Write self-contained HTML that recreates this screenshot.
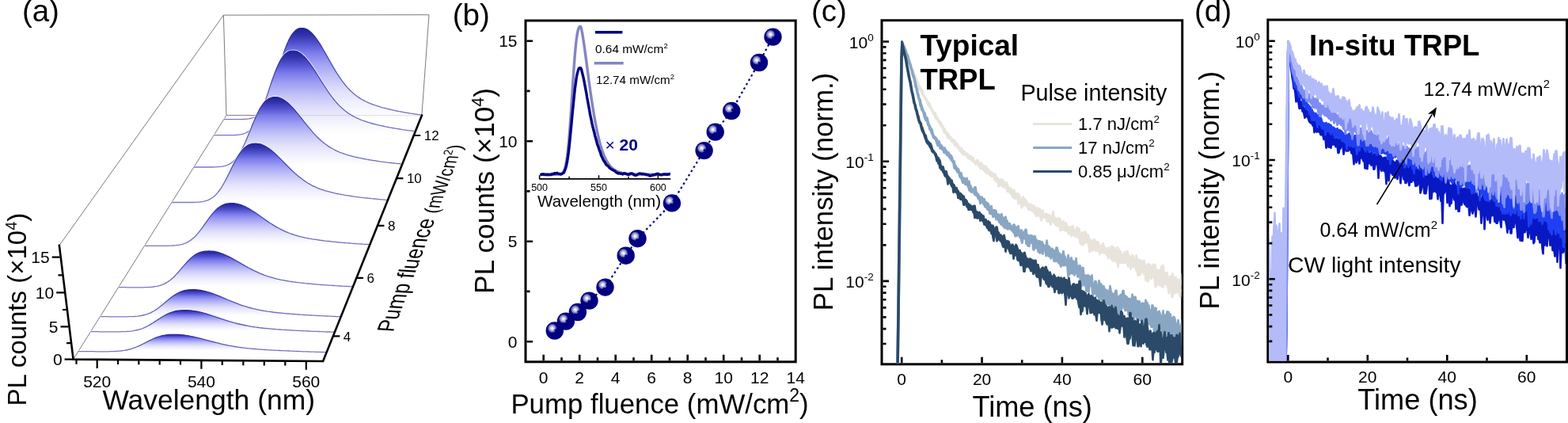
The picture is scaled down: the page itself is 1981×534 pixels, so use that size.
<!DOCTYPE html>
<html><head><meta charset="utf-8"><title>Figure</title><style>html,body{margin:0;padding:0;background:#fff;}svg{display:block;}</style></head><body>
<svg width="1981" height="534" viewBox="0 0 1981 534" font-family="'Liberation Sans', Arial, Helvetica, sans-serif"><rect width="1981" height="534" fill="#fff"/><defs>
<radialGradient id="hl" cx="0.5" cy="0.5" r="0.5"><stop offset="0" stop-color="#ffffff"/><stop offset="0.18" stop-color="#f0f0f8"/><stop offset="0.42" stop-color="#bcbcde"/><stop offset="0.72" stop-color="#7a7abe"/><stop offset="1" stop-color="#000080"/></radialGradient>
<clipPath id="cc"><rect x="1115.5" y="27" width="377" height="431.5"/></clipPath>
<clipPath id="cd"><rect x="1603.3" y="26.5" width="374.5" height="429"/></clipPath>
</defs>
<polyline points="74.9,309.9 282.4,19.1 542,18.7 532.9,145.8" stroke="#7a7a7a" stroke-width="1" fill="none"/>
<polyline points="92.6,453.6 286,145.5 532.9,145.8" stroke="#7a7a7a" stroke-width="1" fill="none"/>
<polyline points="282.4,19.1 286,145.5" stroke="#7a7a7a" stroke-width="1" fill="none"/>
<linearGradient id="g8" gradientUnits="userSpaceOnUse" x1="0" y1="34.6" x2="0" y2="148.8"><stop offset="0" stop-color="#1e1e96"/><stop offset="0.08" stop-color="#3030a8"/><stop offset="0.18" stop-color="#5454d2"/><stop offset="0.28" stop-color="#7c7cec"/><stop offset="0.4" stop-color="#a0a0f4"/><stop offset="0.55" stop-color="#c4c4f8"/><stop offset="0.7" stop-color="#e0e0fb"/><stop offset="0.85" stop-color="#f2f2fd"/><stop offset="1" stop-color="#ffffff"/></linearGradient>
<linearGradient id="lg8" gradientUnits="userSpaceOnUse" x1="0" y1="34.6" x2="0" y2="150.8"><stop offset="0" stop-color="#22229a"/><stop offset="0.4" stop-color="#4c4cb4"/><stop offset="1" stop-color="#7878c4"/></linearGradient>
<polyline points="282.8,150.7 284.6,150.7 286.3,150.7 288.1,150.7 289.9,150.7 291.7,150.7 293.4,150.7 295.2,150.7 297,150.7 298.8,150.7 300.5,150.7 302.3,150.7 304.1,150.6 305.9,150.6 307.6,150.5 309.4,150.4 311.2,150.3 313,150.1 314.7,149.9 316.5,149.5 318.3,149.1 320.1,148.5 321.8,147.8 323.6,146.9 325.4,145.7 327.1,144.3 328.9,142.6 330.7,140.5 332.4,138.1 334.2,135.2 335.9,132 337.7,128.4 339.5,124.3 341.2,119.9 343,115 344.8,109.8 346.6,104.4 348.4,98.7 350.2,92.9 352,86.9 353.8,81 355.6,75.3 357.5,69.6 359.3,64.3 361.2,59.3 363,54.8 364.9,50.6 366.7,47 368.6,43.9 370.5,41.4 372.4,39.4 374.2,37.8 376.1,36.7 378,36 379.8,35.7 381.7,35.6 383.6,35.7 385.4,36.1 387.3,36.8 389.1,37.8 391,39.2 392.8,40.7 394.7,42.6 396.5,44.6 398.3,46.9 400.1,49.4 402,52 403.8,54.8 405.6,57.7 407.4,60.7 409.1,63.8 410.9,66.9 412.7,70.1 414.5,73.2 416.2,76.4 418,79.5 419.8,82.6 421.5,85.6 423.3,88.6 425,91.4 426.8,94.2 428.5,96.9 430.3,99.4 432,101.9 433.8,104.2 435.5,106.5 437.3,108.6 439,110.6 440.8,112.5 442.5,114.3 444.3,116 446.1,117.5 447.8,119 449.6,120.4 451.3,121.7 453.1,122.9 454.9,124.1 456.6,125.2 458.4,126.2 460.2,127.1 461.9,128 463.7,128.9 465.5,129.6 467.2,130.4 469,131.1 470.8,131.8 472.5,132.4 474.3,133 476.1,133.6 477.9,134.2 479.6,134.7 481.4,135.3 483.2,135.8 485,136.2 486.7,136.7 488.5,137.2 490.3,137.6 492.1,138 493.9,138.4 495.6,138.8 497.4,139.2 499.2,139.6 501,140 502.7,140.3 504.5,140.7 506.3,141 508.1,141.3 509.9,141.7 511.6,142 513.4,142.3 515.2,142.6 517,142.9 518.8,143.2 520.5,143.4 522.3,143.7 524.1,144 525.9,144.2 527.7,144.5 529.4,144.7 531.2,144.9" fill="none" stroke="#ffffff" stroke-width="2.8"/>
<polygon points="282.8,150.7 284.6,150.7 286.3,150.7 288.1,150.7 289.9,150.7 291.7,150.7 293.4,150.7 295.2,150.7 297,150.7 298.8,150.7 300.5,150.7 302.3,150.7 304.1,150.6 305.9,150.6 307.6,150.5 309.4,150.4 311.2,150.3 313,150.1 314.7,149.9 316.5,149.5 318.3,149.1 320.1,148.5 321.8,147.8 323.6,146.9 325.4,145.7 327.1,144.3 328.9,142.6 330.7,140.5 332.4,138.1 334.2,135.2 335.9,132 337.7,128.4 339.5,124.3 341.2,119.9 343,115 344.8,109.8 346.6,104.4 348.4,98.7 350.2,92.9 352,86.9 353.8,81 355.6,75.3 357.5,69.6 359.3,64.3 361.2,59.3 363,54.8 364.9,50.6 366.7,47 368.6,43.9 370.5,41.4 372.4,39.4 374.2,37.8 376.1,36.7 378,36 379.8,35.7 381.7,35.6 383.6,35.7 385.4,36.1 387.3,36.8 389.1,37.8 391,39.2 392.8,40.7 394.7,42.6 396.5,44.6 398.3,46.9 400.1,49.4 402,52 403.8,54.8 405.6,57.7 407.4,60.7 409.1,63.8 410.9,66.9 412.7,70.1 414.5,73.2 416.2,76.4 418,79.5 419.8,82.6 421.5,85.6 423.3,88.6 425,91.4 426.8,94.2 428.5,96.9 430.3,99.4 432,101.9 433.8,104.2 435.5,106.5 437.3,108.6 439,110.6 440.8,112.5 442.5,114.3 444.3,116 446.1,117.5 447.8,119 449.6,120.4 451.3,121.7 453.1,122.9 454.9,124.1 456.6,125.2 458.4,126.2 460.2,127.1 461.9,128 463.7,128.9 465.5,129.6 467.2,130.4 469,131.1 470.8,131.8 472.5,132.4 474.3,133 476.1,133.6 477.9,134.2 479.6,134.7 481.4,135.3 483.2,135.8 485,136.2 486.7,136.7 488.5,137.2 490.3,137.6 492.1,138 493.9,138.4 495.6,138.8 497.4,139.2 499.2,139.6 501,140 502.7,140.3 504.5,140.7 506.3,141 508.1,141.3 509.9,141.7 511.6,142 513.4,142.3 515.2,142.6 517,142.9 518.8,143.2 520.5,143.4 522.3,143.7 524.1,144 525.9,144.2 527.7,144.5 529.4,144.7 531.2,144.9 530.8,151 529,151 527.2,151 525.4,151 523.6,151 521.8,151 520,150.9 518.2,150.9 516.5,150.9 514.7,150.9 512.9,150.9 511.1,150.9 509.3,150.9 507.5,150.9 505.7,150.9 503.9,150.9 502.1,150.9 500.3,150.9 498.5,150.9 496.7,150.9 495,150.9 493.2,150.9 491.4,150.9 489.6,150.9 487.8,150.9 486,150.9 484.2,150.9 482.4,150.9 480.6,150.9 478.8,150.9 477.1,150.9 475.3,150.9 473.5,150.9 471.7,150.9 469.9,150.9 468.1,150.9 466.3,150.9 464.5,150.9 462.7,150.9 461,150.9 459.2,150.9 457.4,150.9 455.6,150.9 453.8,150.9 452,150.9 450.2,150.9 448.4,150.9 446.7,150.9 444.9,150.9 443.1,150.9 441.3,150.9 439.5,150.9 437.7,150.9 435.9,150.9 434.1,150.9 432.4,150.9 430.6,150.9 428.8,150.9 427,150.8 425.2,150.8 423.4,150.8 421.6,150.8 419.9,150.8 418.1,150.8 416.3,150.8 414.5,150.8 412.7,150.8 410.9,150.8 409.1,150.8 407.4,150.8 405.6,150.8 403.8,150.8 402,150.8 400.2,150.8 398.4,150.8 396.7,150.8 394.9,150.8 393.1,150.8 391.3,150.8 389.5,150.8 387.7,150.8 386,150.8 384.2,150.8 382.4,150.8 380.6,150.8 378.8,150.8 377,150.8 375.3,150.8 373.5,150.8 371.7,150.8 369.9,150.8 368.1,150.8 366.4,150.8 364.6,150.8 362.8,150.8 361,150.8 359.2,150.8 357.5,150.8 355.7,150.8 353.9,150.8 352.1,150.8 350.3,150.8 348.6,150.8 346.8,150.8 345,150.8 343.2,150.8 341.4,150.8 339.7,150.8 337.9,150.8 336.1,150.7 334.3,150.7 332.5,150.7 330.8,150.7 329,150.7 327.2,150.7 325.4,150.7 323.6,150.7 321.9,150.7 320.1,150.7 318.3,150.7 316.5,150.7 314.8,150.7 313,150.7 311.2,150.7 309.4,150.7 307.7,150.7 305.9,150.7 304.1,150.7 302.3,150.7 300.5,150.7 298.8,150.7 297,150.7 295.2,150.7 293.4,150.7 291.7,150.7 289.9,150.7 288.1,150.7 286.3,150.7 284.6,150.7 282.8,150.7" fill="url(#g8)"/>
<polyline points="282.8,150.7 284.6,150.7 286.3,150.7 288.1,150.7 289.9,150.7 291.7,150.7 293.4,150.7 295.2,150.7 297,150.7 298.8,150.7 300.5,150.7 302.3,150.7 304.1,150.6 305.9,150.6 307.6,150.5 309.4,150.4 311.2,150.3 313,150.1 314.7,149.9 316.5,149.5 318.3,149.1 320.1,148.5 321.8,147.8 323.6,146.9 325.4,145.7 327.1,144.3 328.9,142.6 330.7,140.5 332.4,138.1 334.2,135.2 335.9,132 337.7,128.4 339.5,124.3 341.2,119.9 343,115 344.8,109.8 346.6,104.4 348.4,98.7 350.2,92.9 352,86.9 353.8,81 355.6,75.3 357.5,69.6 359.3,64.3 361.2,59.3 363,54.8 364.9,50.6 366.7,47 368.6,43.9 370.5,41.4 372.4,39.4 374.2,37.8 376.1,36.7 378,36 379.8,35.7 381.7,35.6 383.6,35.7 385.4,36.1 387.3,36.8 389.1,37.8 391,39.2 392.8,40.7 394.7,42.6 396.5,44.6 398.3,46.9 400.1,49.4 402,52 403.8,54.8 405.6,57.7 407.4,60.7 409.1,63.8 410.9,66.9 412.7,70.1 414.5,73.2 416.2,76.4 418,79.5 419.8,82.6 421.5,85.6 423.3,88.6 425,91.4 426.8,94.2 428.5,96.9 430.3,99.4 432,101.9 433.8,104.2 435.5,106.5 437.3,108.6 439,110.6 440.8,112.5 442.5,114.3 444.3,116 446.1,117.5 447.8,119 449.6,120.4 451.3,121.7 453.1,122.9 454.9,124.1 456.6,125.2 458.4,126.2 460.2,127.1 461.9,128 463.7,128.9 465.5,129.6 467.2,130.4 469,131.1 470.8,131.8 472.5,132.4 474.3,133 476.1,133.6 477.9,134.2 479.6,134.7 481.4,135.3 483.2,135.8 485,136.2 486.7,136.7 488.5,137.2 490.3,137.6 492.1,138 493.9,138.4 495.6,138.8 497.4,139.2 499.2,139.6 501,140 502.7,140.3 504.5,140.7 506.3,141 508.1,141.3 509.9,141.7 511.6,142 513.4,142.3 515.2,142.6 517,142.9 518.8,143.2 520.5,143.4 522.3,143.7 524.1,144 525.9,144.2 527.7,144.5 529.4,144.7 531.2,144.9" fill="none" stroke="url(#lg8)" stroke-width="1.3"/>
<linearGradient id="g7" gradientUnits="userSpaceOnUse" x1="0" y1="63.1" x2="0" y2="168.9"><stop offset="0" stop-color="#1e1e96"/><stop offset="0.08" stop-color="#3030a8"/><stop offset="0.18" stop-color="#5454d2"/><stop offset="0.28" stop-color="#7c7cec"/><stop offset="0.4" stop-color="#a0a0f4"/><stop offset="0.55" stop-color="#c4c4f8"/><stop offset="0.7" stop-color="#e0e0fb"/><stop offset="0.85" stop-color="#f2f2fd"/><stop offset="1" stop-color="#ffffff"/></linearGradient>
<linearGradient id="lg7" gradientUnits="userSpaceOnUse" x1="0" y1="63.1" x2="0" y2="170.9"><stop offset="0" stop-color="#22229a"/><stop offset="0.4" stop-color="#4c4cb4"/><stop offset="1" stop-color="#7878c4"/></linearGradient>
<polyline points="270.2,170.7 272,170.7 273.8,170.7 275.6,170.7 277.4,170.7 279.3,170.7 281.1,170.7 282.9,170.7 284.7,170.7 286.5,170.7 288.3,170.7 290.1,170.7 291.9,170.7 293.7,170.6 295.5,170.6 297.3,170.5 299.1,170.4 300.9,170.2 302.7,170 304.6,169.7 306.4,169.3 308.2,168.7 310,168 311.7,167.2 313.5,166.1 315.3,164.8 317.1,163.2 318.9,161.3 320.7,159 322.5,156.4 324.3,153.4 326,150 327.8,146.3 329.6,142.1 331.4,137.6 333.2,132.8 335,127.8 336.8,122.5 338.6,117.1 340.4,111.6 342.2,106.1 344,100.8 345.9,95.6 347.7,90.7 349.6,86.1 351.5,81.8 353.3,78 355.2,74.7 357.1,71.8 359,69.5 360.9,67.6 362.8,66.2 364.7,65.2 366.6,64.5 368.5,64.2 370.4,64.1 372.2,64.2 374.1,64.6 376,65.2 377.9,66.2 379.8,67.4 381.7,68.9 383.5,70.6 385.4,72.5 387.3,74.6 389.1,76.9 391,79.3 392.8,81.9 394.7,84.6 396.5,87.4 398.4,90.2 400.2,93.1 402,96 403.8,98.9 405.6,101.9 407.4,104.7 409.3,107.6 411.1,110.4 412.9,113.1 414.7,115.8 416.5,118.4 418.3,120.8 420,123.2 421.8,125.5 423.6,127.7 425.4,129.8 427.2,131.7 429,133.6 430.8,135.3 432.6,137 434.4,138.6 436.2,140 438,141.4 439.8,142.7 441.6,143.9 443.4,145 445.2,146.1 447,147.1 448.8,148 450.6,148.9 452.4,149.7 454.2,150.5 456,151.3 457.8,152 459.6,152.6 461.4,153.2 463.3,153.8 465.1,154.4 466.9,155 468.7,155.5 470.5,156 472.3,156.5 474.1,156.9 475.9,157.4 477.7,157.8 479.6,158.2 481.4,158.6 483.2,159 485,159.4 486.8,159.8 488.6,160.2 490.4,160.5 492.2,160.9 494.1,161.2 495.9,161.5 497.7,161.8 499.5,162.1 501.3,162.4 503.1,162.7 504.9,163 506.7,163.3 508.6,163.6 510.4,163.8 512.2,164.1 514,164.3 515.8,164.6 517.6,164.8 519.4,165 521.3,165.3 523.1,165.5" fill="none" stroke="#ffffff" stroke-width="2.8"/>
<polygon points="270.2,170.7 272,170.7 273.8,170.7 275.6,170.7 277.4,170.7 279.3,170.7 281.1,170.7 282.9,170.7 284.7,170.7 286.5,170.7 288.3,170.7 290.1,170.7 291.9,170.7 293.7,170.6 295.5,170.6 297.3,170.5 299.1,170.4 300.9,170.2 302.7,170 304.6,169.7 306.4,169.3 308.2,168.7 310,168 311.7,167.2 313.5,166.1 315.3,164.8 317.1,163.2 318.9,161.3 320.7,159 322.5,156.4 324.3,153.4 326,150 327.8,146.3 329.6,142.1 331.4,137.6 333.2,132.8 335,127.8 336.8,122.5 338.6,117.1 340.4,111.6 342.2,106.1 344,100.8 345.9,95.6 347.7,90.7 349.6,86.1 351.5,81.8 353.3,78 355.2,74.7 357.1,71.8 359,69.5 360.9,67.6 362.8,66.2 364.7,65.2 366.6,64.5 368.5,64.2 370.4,64.1 372.2,64.2 374.1,64.6 376,65.2 377.9,66.2 379.8,67.4 381.7,68.9 383.5,70.6 385.4,72.5 387.3,74.6 389.1,76.9 391,79.3 392.8,81.9 394.7,84.6 396.5,87.4 398.4,90.2 400.2,93.1 402,96 403.8,98.9 405.6,101.9 407.4,104.7 409.3,107.6 411.1,110.4 412.9,113.1 414.7,115.8 416.5,118.4 418.3,120.8 420,123.2 421.8,125.5 423.6,127.7 425.4,129.8 427.2,131.7 429,133.6 430.8,135.3 432.6,137 434.4,138.6 436.2,140 438,141.4 439.8,142.7 441.6,143.9 443.4,145 445.2,146.1 447,147.1 448.8,148 450.6,148.9 452.4,149.7 454.2,150.5 456,151.3 457.8,152 459.6,152.6 461.4,153.2 463.3,153.8 465.1,154.4 466.9,155 468.7,155.5 470.5,156 472.3,156.5 474.1,156.9 475.9,157.4 477.7,157.8 479.6,158.2 481.4,158.6 483.2,159 485,159.4 486.8,159.8 488.6,160.2 490.4,160.5 492.2,160.9 494.1,161.2 495.9,161.5 497.7,161.8 499.5,162.1 501.3,162.4 503.1,162.7 504.9,163 506.7,163.3 508.6,163.6 510.4,163.8 512.2,164.1 514,164.3 515.8,164.6 517.6,164.8 519.4,165 521.3,165.3 523.1,165.5 522.7,171.1 520.9,171.1 519,171.1 517.2,171.1 515.4,171.1 513.6,171.1 511.7,171.1 509.9,171.1 508.1,171.1 506.3,171.1 504.4,171.1 502.6,171.1 500.8,171.1 499,171.1 497.1,171 495.3,171 493.5,171 491.7,171 489.9,171 488,171 486.2,171 484.4,171 482.6,171 480.7,171 478.9,171 477.1,171 475.3,171 473.4,171 471.6,171 469.8,171 468,171 466.2,171 464.3,171 462.5,171 460.7,171 458.9,171 457.1,171 455.2,171 453.4,171 451.6,171 449.8,171 447.9,171 446.1,171 444.3,171 442.5,171 440.7,171 438.8,171 437,171 435.2,171 433.4,171 431.6,171 429.8,170.9 427.9,170.9 426.1,170.9 424.3,170.9 422.5,170.9 420.7,170.9 418.8,170.9 417,170.9 415.2,170.9 413.4,170.9 411.6,170.9 409.8,170.9 407.9,170.9 406.1,170.9 404.3,170.9 402.5,170.9 400.7,170.9 398.9,170.9 397,170.9 395.2,170.9 393.4,170.9 391.6,170.9 389.8,170.9 388,170.9 386.1,170.9 384.3,170.9 382.5,170.9 380.7,170.9 378.9,170.9 377.1,170.9 375.2,170.9 373.4,170.9 371.6,170.9 369.8,170.9 368,170.9 366.2,170.9 364.4,170.8 362.5,170.8 360.7,170.8 358.9,170.8 357.1,170.8 355.3,170.8 353.5,170.8 351.7,170.8 349.9,170.8 348,170.8 346.2,170.8 344.4,170.8 342.6,170.8 340.8,170.8 339,170.8 337.2,170.8 335.4,170.8 333.5,170.8 331.7,170.8 329.9,170.8 328.1,170.8 326.3,170.8 324.5,170.8 322.7,170.8 320.9,170.8 319.1,170.8 317.2,170.8 315.4,170.8 313.6,170.8 311.8,170.8 310,170.8 308.2,170.8 306.4,170.8 304.6,170.8 302.8,170.8 301,170.8 299.1,170.8 297.3,170.7 295.5,170.7 293.7,170.7 291.9,170.7 290.1,170.7 288.3,170.7 286.5,170.7 284.7,170.7 282.9,170.7 281.1,170.7 279.3,170.7 277.4,170.7 275.6,170.7 273.8,170.7 272,170.7 270.2,170.7" fill="url(#g7)"/>
<polyline points="270.2,170.7 272,170.7 273.8,170.7 275.6,170.7 277.4,170.7 279.3,170.7 281.1,170.7 282.9,170.7 284.7,170.7 286.5,170.7 288.3,170.7 290.1,170.7 291.9,170.7 293.7,170.6 295.5,170.6 297.3,170.5 299.1,170.4 300.9,170.2 302.7,170 304.6,169.7 306.4,169.3 308.2,168.7 310,168 311.7,167.2 313.5,166.1 315.3,164.8 317.1,163.2 318.9,161.3 320.7,159 322.5,156.4 324.3,153.4 326,150 327.8,146.3 329.6,142.1 331.4,137.6 333.2,132.8 335,127.8 336.8,122.5 338.6,117.1 340.4,111.6 342.2,106.1 344,100.8 345.9,95.6 347.7,90.7 349.6,86.1 351.5,81.8 353.3,78 355.2,74.7 357.1,71.8 359,69.5 360.9,67.6 362.8,66.2 364.7,65.2 366.6,64.5 368.5,64.2 370.4,64.1 372.2,64.2 374.1,64.6 376,65.2 377.9,66.2 379.8,67.4 381.7,68.9 383.5,70.6 385.4,72.5 387.3,74.6 389.1,76.9 391,79.3 392.8,81.9 394.7,84.6 396.5,87.4 398.4,90.2 400.2,93.1 402,96 403.8,98.9 405.6,101.9 407.4,104.7 409.3,107.6 411.1,110.4 412.9,113.1 414.7,115.8 416.5,118.4 418.3,120.8 420,123.2 421.8,125.5 423.6,127.7 425.4,129.8 427.2,131.7 429,133.6 430.8,135.3 432.6,137 434.4,138.6 436.2,140 438,141.4 439.8,142.7 441.6,143.9 443.4,145 445.2,146.1 447,147.1 448.8,148 450.6,148.9 452.4,149.7 454.2,150.5 456,151.3 457.8,152 459.6,152.6 461.4,153.2 463.3,153.8 465.1,154.4 466.9,155 468.7,155.5 470.5,156 472.3,156.5 474.1,156.9 475.9,157.4 477.7,157.8 479.6,158.2 481.4,158.6 483.2,159 485,159.4 486.8,159.8 488.6,160.2 490.4,160.5 492.2,160.9 494.1,161.2 495.9,161.5 497.7,161.8 499.5,162.1 501.3,162.4 503.1,162.7 504.9,163 506.7,163.3 508.6,163.6 510.4,163.8 512.2,164.1 514,164.3 515.8,164.6 517.6,164.8 519.4,165 521.3,165.3 523.1,165.5" fill="none" stroke="url(#lg7)" stroke-width="1.3"/>
<linearGradient id="g6" gradientUnits="userSpaceOnUse" x1="0" y1="121.6" x2="0" y2="209.2"><stop offset="0" stop-color="#1e1e96"/><stop offset="0.08" stop-color="#3030a8"/><stop offset="0.18" stop-color="#5454d2"/><stop offset="0.28" stop-color="#7c7cec"/><stop offset="0.4" stop-color="#a0a0f4"/><stop offset="0.55" stop-color="#c4c4f8"/><stop offset="0.7" stop-color="#e0e0fb"/><stop offset="0.85" stop-color="#f2f2fd"/><stop offset="1" stop-color="#ffffff"/></linearGradient>
<linearGradient id="lg6" gradientUnits="userSpaceOnUse" x1="0" y1="121.6" x2="0" y2="211.2"><stop offset="0" stop-color="#22229a"/><stop offset="0.4" stop-color="#4c4cb4"/><stop offset="1" stop-color="#7878c4"/></linearGradient>
<polyline points="244.9,211 246.8,211 248.7,211 250.5,211 252.4,211 254.3,211 256.1,211 258,211 259.9,211 261.8,211 263.6,211 265.5,211 267.4,211 269.2,211 271.1,210.9 273,210.8 274.9,210.7 276.7,210.6 278.6,210.4 280.5,210.2 282.3,209.8 284.2,209.4 286,208.8 287.9,208.1 289.7,207.2 291.6,206.1 293.4,204.8 295.3,203.2 297.1,201.3 298.9,199.1 300.8,196.6 302.6,193.8 304.4,190.7 306.2,187.2 308,183.5 309.9,179.5 311.7,175.3 313.5,170.9 315.3,166.4 317.2,161.9 319,157.3 320.9,152.9 322.7,148.6 324.6,144.5 326.5,140.7 328.4,137.2 330.3,134.1 332.2,131.3 334.1,128.9 336,127 338,125.5 339.9,124.3 341.9,123.5 343.8,122.9 345.7,122.7 347.7,122.6 349.6,122.7 351.6,123 353.5,123.5 355.5,124.3 357.4,125.3 359.4,126.5 361.3,127.9 363.3,129.5 365.2,131.3 367.1,133.2 369.1,135.2 371,137.3 372.9,139.5 374.8,141.8 376.8,144.2 378.7,146.6 380.6,149 382.5,151.4 384.4,153.8 386.3,156.2 388.2,158.6 390.1,160.9 392,163.2 393.9,165.4 395.7,167.6 397.6,169.6 399.5,171.6 401.4,173.5 403.3,175.3 405.1,177 407,178.7 408.9,180.2 410.8,181.7 412.7,183.1 414.5,184.4 416.4,185.6 418.3,186.7 420.2,187.8 422,188.8 423.9,189.8 425.8,190.7 427.7,191.5 429.5,192.3 431.4,193 433.3,193.7 435.2,194.4 437.1,195 438.9,195.6 440.8,196.1 442.7,196.6 444.6,197.1 446.5,197.6 448.3,198.1 450.2,198.5 452.1,198.9 454,199.4 455.9,199.7 457.7,200.1 459.6,200.5 461.5,200.8 463.4,201.2 465.3,201.5 467.1,201.8 469,202.1 470.9,202.5 472.8,202.7 474.7,203 476.6,203.3 478.4,203.6 480.3,203.9 482.2,204.1 484.1,204.4 486,204.6 487.8,204.9 489.7,205.1 491.6,205.3 493.5,205.5 495.4,205.8 497.3,206 499.1,206.2 501,206.4 502.9,206.6 504.8,206.7 506.7,206.9" fill="none" stroke="#ffffff" stroke-width="2.8"/>
<polygon points="244.9,211 246.8,211 248.7,211 250.5,211 252.4,211 254.3,211 256.1,211 258,211 259.9,211 261.8,211 263.6,211 265.5,211 267.4,211 269.2,211 271.1,210.9 273,210.8 274.9,210.7 276.7,210.6 278.6,210.4 280.5,210.2 282.3,209.8 284.2,209.4 286,208.8 287.9,208.1 289.7,207.2 291.6,206.1 293.4,204.8 295.3,203.2 297.1,201.3 298.9,199.1 300.8,196.6 302.6,193.8 304.4,190.7 306.2,187.2 308,183.5 309.9,179.5 311.7,175.3 313.5,170.9 315.3,166.4 317.2,161.9 319,157.3 320.9,152.9 322.7,148.6 324.6,144.5 326.5,140.7 328.4,137.2 330.3,134.1 332.2,131.3 334.1,128.9 336,127 338,125.5 339.9,124.3 341.9,123.5 343.8,122.9 345.7,122.7 347.7,122.6 349.6,122.7 351.6,123 353.5,123.5 355.5,124.3 357.4,125.3 359.4,126.5 361.3,127.9 363.3,129.5 365.2,131.3 367.1,133.2 369.1,135.2 371,137.3 372.9,139.5 374.8,141.8 376.8,144.2 378.7,146.6 380.6,149 382.5,151.4 384.4,153.8 386.3,156.2 388.2,158.6 390.1,160.9 392,163.2 393.9,165.4 395.7,167.6 397.6,169.6 399.5,171.6 401.4,173.5 403.3,175.3 405.1,177 407,178.7 408.9,180.2 410.8,181.7 412.7,183.1 414.5,184.4 416.4,185.6 418.3,186.7 420.2,187.8 422,188.8 423.9,189.8 425.8,190.7 427.7,191.5 429.5,192.3 431.4,193 433.3,193.7 435.2,194.4 437.1,195 438.9,195.6 440.8,196.1 442.7,196.6 444.6,197.1 446.5,197.6 448.3,198.1 450.2,198.5 452.1,198.9 454,199.4 455.9,199.7 457.7,200.1 459.6,200.5 461.5,200.8 463.4,201.2 465.3,201.5 467.1,201.8 469,202.1 470.9,202.5 472.8,202.7 474.7,203 476.6,203.3 478.4,203.6 480.3,203.9 482.2,204.1 484.1,204.4 486,204.6 487.8,204.9 489.7,205.1 491.6,205.3 493.5,205.5 495.4,205.8 497.3,206 499.1,206.2 501,206.4 502.9,206.6 504.8,206.7 506.7,206.9 506.4,211.6 504.5,211.6 502.6,211.6 500.7,211.6 498.8,211.6 496.9,211.6 495,211.6 493.2,211.6 491.3,211.6 489.4,211.6 487.5,211.6 485.6,211.6 483.7,211.6 481.8,211.6 479.9,211.6 478,211.6 476.1,211.5 474.3,211.5 472.4,211.5 470.5,211.5 468.6,211.5 466.7,211.5 464.8,211.5 462.9,211.5 461,211.5 459.2,211.5 457.3,211.5 455.4,211.5 453.5,211.5 451.6,211.5 449.7,211.5 447.8,211.5 445.9,211.5 444.1,211.5 442.2,211.5 440.3,211.5 438.4,211.5 436.5,211.5 434.6,211.5 432.7,211.4 430.9,211.4 429,211.4 427.1,211.4 425.2,211.4 423.3,211.4 421.4,211.4 419.5,211.4 417.7,211.4 415.8,211.4 413.9,211.4 412,211.4 410.1,211.4 408.2,211.4 406.4,211.4 404.5,211.4 402.6,211.4 400.7,211.4 398.8,211.4 396.9,211.4 395.1,211.4 393.2,211.4 391.3,211.3 389.4,211.3 387.5,211.3 385.6,211.3 383.8,211.3 381.9,211.3 380,211.3 378.1,211.3 376.2,211.3 374.4,211.3 372.5,211.3 370.6,211.3 368.7,211.3 366.8,211.3 365,211.3 363.1,211.3 361.2,211.3 359.3,211.3 357.4,211.3 355.6,211.3 353.7,211.3 351.8,211.3 349.9,211.3 348,211.2 346.2,211.2 344.3,211.2 342.4,211.2 340.5,211.2 338.6,211.2 336.8,211.2 334.9,211.2 333,211.2 331.1,211.2 329.3,211.2 327.4,211.2 325.5,211.2 323.6,211.2 321.7,211.2 319.9,211.2 318,211.2 316.1,211.2 314.2,211.2 312.4,211.2 310.5,211.2 308.6,211.2 306.7,211.2 304.9,211.1 303,211.1 301.1,211.1 299.2,211.1 297.4,211.1 295.5,211.1 293.6,211.1 291.7,211.1 289.9,211.1 288,211.1 286.1,211.1 284.2,211.1 282.4,211.1 280.5,211.1 278.6,211.1 276.7,211.1 274.9,211.1 273,211.1 271.1,211.1 269.2,211.1 267.4,211.1 265.5,211.1 263.6,211 261.8,211 259.9,211 258,211 256.1,211 254.3,211 252.4,211 250.5,211 248.7,211 246.8,211 244.9,211" fill="url(#g6)"/>
<polyline points="244.9,211 246.8,211 248.7,211 250.5,211 252.4,211 254.3,211 256.1,211 258,211 259.9,211 261.8,211 263.6,211 265.5,211 267.4,211 269.2,211 271.1,210.9 273,210.8 274.9,210.7 276.7,210.6 278.6,210.4 280.5,210.2 282.3,209.8 284.2,209.4 286,208.8 287.9,208.1 289.7,207.2 291.6,206.1 293.4,204.8 295.3,203.2 297.1,201.3 298.9,199.1 300.8,196.6 302.6,193.8 304.4,190.7 306.2,187.2 308,183.5 309.9,179.5 311.7,175.3 313.5,170.9 315.3,166.4 317.2,161.9 319,157.3 320.9,152.9 322.7,148.6 324.6,144.5 326.5,140.7 328.4,137.2 330.3,134.1 332.2,131.3 334.1,128.9 336,127 338,125.5 339.9,124.3 341.9,123.5 343.8,122.9 345.7,122.7 347.7,122.6 349.6,122.7 351.6,123 353.5,123.5 355.5,124.3 357.4,125.3 359.4,126.5 361.3,127.9 363.3,129.5 365.2,131.3 367.1,133.2 369.1,135.2 371,137.3 372.9,139.5 374.8,141.8 376.8,144.2 378.7,146.6 380.6,149 382.5,151.4 384.4,153.8 386.3,156.2 388.2,158.6 390.1,160.9 392,163.2 393.9,165.4 395.7,167.6 397.6,169.6 399.5,171.6 401.4,173.5 403.3,175.3 405.1,177 407,178.7 408.9,180.2 410.8,181.7 412.7,183.1 414.5,184.4 416.4,185.6 418.3,186.7 420.2,187.8 422,188.8 423.9,189.8 425.8,190.7 427.7,191.5 429.5,192.3 431.4,193 433.3,193.7 435.2,194.4 437.1,195 438.9,195.6 440.8,196.1 442.7,196.6 444.6,197.1 446.5,197.6 448.3,198.1 450.2,198.5 452.1,198.9 454,199.4 455.9,199.7 457.7,200.1 459.6,200.5 461.5,200.8 463.4,201.2 465.3,201.5 467.1,201.8 469,202.1 470.9,202.5 472.8,202.7 474.7,203 476.6,203.3 478.4,203.6 480.3,203.9 482.2,204.1 484.1,204.4 486,204.6 487.8,204.9 489.7,205.1 491.6,205.3 493.5,205.5 495.4,205.8 497.3,206 499.1,206.2 501,206.4 502.9,206.6 504.8,206.7 506.7,206.9" fill="none" stroke="url(#lg6)" stroke-width="1.3"/>
<linearGradient id="g5" gradientUnits="userSpaceOnUse" x1="0" y1="180.2" x2="0" y2="253.9"><stop offset="0" stop-color="#1e1e96"/><stop offset="0.08" stop-color="#3030a8"/><stop offset="0.18" stop-color="#5454d2"/><stop offset="0.28" stop-color="#7c7cec"/><stop offset="0.4" stop-color="#a0a0f4"/><stop offset="0.55" stop-color="#c4c4f8"/><stop offset="0.7" stop-color="#e0e0fb"/><stop offset="0.85" stop-color="#f2f2fd"/><stop offset="1" stop-color="#ffffff"/></linearGradient>
<linearGradient id="lg5" gradientUnits="userSpaceOnUse" x1="0" y1="180.2" x2="0" y2="255.9"><stop offset="0" stop-color="#22229a"/><stop offset="0.4" stop-color="#4c4cb4"/><stop offset="1" stop-color="#7878c4"/></linearGradient>
<polyline points="217,255.5 218.9,255.5 220.9,255.5 222.8,255.5 224.7,255.5 226.7,255.5 228.6,255.5 230.6,255.5 232.5,255.5 234.5,255.5 236.4,255.5 238.3,255.5 240.3,255.5 242.2,255.5 244.2,255.5 246.1,255.4 248,255.3 250,255.2 251.9,255.1 253.9,254.8 255.8,254.6 257.7,254.2 259.6,253.7 261.6,253.1 263.5,252.4 265.4,251.4 267.3,250.3 269.2,248.9 271.1,247.4 273,245.5 274.9,243.4 276.7,241 278.6,238.4 280.5,235.5 282.3,232.3 284.2,229 286.1,225.4 287.9,221.7 289.8,218 291.7,214.1 293.5,210.3 295.4,206.6 297.3,203 299.2,199.6 301.2,196.4 303.1,193.4 305,190.8 307,188.5 309,186.5 310.9,184.9 312.9,183.6 314.9,182.6 316.9,181.9 318.9,181.5 320.9,181.3 322.9,181.2 324.9,181.3 327,181.6 329,182 331,182.7 333,183.5 335,184.6 337.1,185.7 339.1,187.1 341.1,188.5 343.1,190.1 345.1,191.8 347.1,193.6 349.2,195.5 351.2,197.4 353.2,199.4 355.2,201.4 357.2,203.4 359.2,205.5 361.2,207.5 363.1,209.5 365.1,211.5 367.1,213.5 369.1,215.4 371.1,217.2 373,219 375,220.8 377,222.5 379,224.1 380.9,225.6 382.9,227 384.8,228.4 386.8,229.7 388.8,231 390.7,232.1 392.7,233.2 394.6,234.3 396.6,235.2 398.6,236.2 400.5,237 402.5,237.8 404.4,238.6 406.4,239.3 408.4,239.9 410.3,240.6 412.3,241.2 414.2,241.7 416.2,242.2 418.1,242.7 420.1,243.2 422,243.6 424,244.1 426,244.5 427.9,244.9 429.9,245.2 431.8,245.6 433.8,245.9 435.7,246.3 437.7,246.6 439.7,246.9 441.6,247.2 443.6,247.5 445.5,247.8 447.5,248.1 449.4,248.3 451.4,248.6 453.4,248.8 455.3,249.1 457.3,249.3 459.2,249.6 461.2,249.8 463.1,250 465.1,250.2 467.1,250.4 469,250.7 471,250.9 472.9,251 474.9,251.2 476.8,251.4 478.8,251.6 480.8,251.8 482.7,251.9 484.7,252.1 486.6,252.3 488.6,252.4" fill="none" stroke="#ffffff" stroke-width="2.8"/>
<polygon points="217,255.5 218.9,255.5 220.9,255.5 222.8,255.5 224.7,255.5 226.7,255.5 228.6,255.5 230.6,255.5 232.5,255.5 234.5,255.5 236.4,255.5 238.3,255.5 240.3,255.5 242.2,255.5 244.2,255.5 246.1,255.4 248,255.3 250,255.2 251.9,255.1 253.9,254.8 255.8,254.6 257.7,254.2 259.6,253.7 261.6,253.1 263.5,252.4 265.4,251.4 267.3,250.3 269.2,248.9 271.1,247.4 273,245.5 274.9,243.4 276.7,241 278.6,238.4 280.5,235.5 282.3,232.3 284.2,229 286.1,225.4 287.9,221.7 289.8,218 291.7,214.1 293.5,210.3 295.4,206.6 297.3,203 299.2,199.6 301.2,196.4 303.1,193.4 305,190.8 307,188.5 309,186.5 310.9,184.9 312.9,183.6 314.9,182.6 316.9,181.9 318.9,181.5 320.9,181.3 322.9,181.2 324.9,181.3 327,181.6 329,182 331,182.7 333,183.5 335,184.6 337.1,185.7 339.1,187.1 341.1,188.5 343.1,190.1 345.1,191.8 347.1,193.6 349.2,195.5 351.2,197.4 353.2,199.4 355.2,201.4 357.2,203.4 359.2,205.5 361.2,207.5 363.1,209.5 365.1,211.5 367.1,213.5 369.1,215.4 371.1,217.2 373,219 375,220.8 377,222.5 379,224.1 380.9,225.6 382.9,227 384.8,228.4 386.8,229.7 388.8,231 390.7,232.1 392.7,233.2 394.6,234.3 396.6,235.2 398.6,236.2 400.5,237 402.5,237.8 404.4,238.6 406.4,239.3 408.4,239.9 410.3,240.6 412.3,241.2 414.2,241.7 416.2,242.2 418.1,242.7 420.1,243.2 422,243.6 424,244.1 426,244.5 427.9,244.9 429.9,245.2 431.8,245.6 433.8,245.9 435.7,246.3 437.7,246.6 439.7,246.9 441.6,247.2 443.6,247.5 445.5,247.8 447.5,248.1 449.4,248.3 451.4,248.6 453.4,248.8 455.3,249.1 457.3,249.3 459.2,249.6 461.2,249.8 463.1,250 465.1,250.2 467.1,250.4 469,250.7 471,250.9 472.9,251 474.9,251.2 476.8,251.4 478.8,251.6 480.8,251.8 482.7,251.9 484.7,252.1 486.6,252.3 488.6,252.4 488.4,256.4 486.4,256.4 484.4,256.4 482.5,256.4 480.5,256.4 478.6,256.4 476.6,256.4 474.6,256.4 472.7,256.3 470.7,256.3 468.7,256.3 466.8,256.3 464.8,256.3 462.9,256.3 460.9,256.3 458.9,256.3 457,256.3 455,256.3 453.1,256.3 451.1,256.3 449.1,256.3 447.2,256.3 445.2,256.3 443.3,256.2 441.3,256.2 439.3,256.2 437.4,256.2 435.4,256.2 433.5,256.2 431.5,256.2 429.5,256.2 427.6,256.2 425.6,256.2 423.7,256.2 421.7,256.2 419.7,256.2 417.8,256.2 415.8,256.2 413.9,256.2 411.9,256.1 410,256.1 408,256.1 406,256.1 404.1,256.1 402.1,256.1 400.2,256.1 398.2,256.1 396.3,256.1 394.3,256.1 392.3,256.1 390.4,256.1 388.4,256.1 386.5,256.1 384.5,256.1 382.6,256 380.6,256 378.7,256 376.7,256 374.8,256 372.8,256 370.8,256 368.9,256 366.9,256 365,256 363,256 361.1,256 359.1,256 357.2,256 355.2,256 353.3,256 351.3,255.9 349.4,255.9 347.4,255.9 345.5,255.9 343.5,255.9 341.6,255.9 339.6,255.9 337.7,255.9 335.7,255.9 333.7,255.9 331.8,255.9 329.8,255.9 327.9,255.9 325.9,255.9 324,255.9 322,255.8 320.1,255.8 318.1,255.8 316.2,255.8 314.2,255.8 312.3,255.8 310.3,255.8 308.4,255.8 306.4,255.8 304.5,255.8 302.6,255.8 300.6,255.8 298.7,255.8 296.7,255.8 294.8,255.8 292.8,255.8 290.9,255.7 288.9,255.7 287,255.7 285,255.7 283.1,255.7 281.1,255.7 279.2,255.7 277.2,255.7 275.3,255.7 273.3,255.7 271.4,255.7 269.5,255.7 267.5,255.7 265.6,255.7 263.6,255.7 261.7,255.7 259.7,255.6 257.8,255.6 255.8,255.6 253.9,255.6 251.9,255.6 250,255.6 248.1,255.6 246.1,255.6 244.2,255.6 242.2,255.6 240.3,255.6 238.3,255.6 236.4,255.6 234.5,255.6 232.5,255.6 230.6,255.5 228.6,255.5 226.7,255.5 224.7,255.5 222.8,255.5 220.9,255.5 218.9,255.5 217,255.5" fill="url(#g5)"/>
<polyline points="217,255.5 218.9,255.5 220.9,255.5 222.8,255.5 224.7,255.5 226.7,255.5 228.6,255.5 230.6,255.5 232.5,255.5 234.5,255.5 236.4,255.5 238.3,255.5 240.3,255.5 242.2,255.5 244.2,255.5 246.1,255.4 248,255.3 250,255.2 251.9,255.1 253.9,254.8 255.8,254.6 257.7,254.2 259.6,253.7 261.6,253.1 263.5,252.4 265.4,251.4 267.3,250.3 269.2,248.9 271.1,247.4 273,245.5 274.9,243.4 276.7,241 278.6,238.4 280.5,235.5 282.3,232.3 284.2,229 286.1,225.4 287.9,221.7 289.8,218 291.7,214.1 293.5,210.3 295.4,206.6 297.3,203 299.2,199.6 301.2,196.4 303.1,193.4 305,190.8 307,188.5 309,186.5 310.9,184.9 312.9,183.6 314.9,182.6 316.9,181.9 318.9,181.5 320.9,181.3 322.9,181.2 324.9,181.3 327,181.6 329,182 331,182.7 333,183.5 335,184.6 337.1,185.7 339.1,187.1 341.1,188.5 343.1,190.1 345.1,191.8 347.1,193.6 349.2,195.5 351.2,197.4 353.2,199.4 355.2,201.4 357.2,203.4 359.2,205.5 361.2,207.5 363.1,209.5 365.1,211.5 367.1,213.5 369.1,215.4 371.1,217.2 373,219 375,220.8 377,222.5 379,224.1 380.9,225.6 382.9,227 384.8,228.4 386.8,229.7 388.8,231 390.7,232.1 392.7,233.2 394.6,234.3 396.6,235.2 398.6,236.2 400.5,237 402.5,237.8 404.4,238.6 406.4,239.3 408.4,239.9 410.3,240.6 412.3,241.2 414.2,241.7 416.2,242.2 418.1,242.7 420.1,243.2 422,243.6 424,244.1 426,244.5 427.9,244.9 429.9,245.2 431.8,245.6 433.8,245.9 435.7,246.3 437.7,246.6 439.7,246.9 441.6,247.2 443.6,247.5 445.5,247.8 447.5,248.1 449.4,248.3 451.4,248.6 453.4,248.8 455.3,249.1 457.3,249.3 459.2,249.6 461.2,249.8 463.1,250 465.1,250.2 467.1,250.4 469,250.7 471,250.9 472.9,251 474.9,251.2 476.8,251.4 478.8,251.6 480.8,251.8 482.7,251.9 484.7,252.1 486.6,252.3 488.6,252.4" fill="none" stroke="url(#lg5)" stroke-width="1.3"/>
<linearGradient id="g4" gradientUnits="userSpaceOnUse" x1="0" y1="255.7" x2="0" y2="308.8"><stop offset="0" stop-color="#1e1e96"/><stop offset="0.08" stop-color="#3030a8"/><stop offset="0.18" stop-color="#5454d2"/><stop offset="0.28" stop-color="#7c7cec"/><stop offset="0.4" stop-color="#a0a0f4"/><stop offset="0.55" stop-color="#c4c4f8"/><stop offset="0.7" stop-color="#e0e0fb"/><stop offset="0.85" stop-color="#f2f2fd"/><stop offset="1" stop-color="#ffffff"/></linearGradient>
<linearGradient id="lg4" gradientUnits="userSpaceOnUse" x1="0" y1="255.7" x2="0" y2="310.8"><stop offset="0" stop-color="#22229a"/><stop offset="0.4" stop-color="#4c4cb4"/><stop offset="1" stop-color="#7878c4"/></linearGradient>
<polyline points="182.6,310.3 184.6,310.3 186.6,310.3 188.7,310.3 190.7,310.3 192.7,310.3 194.7,310.3 196.8,310.4 198.8,310.4 200.8,310.4 202.9,310.4 204.9,310.4 206.9,310.4 208.9,310.3 211,310.3 213,310.3 215,310.2 217.1,310.2 219.1,310 221.1,309.9 223.1,309.7 225.1,309.4 227.2,309.1 229.2,308.6 231.2,308.1 233.2,307.4 235.2,306.6 237.1,305.6 239.1,304.5 241.1,303.1 243.1,301.6 245,299.9 247,298 248.9,295.8 250.8,293.6 252.8,291.1 254.7,288.6 256.7,285.9 258.6,283.1 260.5,280.4 262.5,277.6 264.5,274.9 266.4,272.3 268.4,269.9 270.4,267.6 272.4,265.5 274.4,263.6 276.4,261.9 278.4,260.5 280.5,259.3 282.5,258.4 284.6,257.7 286.7,257.2 288.7,256.9 290.8,256.7 292.9,256.7 295,256.7 297.1,256.9 299.2,257.3 301.3,257.8 303.4,258.4 305.5,259.1 307.6,260 309.7,260.9 311.8,262 313.9,263.1 316,264.4 318.1,265.7 320.2,267 322.3,268.4 324.4,269.8 326.5,271.3 328.6,272.8 330.7,274.2 332.8,275.7 334.9,277.2 336.9,278.6 339,280.1 341.1,281.5 343.2,282.8 345.2,284.1 347.3,285.4 349.4,286.6 351.5,287.8 353.5,288.9 355.6,289.9 357.6,290.9 359.7,291.9 361.8,292.8 363.8,293.7 365.9,294.5 367.9,295.2 370,295.9 372,296.6 374.1,297.2 376.2,297.8 378.2,298.4 380.3,298.9 382.3,299.4 384.4,299.8 386.4,300.3 388.5,300.7 390.5,301.1 392.6,301.4 394.6,301.8 396.7,302.1 398.7,302.4 400.8,302.7 402.8,303 404.9,303.3 406.9,303.5 408.9,303.8 411,304.1 413,304.3 415.1,304.5 417.1,304.7 419.2,305 421.2,305.2 423.3,305.4 425.3,305.6 427.4,305.8 429.4,306 431.5,306.1 433.5,306.3 435.6,306.5 437.6,306.7 439.7,306.8 441.7,307 443.8,307.2 445.8,307.3 447.9,307.5 449.9,307.6 452,307.8 454,307.9 456.1,308 458.1,308.2 460.2,308.3 462.2,308.4 464.3,308.5 466.3,308.7" fill="none" stroke="#ffffff" stroke-width="2.8"/>
<polygon points="182.6,310.3 184.6,310.3 186.6,310.3 188.7,310.3 190.7,310.3 192.7,310.3 194.7,310.3 196.8,310.4 198.8,310.4 200.8,310.4 202.9,310.4 204.9,310.4 206.9,310.4 208.9,310.3 211,310.3 213,310.3 215,310.2 217.1,310.2 219.1,310 221.1,309.9 223.1,309.7 225.1,309.4 227.2,309.1 229.2,308.6 231.2,308.1 233.2,307.4 235.2,306.6 237.1,305.6 239.1,304.5 241.1,303.1 243.1,301.6 245,299.9 247,298 248.9,295.8 250.8,293.6 252.8,291.1 254.7,288.6 256.7,285.9 258.6,283.1 260.5,280.4 262.5,277.6 264.5,274.9 266.4,272.3 268.4,269.9 270.4,267.6 272.4,265.5 274.4,263.6 276.4,261.9 278.4,260.5 280.5,259.3 282.5,258.4 284.6,257.7 286.7,257.2 288.7,256.9 290.8,256.7 292.9,256.7 295,256.7 297.1,256.9 299.2,257.3 301.3,257.8 303.4,258.4 305.5,259.1 307.6,260 309.7,260.9 311.8,262 313.9,263.1 316,264.4 318.1,265.7 320.2,267 322.3,268.4 324.4,269.8 326.5,271.3 328.6,272.8 330.7,274.2 332.8,275.7 334.9,277.2 336.9,278.6 339,280.1 341.1,281.5 343.2,282.8 345.2,284.1 347.3,285.4 349.4,286.6 351.5,287.8 353.5,288.9 355.6,289.9 357.6,290.9 359.7,291.9 361.8,292.8 363.8,293.7 365.9,294.5 367.9,295.2 370,295.9 372,296.6 374.1,297.2 376.2,297.8 378.2,298.4 380.3,298.9 382.3,299.4 384.4,299.8 386.4,300.3 388.5,300.7 390.5,301.1 392.6,301.4 394.6,301.8 396.7,302.1 398.7,302.4 400.8,302.7 402.8,303 404.9,303.3 406.9,303.5 408.9,303.8 411,304.1 413,304.3 415.1,304.5 417.1,304.7 419.2,305 421.2,305.2 423.3,305.4 425.3,305.6 427.4,305.8 429.4,306 431.5,306.1 433.5,306.3 435.6,306.5 437.6,306.7 439.7,306.8 441.7,307 443.8,307.2 445.8,307.3 447.9,307.5 449.9,307.6 452,307.8 454,307.9 456.1,308 458.1,308.2 460.2,308.3 462.2,308.4 464.3,308.5 466.3,308.7 466.2,311.6 464.1,311.5 462.1,311.5 460,311.5 458,311.5 455.9,311.5 453.9,311.5 451.8,311.5 449.8,311.5 447.7,311.5 445.7,311.5 443.6,311.5 441.6,311.4 439.5,311.4 437.5,311.4 435.4,311.4 433.4,311.4 431.3,311.4 429.3,311.4 427.2,311.4 425.2,311.4 423.1,311.4 421.1,311.4 419,311.3 417,311.3 414.9,311.3 412.9,311.3 410.8,311.3 408.8,311.3 406.7,311.3 404.7,311.3 402.6,311.3 400.6,311.3 398.5,311.3 396.5,311.2 394.5,311.2 392.4,311.2 390.4,311.2 388.3,311.2 386.3,311.2 384.2,311.2 382.2,311.2 380.1,311.2 378.1,311.2 376,311.2 374,311.1 372,311.1 369.9,311.1 367.9,311.1 365.8,311.1 363.8,311.1 361.7,311.1 359.7,311.1 357.6,311.1 355.6,311.1 353.6,311.1 351.5,311 349.5,311 347.4,311 345.4,311 343.3,311 341.3,311 339.3,311 337.2,311 335.2,311 333.1,311 331.1,311 329.1,310.9 327,310.9 325,310.9 322.9,310.9 320.9,310.9 318.9,310.9 316.8,310.9 314.8,310.9 312.7,310.9 310.7,310.9 308.7,310.9 306.6,310.8 304.6,310.8 302.5,310.8 300.5,310.8 298.5,310.8 296.4,310.8 294.4,310.8 292.4,310.8 290.3,310.8 288.3,310.8 286.2,310.8 284.2,310.7 282.2,310.7 280.1,310.7 278.1,310.7 276.1,310.7 274,310.7 272,310.7 269.9,310.7 267.9,310.7 265.9,310.7 263.8,310.7 261.8,310.6 259.8,310.6 257.7,310.6 255.7,310.6 253.7,310.6 251.6,310.6 249.6,310.6 247.6,310.6 245.5,310.6 243.5,310.6 241.5,310.6 239.4,310.5 237.4,310.5 235.4,310.5 233.3,310.5 231.3,310.5 229.3,310.5 227.2,310.5 225.2,310.5 223.2,310.5 221.1,310.5 219.1,310.5 217.1,310.4 215,310.4 213,310.4 211,310.4 209,310.4 206.9,310.4 204.9,310.4 202.9,310.4 200.8,310.4 198.8,310.4 196.8,310.4 194.7,310.3 192.7,310.3 190.7,310.3 188.7,310.3 186.6,310.3 184.6,310.3 182.6,310.3" fill="url(#g4)"/>
<polyline points="182.6,310.3 184.6,310.3 186.6,310.3 188.7,310.3 190.7,310.3 192.7,310.3 194.7,310.3 196.8,310.4 198.8,310.4 200.8,310.4 202.9,310.4 204.9,310.4 206.9,310.4 208.9,310.3 211,310.3 213,310.3 215,310.2 217.1,310.2 219.1,310 221.1,309.9 223.1,309.7 225.1,309.4 227.2,309.1 229.2,308.6 231.2,308.1 233.2,307.4 235.2,306.6 237.1,305.6 239.1,304.5 241.1,303.1 243.1,301.6 245,299.9 247,298 248.9,295.8 250.8,293.6 252.8,291.1 254.7,288.6 256.7,285.9 258.6,283.1 260.5,280.4 262.5,277.6 264.5,274.9 266.4,272.3 268.4,269.9 270.4,267.6 272.4,265.5 274.4,263.6 276.4,261.9 278.4,260.5 280.5,259.3 282.5,258.4 284.6,257.7 286.7,257.2 288.7,256.9 290.8,256.7 292.9,256.7 295,256.7 297.1,256.9 299.2,257.3 301.3,257.8 303.4,258.4 305.5,259.1 307.6,260 309.7,260.9 311.8,262 313.9,263.1 316,264.4 318.1,265.7 320.2,267 322.3,268.4 324.4,269.8 326.5,271.3 328.6,272.8 330.7,274.2 332.8,275.7 334.9,277.2 336.9,278.6 339,280.1 341.1,281.5 343.2,282.8 345.2,284.1 347.3,285.4 349.4,286.6 351.5,287.8 353.5,288.9 355.6,289.9 357.6,290.9 359.7,291.9 361.8,292.8 363.8,293.7 365.9,294.5 367.9,295.2 370,295.9 372,296.6 374.1,297.2 376.2,297.8 378.2,298.4 380.3,298.9 382.3,299.4 384.4,299.8 386.4,300.3 388.5,300.7 390.5,301.1 392.6,301.4 394.6,301.8 396.7,302.1 398.7,302.4 400.8,302.7 402.8,303 404.9,303.3 406.9,303.5 408.9,303.8 411,304.1 413,304.3 415.1,304.5 417.1,304.7 419.2,305 421.2,305.2 423.3,305.4 425.3,305.6 427.4,305.8 429.4,306 431.5,306.1 433.5,306.3 435.6,306.5 437.6,306.7 439.7,306.8 441.7,307 443.8,307.2 445.8,307.3 447.9,307.5 449.9,307.6 452,307.8 454,307.9 456.1,308 458.1,308.2 460.2,308.3 462.2,308.4 464.3,308.5 466.3,308.7" fill="none" stroke="url(#lg4)" stroke-width="1.3"/>
<linearGradient id="g3" gradientUnits="userSpaceOnUse" x1="0" y1="316" x2="0" y2="361.4"><stop offset="0" stop-color="#1e1e96"/><stop offset="0.08" stop-color="#3030a8"/><stop offset="0.18" stop-color="#5454d2"/><stop offset="0.28" stop-color="#7c7cec"/><stop offset="0.4" stop-color="#a0a0f4"/><stop offset="0.55" stop-color="#c4c4f8"/><stop offset="0.7" stop-color="#e0e0fb"/><stop offset="0.85" stop-color="#f2f2fd"/><stop offset="1" stop-color="#ffffff"/></linearGradient>
<linearGradient id="lg3" gradientUnits="userSpaceOnUse" x1="0" y1="316" x2="0" y2="363.4"><stop offset="0" stop-color="#22229a"/><stop offset="0.4" stop-color="#4c4cb4"/><stop offset="1" stop-color="#7878c4"/></linearGradient>
<polyline points="149.7,362.7 151.8,362.7 153.9,362.7 156,362.7 158.1,362.7 160.2,362.8 162.3,362.8 164.4,362.8 166.6,362.8 168.7,362.8 170.8,362.8 172.9,362.8 175,362.8 177.1,362.8 179.2,362.8 181.3,362.8 183.5,362.7 185.6,362.7 187.7,362.6 189.8,362.4 191.9,362.3 194,362 196.1,361.7 198.2,361.4 200.2,360.9 202.3,360.3 204.4,359.6 206.5,358.8 208.5,357.8 210.6,356.7 212.6,355.4 214.6,353.9 216.6,352.2 218.7,350.4 220.7,348.5 222.7,346.4 224.7,344.2 226.7,341.9 228.7,339.6 230.7,337.2 232.7,334.9 234.7,332.6 236.8,330.3 238.8,328.2 240.8,326.3 242.9,324.5 245,322.8 247.1,321.4 249.2,320.2 251.3,319.2 253.4,318.4 255.6,317.8 257.7,317.4 259.9,317.2 262,317.1 264.2,317 266.3,317.1 268.5,317.2 270.7,317.5 272.9,317.9 275.1,318.5 277.2,319.1 279.4,319.8 281.6,320.7 283.8,321.6 286,322.6 288.2,323.6 290.4,324.7 292.6,325.9 294.8,327.1 297,328.3 299.2,329.6 301.4,330.8 303.5,332.1 305.7,333.4 307.9,334.6 310.1,335.9 312.3,337.1 314.4,338.3 316.6,339.4 318.8,340.6 320.9,341.7 323.1,342.7 325.3,343.7 327.4,344.7 329.6,345.6 331.7,346.4 333.9,347.3 336,348 338.2,348.8 340.3,349.5 342.5,350.1 344.6,350.7 346.8,351.3 348.9,351.9 351,352.4 353.2,352.8 355.3,353.3 357.5,353.7 359.6,354.1 361.7,354.5 363.9,354.8 366,355.2 368.2,355.5 370.3,355.8 372.4,356.1 374.6,356.4 376.7,356.6 378.8,356.9 381,357.1 383.1,357.3 385.3,357.6 387.4,357.8 389.5,358 391.7,358.2 393.8,358.4 395.9,358.6 398.1,358.8 400.2,359 402.3,359.1 404.5,359.3 406.6,359.5 408.7,359.6 410.9,359.8 413,359.9 415.1,360.1 417.3,360.2 419.4,360.4 421.6,360.5 423.7,360.7 425.8,360.8 428,360.9 430.1,361 432.2,361.2 434.4,361.3 436.5,361.4 438.6,361.5 440.8,361.6 442.9,361.7 445,361.9" fill="none" stroke="#ffffff" stroke-width="2.8"/>
<polygon points="149.7,362.7 151.8,362.7 153.9,362.7 156,362.7 158.1,362.7 160.2,362.8 162.3,362.8 164.4,362.8 166.6,362.8 168.7,362.8 170.8,362.8 172.9,362.8 175,362.8 177.1,362.8 179.2,362.8 181.3,362.8 183.5,362.7 185.6,362.7 187.7,362.6 189.8,362.4 191.9,362.3 194,362 196.1,361.7 198.2,361.4 200.2,360.9 202.3,360.3 204.4,359.6 206.5,358.8 208.5,357.8 210.6,356.7 212.6,355.4 214.6,353.9 216.6,352.2 218.7,350.4 220.7,348.5 222.7,346.4 224.7,344.2 226.7,341.9 228.7,339.6 230.7,337.2 232.7,334.9 234.7,332.6 236.8,330.3 238.8,328.2 240.8,326.3 242.9,324.5 245,322.8 247.1,321.4 249.2,320.2 251.3,319.2 253.4,318.4 255.6,317.8 257.7,317.4 259.9,317.2 262,317.1 264.2,317 266.3,317.1 268.5,317.2 270.7,317.5 272.9,317.9 275.1,318.5 277.2,319.1 279.4,319.8 281.6,320.7 283.8,321.6 286,322.6 288.2,323.6 290.4,324.7 292.6,325.9 294.8,327.1 297,328.3 299.2,329.6 301.4,330.8 303.5,332.1 305.7,333.4 307.9,334.6 310.1,335.9 312.3,337.1 314.4,338.3 316.6,339.4 318.8,340.6 320.9,341.7 323.1,342.7 325.3,343.7 327.4,344.7 329.6,345.6 331.7,346.4 333.9,347.3 336,348 338.2,348.8 340.3,349.5 342.5,350.1 344.6,350.7 346.8,351.3 348.9,351.9 351,352.4 353.2,352.8 355.3,353.3 357.5,353.7 359.6,354.1 361.7,354.5 363.9,354.8 366,355.2 368.2,355.5 370.3,355.8 372.4,356.1 374.6,356.4 376.7,356.6 378.8,356.9 381,357.1 383.1,357.3 385.3,357.6 387.4,357.8 389.5,358 391.7,358.2 393.8,358.4 395.9,358.6 398.1,358.8 400.2,359 402.3,359.1 404.5,359.3 406.6,359.5 408.7,359.6 410.9,359.8 413,359.9 415.1,360.1 417.3,360.2 419.4,360.4 421.6,360.5 423.7,360.7 425.8,360.8 428,360.9 430.1,361 432.2,361.2 434.4,361.3 436.5,361.4 438.6,361.5 440.8,361.6 442.9,361.7 445,361.9 444.9,364.3 442.8,364.3 440.7,364.3 438.5,364.3 436.4,364.3 434.3,364.3 432.1,364.3 430,364.3 427.9,364.2 425.7,364.2 423.6,364.2 421.4,364.2 419.3,364.2 417.2,364.2 415,364.2 412.9,364.2 410.8,364.2 408.6,364.1 406.5,364.1 404.4,364.1 402.2,364.1 400.1,364.1 398,364.1 395.8,364.1 393.7,364.1 391.6,364 389.4,364 387.3,364 385.2,364 383,364 380.9,364 378.8,364 376.6,364 374.5,363.9 372.4,363.9 370.2,363.9 368.1,363.9 366,363.9 363.9,363.9 361.7,363.9 359.6,363.9 357.5,363.9 355.3,363.8 353.2,363.8 351.1,363.8 349,363.8 346.8,363.8 344.7,363.8 342.6,363.8 340.4,363.8 338.3,363.7 336.2,363.7 334.1,363.7 331.9,363.7 329.8,363.7 327.7,363.7 325.5,363.7 323.4,363.7 321.3,363.7 319.2,363.6 317,363.6 314.9,363.6 312.8,363.6 310.7,363.6 308.5,363.6 306.4,363.6 304.3,363.6 302.2,363.5 300,363.5 297.9,363.5 295.8,363.5 293.7,363.5 291.5,363.5 289.4,363.5 287.3,363.5 285.2,363.5 283,363.4 280.9,363.4 278.8,363.4 276.7,363.4 274.6,363.4 272.4,363.4 270.3,363.4 268.2,363.4 266.1,363.3 263.9,363.3 261.8,363.3 259.7,363.3 257.6,363.3 255.5,363.3 253.3,363.3 251.2,363.3 249.1,363.3 247,363.2 244.9,363.2 242.7,363.2 240.6,363.2 238.5,363.2 236.4,363.2 234.3,363.2 232.1,363.2 230,363.1 227.9,363.1 225.8,363.1 223.7,363.1 221.6,363.1 219.4,363.1 217.3,363.1 215.2,363.1 213.1,363.1 211,363 208.9,363 206.7,363 204.6,363 202.5,363 200.4,363 198.3,363 196.2,363 194,362.9 191.9,362.9 189.8,362.9 187.7,362.9 185.6,362.9 183.5,362.9 181.4,362.9 179.2,362.9 177.1,362.9 175,362.8 172.9,362.8 170.8,362.8 168.7,362.8 166.6,362.8 164.4,362.8 162.3,362.8 160.2,362.8 158.1,362.7 156,362.7 153.9,362.7 151.8,362.7 149.7,362.7" fill="url(#g3)"/>
<polyline points="149.7,362.7 151.8,362.7 153.9,362.7 156,362.7 158.1,362.7 160.2,362.8 162.3,362.8 164.4,362.8 166.6,362.8 168.7,362.8 170.8,362.8 172.9,362.8 175,362.8 177.1,362.8 179.2,362.8 181.3,362.8 183.5,362.7 185.6,362.7 187.7,362.6 189.8,362.4 191.9,362.3 194,362 196.1,361.7 198.2,361.4 200.2,360.9 202.3,360.3 204.4,359.6 206.5,358.8 208.5,357.8 210.6,356.7 212.6,355.4 214.6,353.9 216.6,352.2 218.7,350.4 220.7,348.5 222.7,346.4 224.7,344.2 226.7,341.9 228.7,339.6 230.7,337.2 232.7,334.9 234.7,332.6 236.8,330.3 238.8,328.2 240.8,326.3 242.9,324.5 245,322.8 247.1,321.4 249.2,320.2 251.3,319.2 253.4,318.4 255.6,317.8 257.7,317.4 259.9,317.2 262,317.1 264.2,317 266.3,317.1 268.5,317.2 270.7,317.5 272.9,317.9 275.1,318.5 277.2,319.1 279.4,319.8 281.6,320.7 283.8,321.6 286,322.6 288.2,323.6 290.4,324.7 292.6,325.9 294.8,327.1 297,328.3 299.2,329.6 301.4,330.8 303.5,332.1 305.7,333.4 307.9,334.6 310.1,335.9 312.3,337.1 314.4,338.3 316.6,339.4 318.8,340.6 320.9,341.7 323.1,342.7 325.3,343.7 327.4,344.7 329.6,345.6 331.7,346.4 333.9,347.3 336,348 338.2,348.8 340.3,349.5 342.5,350.1 344.6,350.7 346.8,351.3 348.9,351.9 351,352.4 353.2,352.8 355.3,353.3 357.5,353.7 359.6,354.1 361.7,354.5 363.9,354.8 366,355.2 368.2,355.5 370.3,355.8 372.4,356.1 374.6,356.4 376.7,356.6 378.8,356.9 381,357.1 383.1,357.3 385.3,357.6 387.4,357.8 389.5,358 391.7,358.2 393.8,358.4 395.9,358.6 398.1,358.8 400.2,359 402.3,359.1 404.5,359.3 406.6,359.5 408.7,359.6 410.9,359.8 413,359.9 415.1,360.1 417.3,360.2 419.4,360.4 421.6,360.5 423.7,360.7 425.8,360.8 428,360.9 430.1,361 432.2,361.2 434.4,361.3 436.5,361.4 438.6,361.5 440.8,361.6 442.9,361.7 445,361.9" fill="none" stroke="url(#lg3)" stroke-width="1.3"/>
<linearGradient id="g2" gradientUnits="userSpaceOnUse" x1="0" y1="364.7" x2="0" y2="398.5"><stop offset="0" stop-color="#1e1e96"/><stop offset="0.08" stop-color="#3030a8"/><stop offset="0.18" stop-color="#5454d2"/><stop offset="0.28" stop-color="#7c7cec"/><stop offset="0.4" stop-color="#a0a0f4"/><stop offset="0.55" stop-color="#c4c4f8"/><stop offset="0.7" stop-color="#e0e0fb"/><stop offset="0.85" stop-color="#f2f2fd"/><stop offset="1" stop-color="#ffffff"/></linearGradient>
<linearGradient id="lg2" gradientUnits="userSpaceOnUse" x1="0" y1="364.7" x2="0" y2="400.5"><stop offset="0" stop-color="#22229a"/><stop offset="0.4" stop-color="#4c4cb4"/><stop offset="1" stop-color="#7878c4"/></linearGradient>
<polyline points="126.4,399.7 128.6,399.7 130.8,399.7 132.9,399.7 135.1,399.7 137.3,399.8 139.5,399.8 141.6,399.8 143.8,399.8 146,399.8 148.1,399.8 150.3,399.8 152.5,399.8 154.7,399.8 156.8,399.8 159,399.8 161.2,399.8 163.3,399.7 165.5,399.7 167.7,399.6 169.8,399.5 172,399.3 174.1,399.1 176.3,398.8 178.4,398.5 180.6,398 182.7,397.5 184.8,396.9 187,396.1 189.1,395.3 191.2,394.3 193.3,393.2 195.4,392 197.5,390.6 199.5,389.2 201.6,387.6 203.7,385.9 205.8,384.2 207.8,382.5 209.9,380.7 212,379 214.1,377.2 216.2,375.6 218.3,374 220.4,372.6 222.5,371.2 224.6,370 226.8,369 229,368.1 231.1,367.3 233.3,366.7 235.5,366.3 237.7,366 239.9,365.8 242.1,365.7 244.3,365.7 246.5,365.7 248.8,365.9 251,366.1 253.2,366.4 255.4,366.8 257.7,367.3 259.9,367.8 262.2,368.5 264.4,369.2 266.6,369.9 268.9,370.7 271.1,371.5 273.4,372.4 275.6,373.3 277.9,374.2 280.1,375.2 282.3,376.1 284.6,377.1 286.8,378 289.1,379 291.3,379.9 293.5,380.8 295.7,381.7 298,382.6 300.2,383.4 302.4,384.3 304.6,385.1 306.9,385.8 309.1,386.5 311.3,387.2 313.5,387.9 315.7,388.5 317.9,389.1 320.1,389.7 322.3,390.2 324.5,390.7 326.8,391.1 329,391.6 331.2,392 333.4,392.4 335.6,392.7 337.8,393.1 340,393.4 342.2,393.7 344.4,394 346.6,394.3 348.8,394.5 351,394.8 353.1,395 355.3,395.2 357.5,395.4 359.7,395.6 361.9,395.8 364.1,396 366.3,396.2 368.5,396.4 370.7,396.5 372.9,396.7 375.1,396.9 377.3,397 379.5,397.2 381.7,397.3 383.9,397.5 386.1,397.6 388.3,397.7 390.5,397.9 392.7,398 394.9,398.1 397.1,398.2 399.3,398.3 401.5,398.5 403.7,398.6 405.9,398.7 408,398.8 410.2,398.9 412.4,399 414.6,399.1 416.8,399.2 419,399.3 421.2,399.4 423.4,399.5 425.6,399.6 427.8,399.7 430,399.7" fill="none" stroke="#ffffff" stroke-width="2.8"/>
<polygon points="126.4,399.7 128.6,399.7 130.8,399.7 132.9,399.7 135.1,399.7 137.3,399.8 139.5,399.8 141.6,399.8 143.8,399.8 146,399.8 148.1,399.8 150.3,399.8 152.5,399.8 154.7,399.8 156.8,399.8 159,399.8 161.2,399.8 163.3,399.7 165.5,399.7 167.7,399.6 169.8,399.5 172,399.3 174.1,399.1 176.3,398.8 178.4,398.5 180.6,398 182.7,397.5 184.8,396.9 187,396.1 189.1,395.3 191.2,394.3 193.3,393.2 195.4,392 197.5,390.6 199.5,389.2 201.6,387.6 203.7,385.9 205.8,384.2 207.8,382.5 209.9,380.7 212,379 214.1,377.2 216.2,375.6 218.3,374 220.4,372.6 222.5,371.2 224.6,370 226.8,369 229,368.1 231.1,367.3 233.3,366.7 235.5,366.3 237.7,366 239.9,365.8 242.1,365.7 244.3,365.7 246.5,365.7 248.8,365.9 251,366.1 253.2,366.4 255.4,366.8 257.7,367.3 259.9,367.8 262.2,368.5 264.4,369.2 266.6,369.9 268.9,370.7 271.1,371.5 273.4,372.4 275.6,373.3 277.9,374.2 280.1,375.2 282.3,376.1 284.6,377.1 286.8,378 289.1,379 291.3,379.9 293.5,380.8 295.7,381.7 298,382.6 300.2,383.4 302.4,384.3 304.6,385.1 306.9,385.8 309.1,386.5 311.3,387.2 313.5,387.9 315.7,388.5 317.9,389.1 320.1,389.7 322.3,390.2 324.5,390.7 326.8,391.1 329,391.6 331.2,392 333.4,392.4 335.6,392.7 337.8,393.1 340,393.4 342.2,393.7 344.4,394 346.6,394.3 348.8,394.5 351,394.8 353.1,395 355.3,395.2 357.5,395.4 359.7,395.6 361.9,395.8 364.1,396 366.3,396.2 368.5,396.4 370.7,396.5 372.9,396.7 375.1,396.9 377.3,397 379.5,397.2 381.7,397.3 383.9,397.5 386.1,397.6 388.3,397.7 390.5,397.9 392.7,398 394.9,398.1 397.1,398.2 399.3,398.3 401.5,398.5 403.7,398.6 405.9,398.7 408,398.8 410.2,398.9 412.4,399 414.6,399.1 416.8,399.2 419,399.3 421.2,399.4 423.4,399.5 425.6,399.6 427.8,399.7 430,399.7 429.9,401.6 427.8,401.6 425.6,401.6 423.4,401.6 421.2,401.6 419,401.5 416.8,401.5 414.6,401.5 412.4,401.5 410.2,401.5 408,401.5 405.8,401.5 403.6,401.4 401.4,401.4 399.2,401.4 397,401.4 394.8,401.4 392.6,401.4 390.4,401.4 388.2,401.4 386,401.3 383.8,401.3 381.7,401.3 379.5,401.3 377.3,401.3 375.1,401.3 372.9,401.3 370.7,401.2 368.5,401.2 366.3,401.2 364.1,401.2 361.9,401.2 359.7,401.2 357.5,401.2 355.4,401.1 353.2,401.1 351,401.1 348.8,401.1 346.6,401.1 344.4,401.1 342.2,401.1 340,401 337.8,401 335.6,401 333.5,401 331.3,401 329.1,401 326.9,401 324.7,400.9 322.5,400.9 320.3,400.9 318.1,400.9 316,400.9 313.8,400.9 311.6,400.9 309.4,400.9 307.2,400.8 305,400.8 302.8,400.8 300.6,400.8 298.5,400.8 296.3,400.8 294.1,400.8 291.9,400.7 289.7,400.7 287.5,400.7 285.4,400.7 283.2,400.7 281,400.7 278.8,400.7 276.6,400.6 274.4,400.6 272.3,400.6 270.1,400.6 267.9,400.6 265.7,400.6 263.5,400.6 261.3,400.5 259.2,400.5 257,400.5 254.8,400.5 252.6,400.5 250.4,400.5 248.2,400.5 246.1,400.5 243.9,400.4 241.7,400.4 239.5,400.4 237.3,400.4 235.2,400.4 233,400.4 230.8,400.4 228.6,400.3 226.5,400.3 224.3,400.3 222.1,400.3 219.9,400.3 217.7,400.3 215.6,400.3 213.4,400.2 211.2,400.2 209,400.2 206.8,400.2 204.7,400.2 202.5,400.2 200.3,400.2 198.1,400.1 196,400.1 193.8,400.1 191.6,400.1 189.4,400.1 187.3,400.1 185.1,400.1 182.9,400.1 180.7,400 178.6,400 176.4,400 174.2,400 172,400 169.9,400 167.7,400 165.5,399.9 163.3,399.9 161.2,399.9 159,399.9 156.8,399.9 154.7,399.9 152.5,399.9 150.3,399.8 148.1,399.8 146,399.8 143.8,399.8 141.6,399.8 139.5,399.8 137.3,399.8 135.1,399.7 132.9,399.7 130.8,399.7 128.6,399.7 126.4,399.7" fill="url(#g2)"/>
<polyline points="126.4,399.7 128.6,399.7 130.8,399.7 132.9,399.7 135.1,399.7 137.3,399.8 139.5,399.8 141.6,399.8 143.8,399.8 146,399.8 148.1,399.8 150.3,399.8 152.5,399.8 154.7,399.8 156.8,399.8 159,399.8 161.2,399.8 163.3,399.7 165.5,399.7 167.7,399.6 169.8,399.5 172,399.3 174.1,399.1 176.3,398.8 178.4,398.5 180.6,398 182.7,397.5 184.8,396.9 187,396.1 189.1,395.3 191.2,394.3 193.3,393.2 195.4,392 197.5,390.6 199.5,389.2 201.6,387.6 203.7,385.9 205.8,384.2 207.8,382.5 209.9,380.7 212,379 214.1,377.2 216.2,375.6 218.3,374 220.4,372.6 222.5,371.2 224.6,370 226.8,369 229,368.1 231.1,367.3 233.3,366.7 235.5,366.3 237.7,366 239.9,365.8 242.1,365.7 244.3,365.7 246.5,365.7 248.8,365.9 251,366.1 253.2,366.4 255.4,366.8 257.7,367.3 259.9,367.8 262.2,368.5 264.4,369.2 266.6,369.9 268.9,370.7 271.1,371.5 273.4,372.4 275.6,373.3 277.9,374.2 280.1,375.2 282.3,376.1 284.6,377.1 286.8,378 289.1,379 291.3,379.9 293.5,380.8 295.7,381.7 298,382.6 300.2,383.4 302.4,384.3 304.6,385.1 306.9,385.8 309.1,386.5 311.3,387.2 313.5,387.9 315.7,388.5 317.9,389.1 320.1,389.7 322.3,390.2 324.5,390.7 326.8,391.1 329,391.6 331.2,392 333.4,392.4 335.6,392.7 337.8,393.1 340,393.4 342.2,393.7 344.4,394 346.6,394.3 348.8,394.5 351,394.8 353.1,395 355.3,395.2 357.5,395.4 359.7,395.6 361.9,395.8 364.1,396 366.3,396.2 368.5,396.4 370.7,396.5 372.9,396.7 375.1,396.9 377.3,397 379.5,397.2 381.7,397.3 383.9,397.5 386.1,397.6 388.3,397.7 390.5,397.9 392.7,398 394.9,398.1 397.1,398.2 399.3,398.3 401.5,398.5 403.7,398.6 405.9,398.7 408,398.8 410.2,398.9 412.4,399 414.6,399.1 416.8,399.2 419,399.3 421.2,399.4 423.4,399.5 425.6,399.6 427.8,399.7 430,399.7" fill="none" stroke="url(#lg2)" stroke-width="1.3"/>
<linearGradient id="g1" gradientUnits="userSpaceOnUse" x1="0" y1="390.7" x2="0" y2="417.5"><stop offset="0" stop-color="#1e1e96"/><stop offset="0.08" stop-color="#3030a8"/><stop offset="0.18" stop-color="#5454d2"/><stop offset="0.28" stop-color="#7c7cec"/><stop offset="0.4" stop-color="#a0a0f4"/><stop offset="0.55" stop-color="#c4c4f8"/><stop offset="0.7" stop-color="#e0e0fb"/><stop offset="0.85" stop-color="#f2f2fd"/><stop offset="1" stop-color="#ffffff"/></linearGradient>
<linearGradient id="lg1" gradientUnits="userSpaceOnUse" x1="0" y1="390.7" x2="0" y2="419.5"><stop offset="0" stop-color="#22229a"/><stop offset="0.4" stop-color="#4c4cb4"/><stop offset="1" stop-color="#7878c4"/></linearGradient>
<polyline points="114.5,418.7 116.7,418.7 118.9,418.7 121.1,418.7 123.3,418.7 125.5,418.8 127.7,418.8 129.9,418.8 132.1,418.8 134.3,418.8 136.5,418.8 138.7,418.8 140.9,418.8 143.1,418.8 145.3,418.8 147.5,418.8 149.7,418.8 151.9,418.8 154.1,418.7 156.3,418.7 158.5,418.6 160.7,418.4 162.9,418.3 165.1,418.1 167.3,417.8 169.4,417.4 171.6,417 173.8,416.5 175.9,415.9 178.1,415.3 180.2,414.5 182.4,413.6 184.5,412.6 186.6,411.5 188.7,410.4 190.9,409.1 193,407.8 195.1,406.4 197.2,405 199.3,403.6 201.5,402.2 203.6,400.9 205.7,399.5 207.9,398.3 210,397.1 212.2,396 214.3,395.1 216.5,394.3 218.7,393.5 220.9,393 223.1,392.5 225.3,392.2 227.6,391.9 229.8,391.8 232,391.7 234.3,391.7 236.5,391.7 238.7,391.8 241,392 243.2,392.3 245.5,392.6 247.8,393 250,393.4 252.3,393.9 254.5,394.5 256.8,395.1 259.1,395.7 261.3,396.4 263.6,397.1 265.9,397.8 268.1,398.5 270.4,399.3 272.7,400.1 274.9,400.8 277.2,401.6 279.4,402.4 281.7,403.1 284,403.9 286.2,404.6 288.5,405.3 290.7,406 293,406.6 295.2,407.3 297.5,407.9 299.7,408.5 301.9,409 304.2,409.5 306.4,410 308.7,410.5 310.9,411 313.1,411.4 315.4,411.8 317.6,412.2 319.8,412.5 322.1,412.9 324.3,413.2 326.5,413.5 328.8,413.8 331,414 333.2,414.3 335.4,414.5 337.7,414.7 339.9,414.9 342.1,415.1 344.4,415.3 346.6,415.5 348.8,415.7 351,415.8 353.3,416 355.5,416.2 357.7,416.3 359.9,416.4 362.2,416.6 364.4,416.7 366.6,416.8 368.8,417 371.1,417.1 373.3,417.2 375.5,417.3 377.8,417.4 380,417.6 382.2,417.7 384.4,417.8 386.7,417.9 388.9,418 391.1,418.1 393.3,418.2 395.6,418.3 397.8,418.4 400,418.4 402.2,418.5 404.5,418.6 406.7,418.7 408.9,418.8 411.2,418.9 413.4,419 415.6,419 417.8,419.1 420.1,419.2 422.3,419.2" fill="none" stroke="#ffffff" stroke-width="2.8"/>
<polygon points="114.5,418.7 116.7,418.7 118.9,418.7 121.1,418.7 123.3,418.7 125.5,418.8 127.7,418.8 129.9,418.8 132.1,418.8 134.3,418.8 136.5,418.8 138.7,418.8 140.9,418.8 143.1,418.8 145.3,418.8 147.5,418.8 149.7,418.8 151.9,418.8 154.1,418.7 156.3,418.7 158.5,418.6 160.7,418.4 162.9,418.3 165.1,418.1 167.3,417.8 169.4,417.4 171.6,417 173.8,416.5 175.9,415.9 178.1,415.3 180.2,414.5 182.4,413.6 184.5,412.6 186.6,411.5 188.7,410.4 190.9,409.1 193,407.8 195.1,406.4 197.2,405 199.3,403.6 201.5,402.2 203.6,400.9 205.7,399.5 207.9,398.3 210,397.1 212.2,396 214.3,395.1 216.5,394.3 218.7,393.5 220.9,393 223.1,392.5 225.3,392.2 227.6,391.9 229.8,391.8 232,391.7 234.3,391.7 236.5,391.7 238.7,391.8 241,392 243.2,392.3 245.5,392.6 247.8,393 250,393.4 252.3,393.9 254.5,394.5 256.8,395.1 259.1,395.7 261.3,396.4 263.6,397.1 265.9,397.8 268.1,398.5 270.4,399.3 272.7,400.1 274.9,400.8 277.2,401.6 279.4,402.4 281.7,403.1 284,403.9 286.2,404.6 288.5,405.3 290.7,406 293,406.6 295.2,407.3 297.5,407.9 299.7,408.5 301.9,409 304.2,409.5 306.4,410 308.7,410.5 310.9,411 313.1,411.4 315.4,411.8 317.6,412.2 319.8,412.5 322.1,412.9 324.3,413.2 326.5,413.5 328.8,413.8 331,414 333.2,414.3 335.4,414.5 337.7,414.7 339.9,414.9 342.1,415.1 344.4,415.3 346.6,415.5 348.8,415.7 351,415.8 353.3,416 355.5,416.2 357.7,416.3 359.9,416.4 362.2,416.6 364.4,416.7 366.6,416.8 368.8,417 371.1,417.1 373.3,417.2 375.5,417.3 377.8,417.4 380,417.6 382.2,417.7 384.4,417.8 386.7,417.9 388.9,418 391.1,418.1 393.3,418.2 395.6,418.3 397.8,418.4 400,418.4 402.2,418.5 404.5,418.6 406.7,418.7 408.9,418.8 411.2,418.9 413.4,419 415.6,419 417.8,419.1 420.1,419.2 422.3,419.2 422.2,420.8 420,420.7 417.8,420.7 415.6,420.7 413.3,420.7 411.1,420.7 408.9,420.7 406.7,420.6 404.4,420.6 402.2,420.6 400,420.6 397.8,420.6 395.5,420.6 393.3,420.6 391.1,420.5 388.8,420.5 386.6,420.5 384.4,420.5 382.2,420.5 379.9,420.5 377.7,420.5 375.5,420.4 373.3,420.4 371.1,420.4 368.8,420.4 366.6,420.4 364.4,420.4 362.2,420.3 359.9,420.3 357.7,420.3 355.5,420.3 353.3,420.3 351.1,420.3 348.8,420.3 346.6,420.2 344.4,420.2 342.2,420.2 339.9,420.2 337.7,420.2 335.5,420.2 333.3,420.2 331.1,420.1 328.8,420.1 326.6,420.1 324.4,420.1 322.2,420.1 320,420.1 317.7,420 315.5,420 313.3,420 311.1,420 308.9,420 306.7,420 304.4,420 302.2,419.9 300,419.9 297.8,419.9 295.6,419.9 293.4,419.9 291.1,419.9 288.9,419.9 286.7,419.8 284.5,419.8 282.3,419.8 280.1,419.8 277.8,419.8 275.6,419.8 273.4,419.8 271.2,419.7 269,419.7 266.8,419.7 264.6,419.7 262.3,419.7 260.1,419.7 257.9,419.6 255.7,419.6 253.5,419.6 251.3,419.6 249.1,419.6 246.9,419.6 244.6,419.6 242.4,419.5 240.2,419.5 238,419.5 235.8,419.5 233.6,419.5 231.4,419.5 229.2,419.5 227,419.4 224.8,419.4 222.5,419.4 220.3,419.4 218.1,419.4 215.9,419.4 213.7,419.3 211.5,419.3 209.3,419.3 207.1,419.3 204.9,419.3 202.7,419.3 200.5,419.3 198.2,419.2 196,419.2 193.8,419.2 191.6,419.2 189.4,419.2 187.2,419.2 185,419.2 182.8,419.1 180.6,419.1 178.4,419.1 176.2,419.1 174,419.1 171.8,419.1 169.6,419.1 167.4,419 165.2,419 163,419 160.7,419 158.5,419 156.3,419 154.1,418.9 151.9,418.9 149.7,418.9 147.5,418.9 145.3,418.9 143.1,418.9 140.9,418.9 138.7,418.8 136.5,418.8 134.3,418.8 132.1,418.8 129.9,418.8 127.7,418.8 125.5,418.8 123.3,418.7 121.1,418.7 118.9,418.7 116.7,418.7 114.5,418.7" fill="url(#g1)"/>
<polyline points="114.5,418.7 116.7,418.7 118.9,418.7 121.1,418.7 123.3,418.7 125.5,418.8 127.7,418.8 129.9,418.8 132.1,418.8 134.3,418.8 136.5,418.8 138.7,418.8 140.9,418.8 143.1,418.8 145.3,418.8 147.5,418.8 149.7,418.8 151.9,418.8 154.1,418.7 156.3,418.7 158.5,418.6 160.7,418.4 162.9,418.3 165.1,418.1 167.3,417.8 169.4,417.4 171.6,417 173.8,416.5 175.9,415.9 178.1,415.3 180.2,414.5 182.4,413.6 184.5,412.6 186.6,411.5 188.7,410.4 190.9,409.1 193,407.8 195.1,406.4 197.2,405 199.3,403.6 201.5,402.2 203.6,400.9 205.7,399.5 207.9,398.3 210,397.1 212.2,396 214.3,395.1 216.5,394.3 218.7,393.5 220.9,393 223.1,392.5 225.3,392.2 227.6,391.9 229.8,391.8 232,391.7 234.3,391.7 236.5,391.7 238.7,391.8 241,392 243.2,392.3 245.5,392.6 247.8,393 250,393.4 252.3,393.9 254.5,394.5 256.8,395.1 259.1,395.7 261.3,396.4 263.6,397.1 265.9,397.8 268.1,398.5 270.4,399.3 272.7,400.1 274.9,400.8 277.2,401.6 279.4,402.4 281.7,403.1 284,403.9 286.2,404.6 288.5,405.3 290.7,406 293,406.6 295.2,407.3 297.5,407.9 299.7,408.5 301.9,409 304.2,409.5 306.4,410 308.7,410.5 310.9,411 313.1,411.4 315.4,411.8 317.6,412.2 319.8,412.5 322.1,412.9 324.3,413.2 326.5,413.5 328.8,413.8 331,414 333.2,414.3 335.4,414.5 337.7,414.7 339.9,414.9 342.1,415.1 344.4,415.3 346.6,415.5 348.8,415.7 351,415.8 353.3,416 355.5,416.2 357.7,416.3 359.9,416.4 362.2,416.6 364.4,416.7 366.6,416.8 368.8,417 371.1,417.1 373.3,417.2 375.5,417.3 377.8,417.4 380,417.6 382.2,417.7 384.4,417.8 386.7,417.9 388.9,418 391.1,418.1 393.3,418.2 395.6,418.3 397.8,418.4 400,418.4 402.2,418.5 404.5,418.6 406.7,418.7 408.9,418.8 411.2,418.9 413.4,419 415.6,419 417.8,419.1 420.1,419.2 422.3,419.2" fill="none" stroke="url(#lg1)" stroke-width="1.3"/>
<linearGradient id="g0" gradientUnits="userSpaceOnUse" x1="0" y1="421.3" x2="0" y2="442.5"><stop offset="0" stop-color="#1e1e96"/><stop offset="0.08" stop-color="#3030a8"/><stop offset="0.18" stop-color="#5454d2"/><stop offset="0.28" stop-color="#7c7cec"/><stop offset="0.4" stop-color="#a0a0f4"/><stop offset="0.55" stop-color="#c4c4f8"/><stop offset="0.7" stop-color="#e0e0fb"/><stop offset="0.85" stop-color="#f2f2fd"/><stop offset="1" stop-color="#ffffff"/></linearGradient>
<linearGradient id="lg0" gradientUnits="userSpaceOnUse" x1="0" y1="421.3" x2="0" y2="444.5"><stop offset="0" stop-color="#22229a"/><stop offset="0.4" stop-color="#4c4cb4"/><stop offset="1" stop-color="#7878c4"/></linearGradient>
<polyline points="98.9,443.6 101.1,443.6 103.3,443.6 105.6,443.6 107.8,443.7 110.1,443.7 112.3,443.7 114.5,443.7 116.8,443.7 119,443.7 121.3,443.8 123.5,443.8 125.7,443.8 128,443.8 130.2,443.8 132.5,443.8 134.7,443.8 136.9,443.8 139.2,443.7 141.4,443.7 143.7,443.6 145.9,443.5 148.1,443.4 150.3,443.2 152.6,443 154.8,442.7 157,442.4 159.2,442 161.4,441.5 163.6,441 165.8,440.4 168,439.7 170.2,438.9 172.3,438 174.5,437.1 176.7,436.1 178.9,435.1 181,434 183.2,432.9 185.4,431.7 187.5,430.6 189.7,429.5 191.9,428.5 194.1,427.5 196.3,426.6 198.5,425.7 200.7,425 202.9,424.3 205.1,423.7 207.4,423.3 209.6,422.9 211.9,422.7 214.1,422.5 216.4,422.4 218.7,422.3 220.9,422.3 223.2,422.3 225.5,422.4 227.8,422.6 230.1,422.8 232.4,423 234.6,423.4 236.9,423.7 239.2,424.1 241.5,424.6 243.8,425 246.1,425.6 248.4,426.1 250.7,426.7 253,427.2 255.3,427.8 257.6,428.4 259.9,429.1 262.2,429.7 264.5,430.3 266.8,430.9 269.1,431.5 271.4,432.1 273.7,432.7 276,433.2 278.3,433.8 280.5,434.3 282.8,434.8 285.1,435.3 287.4,435.8 289.7,436.3 292,436.7 294.2,437.1 296.5,437.5 298.8,437.8 301.1,438.2 303.3,438.5 305.6,438.8 307.9,439.1 310.1,439.4 312.4,439.6 314.7,439.9 317,440.1 319.2,440.3 321.5,440.5 323.8,440.7 326,440.9 328.3,441.1 330.6,441.2 332.8,441.4 335.1,441.5 337.4,441.7 339.6,441.8 341.9,441.9 344.2,442.1 346.4,442.2 348.7,442.3 351,442.4 353.2,442.5 355.5,442.6 357.8,442.7 360,442.8 362.3,442.9 364.6,443 366.8,443.1 369.1,443.2 371.4,443.3 373.6,443.4 375.9,443.5 378.2,443.6 380.4,443.7 382.7,443.8 385,443.8 387.2,443.9 389.5,444 391.8,444.1 394,444.1 396.3,444.2 398.6,444.3 400.8,444.3 403.1,444.4 405.4,444.5 407.6,444.5 409.9,444.6 412.2,444.7" fill="none" stroke="#ffffff" stroke-width="2.8"/>
<polygon points="98.9,443.6 101.1,443.6 103.3,443.6 105.6,443.6 107.8,443.7 110.1,443.7 112.3,443.7 114.5,443.7 116.8,443.7 119,443.7 121.3,443.8 123.5,443.8 125.7,443.8 128,443.8 130.2,443.8 132.5,443.8 134.7,443.8 136.9,443.8 139.2,443.7 141.4,443.7 143.7,443.6 145.9,443.5 148.1,443.4 150.3,443.2 152.6,443 154.8,442.7 157,442.4 159.2,442 161.4,441.5 163.6,441 165.8,440.4 168,439.7 170.2,438.9 172.3,438 174.5,437.1 176.7,436.1 178.9,435.1 181,434 183.2,432.9 185.4,431.7 187.5,430.6 189.7,429.5 191.9,428.5 194.1,427.5 196.3,426.6 198.5,425.7 200.7,425 202.9,424.3 205.1,423.7 207.4,423.3 209.6,422.9 211.9,422.7 214.1,422.5 216.4,422.4 218.7,422.3 220.9,422.3 223.2,422.3 225.5,422.4 227.8,422.6 230.1,422.8 232.4,423 234.6,423.4 236.9,423.7 239.2,424.1 241.5,424.6 243.8,425 246.1,425.6 248.4,426.1 250.7,426.7 253,427.2 255.3,427.8 257.6,428.4 259.9,429.1 262.2,429.7 264.5,430.3 266.8,430.9 269.1,431.5 271.4,432.1 273.7,432.7 276,433.2 278.3,433.8 280.5,434.3 282.8,434.8 285.1,435.3 287.4,435.8 289.7,436.3 292,436.7 294.2,437.1 296.5,437.5 298.8,437.8 301.1,438.2 303.3,438.5 305.6,438.8 307.9,439.1 310.1,439.4 312.4,439.6 314.7,439.9 317,440.1 319.2,440.3 321.5,440.5 323.8,440.7 326,440.9 328.3,441.1 330.6,441.2 332.8,441.4 335.1,441.5 337.4,441.7 339.6,441.8 341.9,441.9 344.2,442.1 346.4,442.2 348.7,442.3 351,442.4 353.2,442.5 355.5,442.6 357.8,442.7 360,442.8 362.3,442.9 364.6,443 366.8,443.1 369.1,443.2 371.4,443.3 373.6,443.4 375.9,443.5 378.2,443.6 380.4,443.7 382.7,443.8 385,443.8 387.2,443.9 389.5,444 391.8,444.1 394,444.1 396.3,444.2 398.6,444.3 400.8,444.3 403.1,444.4 405.4,444.5 407.6,444.5 409.9,444.6 412.2,444.7 412.1,445.9 409.9,445.9 407.6,445.8 405.3,445.8 403.1,445.8 400.8,445.8 398.5,445.8 396.3,445.8 394,445.7 391.7,445.7 389.5,445.7 387.2,445.7 384.9,445.7 382.7,445.7 380.4,445.6 378.1,445.6 375.9,445.6 373.6,445.6 371.3,445.6 369.1,445.6 366.8,445.5 364.5,445.5 362.3,445.5 360,445.5 357.8,445.5 355.5,445.5 353.2,445.4 351,445.4 348.7,445.4 346.4,445.4 344.2,445.4 341.9,445.4 339.7,445.3 337.4,445.3 335.1,445.3 332.9,445.3 330.6,445.3 328.3,445.3 326.1,445.3 323.8,445.2 321.6,445.2 319.3,445.2 317,445.2 314.8,445.2 312.5,445.2 310.3,445.1 308,445.1 305.8,445.1 303.5,445.1 301.2,445.1 299,445.1 296.7,445 294.5,445 292.2,445 289.9,445 287.7,445 285.4,445 283.2,444.9 280.9,444.9 278.7,444.9 276.4,444.9 274.2,444.9 271.9,444.9 269.6,444.8 267.4,444.8 265.1,444.8 262.9,444.8 260.6,444.8 258.4,444.8 256.1,444.7 253.9,444.7 251.6,444.7 249.4,444.7 247.1,444.7 244.8,444.7 242.6,444.6 240.3,444.6 238.1,444.6 235.8,444.6 233.6,444.6 231.3,444.6 229.1,444.5 226.8,444.5 224.6,444.5 222.3,444.5 220.1,444.5 217.8,444.5 215.6,444.4 213.3,444.4 211.1,444.4 208.8,444.4 206.6,444.4 204.3,444.4 202.1,444.4 199.8,444.3 197.6,444.3 195.3,444.3 193.1,444.3 190.8,444.3 188.6,444.3 186.3,444.2 184.1,444.2 181.9,444.2 179.6,444.2 177.4,444.2 175.1,444.2 172.9,444.1 170.6,444.1 168.4,444.1 166.1,444.1 163.9,444.1 161.6,444.1 159.4,444 157.1,444 154.9,444 152.7,444 150.4,444 148.2,444 145.9,443.9 143.7,443.9 141.4,443.9 139.2,443.9 137,443.9 134.7,443.9 132.5,443.8 130.2,443.8 128,443.8 125.7,443.8 123.5,443.8 121.3,443.8 119,443.7 116.8,443.7 114.5,443.7 112.3,443.7 110.1,443.7 107.8,443.7 105.6,443.6 103.3,443.6 101.1,443.6 98.9,443.6" fill="url(#g0)"/>
<polyline points="98.9,443.6 101.1,443.6 103.3,443.6 105.6,443.6 107.8,443.7 110.1,443.7 112.3,443.7 114.5,443.7 116.8,443.7 119,443.7 121.3,443.8 123.5,443.8 125.7,443.8 128,443.8 130.2,443.8 132.5,443.8 134.7,443.8 136.9,443.8 139.2,443.7 141.4,443.7 143.7,443.6 145.9,443.5 148.1,443.4 150.3,443.2 152.6,443 154.8,442.7 157,442.4 159.2,442 161.4,441.5 163.6,441 165.8,440.4 168,439.7 170.2,438.9 172.3,438 174.5,437.1 176.7,436.1 178.9,435.1 181,434 183.2,432.9 185.4,431.7 187.5,430.6 189.7,429.5 191.9,428.5 194.1,427.5 196.3,426.6 198.5,425.7 200.7,425 202.9,424.3 205.1,423.7 207.4,423.3 209.6,422.9 211.9,422.7 214.1,422.5 216.4,422.4 218.7,422.3 220.9,422.3 223.2,422.3 225.5,422.4 227.8,422.6 230.1,422.8 232.4,423 234.6,423.4 236.9,423.7 239.2,424.1 241.5,424.6 243.8,425 246.1,425.6 248.4,426.1 250.7,426.7 253,427.2 255.3,427.8 257.6,428.4 259.9,429.1 262.2,429.7 264.5,430.3 266.8,430.9 269.1,431.5 271.4,432.1 273.7,432.7 276,433.2 278.3,433.8 280.5,434.3 282.8,434.8 285.1,435.3 287.4,435.8 289.7,436.3 292,436.7 294.2,437.1 296.5,437.5 298.8,437.8 301.1,438.2 303.3,438.5 305.6,438.8 307.9,439.1 310.1,439.4 312.4,439.6 314.7,439.9 317,440.1 319.2,440.3 321.5,440.5 323.8,440.7 326,440.9 328.3,441.1 330.6,441.2 332.8,441.4 335.1,441.5 337.4,441.7 339.6,441.8 341.9,441.9 344.2,442.1 346.4,442.2 348.7,442.3 351,442.4 353.2,442.5 355.5,442.6 357.8,442.7 360,442.8 362.3,442.9 364.6,443 366.8,443.1 369.1,443.2 371.4,443.3 373.6,443.4 375.9,443.5 378.2,443.6 380.4,443.7 382.7,443.8 385,443.8 387.2,443.9 389.5,444 391.8,444.1 394,444.1 396.3,444.2 398.6,444.3 400.8,444.3 403.1,444.4 405.4,444.5 407.6,444.5 409.9,444.6 412.2,444.7" fill="none" stroke="url(#lg0)" stroke-width="1.3"/>
<polyline points="286,145.5 532.9,145.8" stroke="#999" stroke-width="1" stroke-opacity="0.3" fill="none"/>
<g stroke="#000" stroke-width="2.6" fill="none" stroke-linecap="square">
<polyline points="74.9,309.9 92.6,453.6 408.1,456 532.9,145.8"/>
</g>
<path d="M96.5 454.7v5M122.7 454.9v10M149 455.1v5M175.3 455.3v5M201.7 455.5v5M228 455.6v5M254.4 455.8v10M280.8 456v5M307.3 456.2v5M333.8 456.4v5M360.3 456.6v5M386.8 456.8v10M91.6 453.6h-10M89 433.2h-5M86.5 412.3h-10M83.9 391h-5M81.2 369.4h-10M78.5 347.3h-5M75.7 324.7h-10M421.3 424.3h8M450.9 350.8h8M477.4 284.8h8M501.4 225.2h8M523.2 171h8" stroke="#000" stroke-width="2.2" fill="none"/>
<text x="122.7" y="489" font-size="21" text-anchor="middle">520</text>
<text x="254.4" y="489" font-size="21" text-anchor="middle">540</text>
<text x="386.8" y="489" font-size="21" text-anchor="middle">560</text>
<text x="78.6" y="461.2" font-size="21" text-anchor="end">0</text>
<text x="73.5" y="419.9" font-size="21" text-anchor="end">5</text>
<text x="68.2" y="377" font-size="21" text-anchor="end">10</text>
<text x="62.7" y="332.3" font-size="21" text-anchor="end">15</text>
<text x="433.8" y="430.5" font-size="17">4</text>
<text x="463.4" y="357" font-size="17">6</text>
<text x="489.9" y="291" font-size="17">8</text>
<text x="513.9" y="231.4" font-size="17">10</text>
<text x="535.7" y="177.2" font-size="17">12</text>
<text x="27.9" y="27" font-size="38.5">(a)</text>
<text x="129.4" y="517.3" font-size="35" textLength="268.6" lengthAdjust="spacingAndGlyphs">Wavelength (nm)</text>
<text transform="translate(32.6,512.5) rotate(-90)" font-size="33">PL counts (×10<tspan dy="-12" font-size="20">4</tspan><tspan dy="12">)</tspan></text>
<text transform="matrix(0.350,-0.937,1.2,0.072,496.5,419.5)" font-size="25">Pump fluence <tspan font-size="21">(mW/cm<tspan dy="-8" font-size="13">2</tspan><tspan dy="8">)</tspan></tspan></text>
<rect x="664" y="26" width="341.2" height="430.8" fill="none" stroke="#000" stroke-width="3"/>
<path d="M665.5 431.2h7.5M665.5 367.9h4M665.5 304.7h7.5M665.5 241.4h4M665.5 178.2h7.5M665.5 114.9h4M665.5 51.7h7.5M686.7 455.3v-7.5M709.5 455.3v-4M732.2 455.3v-7.5M755 455.3v-4M777.7 455.3v-7.5M800.5 455.3v-4M823.2 455.3v-7.5M846 455.3v-4M868.7 455.3v-7.5M891.5 455.3v-4M914.2 455.3v-7.5M937 455.3v-4M959.7 455.3v-7.5M982.5 455.3v-4" stroke="#000" stroke-width="2.6" fill="none"/>
<text x="653.5" y="438.8" font-size="21" text-anchor="end">0</text>
<text x="653.5" y="312.3" font-size="21" text-anchor="end">5</text>
<text x="653.5" y="185.8" font-size="21" text-anchor="end">10</text>
<text x="653.5" y="59.3" font-size="21" text-anchor="end">15</text>
<text x="686.7" y="484" font-size="21" text-anchor="middle">0</text>
<text x="732.2" y="484" font-size="21" text-anchor="middle">2</text>
<text x="777.7" y="484" font-size="21" text-anchor="middle">4</text>
<text x="823.2" y="484" font-size="21" text-anchor="middle">6</text>
<text x="868.7" y="484" font-size="21" text-anchor="middle">8</text>
<text x="914.2" y="484" font-size="21" text-anchor="middle">10</text>
<text x="959.7" y="484" font-size="21" text-anchor="middle">12</text>
<text x="1005.2" y="484" font-size="21" text-anchor="middle">14</text>
<text x="571.7" y="31.7" font-size="38.5">(b)</text>
<text x="645.4" y="522" font-size="34.8">Pump fluence (mW/cm<tspan dy="-15.5" font-size="23">2</tspan><tspan dy="15.5">)</tspan></text>
<text transform="translate(624.2,371) rotate(-90)" font-size="35.2">PL counts (×10<tspan dy="-13" font-size="21.5">4</tspan><tspan dy="13">)</tspan></text>
<polyline points="682.3,220.2 683.2,220.2 684.1,220.2 685,220.2 685.9,220.2 686.8,220.2 687.7,220.2 688.6,220.2 689.5,220.2 690.4,220.2 691.3,220.2 692.2,220.2 693.1,220.2 694,220.2 694.9,220.2 695.8,220.2 696.7,220.2 697.6,220.2 698.5,220.2 699.4,220.2 700.3,220.2 701.2,220.2 702.1,220.2 703,220.2 703.9,220.2 704.8,220.2 705.7,220.1 706.6,220.1 707.5,219.9 708.4,219.7 709.3,219.4 710.2,218.8 711.1,218 712,216.7 712.9,214.8 713.8,212.2 714.7,208.6 715.6,203.9 716.5,197.9 717.4,190.5 718.3,181.7 719.2,171.4 720.1,159.8 721,147.1 721.9,133.7 722.8,119.8 723.7,105.9 724.6,92.5 725.5,79.9 726.4,68.5 727.3,58.6 728.2,50.4 729.1,43.9 730,39.2 730.9,36 731.8,34.2 732.7,33.5 733.6,33.6 734.5,36.4 735.4,40.6 736.3,45.7 737.2,51.4 738.1,57.6 739,64.1 739.9,70.8 740.8,77.5 741.7,84.4 742.6,91.2 743.5,98 744.4,104.7 745.3,111.2 746.2,117.6 747.1,123.8 748,129.8 748.9,135.6 749.8,141.1 750.7,146.4 751.6,151.5 752.5,156.3 753.4,160.9 754.3,165.2 755.2,169.3 756.1,173.1 756.9,176.8 757.8,180.2 758.7,183.4 759.6,186.3 760.5,189.1 761.4,191.7 762.3,194.1 763.2,196.3 764.1,198.4 765,200.3 765.9,202.1 766.8,203.7 767.7,205.2 768.6,206.6 769.5,207.8 770.4,209 771.3,210.1 772.2,211 773.1,211.9 774,212.7 774.9,213.5 775.8,214.1 776.7,214.7 777.6,215.3 778.5,215.8 779.4,216.3 780.3,216.7 781.2,217 782.1,217.4 783,217.7 783.9,217.9 784.8,218.2 785.7,218.4 786.6,218.6 787.5,218.8 788.4,218.9 789.3,219.1 790.2,219.2 791.1,219.3 792,219.4 792.9,219.5 793.8,219.6 794.7,219.7 795.6,219.7 796.5,219.8 797.4,219.8 798.3,219.9 799.2,219.9 800.1,219.9 801,220 801.9,220 802.8,220 803.7,220.1 804.6,220.1 805.5,220.1 806.4,220.1 807.3,220.1 808.2,220.1 809.1,220.1 810,220.1 810.9,220.1 811.8,220.2 812.7,220.2 813.6,220.2 814.5,220.2 815.4,220.2 816.3,220.2 817.2,220.2 818.1,220.2 819,220.2 819.9,220.2 820.8,220.2 821.7,220.2 822.6,220.2 823.5,220.2 824.4,220.2 825.3,220.2 826.2,220.2 827.1,220.2 828,220.2 828.9,220.2 829.8,220.2 830.7,220.2 831.5,220.2 832.4,220.2 833.3,220.2 834.2,220.2 835.1,220.2 836,220.2 836.9,220.2 837.8,220.2 838.7,220.2 839.6,220.2 840.5,220.2 841.4,220.2 842.3,220.2 843.2,220.2 844.1,220.2 845,220.2 845.9,220.2 846.8,220.2" fill="none" stroke="#8484c4" stroke-width="3.4" stroke-linejoin="round"/>
<polyline points="682.3,220.8 683.2,220.6 684.1,220.3 685,219.9 685.9,220.3 686.8,219.8 687.7,220.5 688.6,220.3 689.5,220.5 690.4,220.3 691.3,220.7 692.2,220.4 693.1,220.7 694,220.4 694.9,220.4 695.8,220.7 696.7,220.3 697.6,219.5 698.5,219.7 699.4,219.6 700.3,218.7 701.2,218.8 702.1,219.1 703,218.6 703.9,218.3 704.8,218.9 705.7,219.4 706.6,219.5 707.5,219.5 708.4,220 709.3,219.9 710.2,219.2 711.1,218.8 712,218.4 712.9,216.9 713.8,214.5 714.7,212.1 715.6,208.7 716.5,204.4 717.4,198.7 718.3,192.4 719.2,184.6 720.1,175.7 721,166.2 721.9,157.1 722.8,147.1 723.7,137.8 724.6,129 725.5,120.1 726.4,111.8 727.3,105.3 728.2,98.5 729.1,93.8 730,90.3 730.9,87.4 731.8,85.9 732.7,85.7 733.6,85.8 734.5,87.5 735.4,91.1 736.3,94.8 737.2,98.7 738.1,103.1 739,107.9 739.9,112.8 740.8,117.4 741.7,123 742.6,127.9 743.5,132.8 744.4,137.6 745.3,142.9 746.2,147.7 747.1,151.5 748,156.1 748.9,160.2 749.8,163.8 750.7,166.7 751.6,171.2 752.5,174 753.4,177.3 754.3,180.9 755.2,183.7 756.1,185.9 756.9,188.5 757.8,190.9 758.7,193.2 759.6,196.5 760.5,198.1 761.4,200.1 762.3,202 763.2,203.6 764.1,204.6 765,206.3 765.9,207.9 766.8,208.8 767.7,209.3 768.6,209.9 769.5,211.2 770.4,212.1 771.3,212.8 772.2,213.5 773.1,214 774,214.3 774.9,215.1 775.8,215.5 776.7,215.6 777.6,216.8 778.5,217.5 779.4,218.1 780.3,218.5 781.2,219.1 782.1,218.4 783,218.9 783.9,219.2 784.8,219.1 785.7,219.2 786.6,220 787.5,219.5 788.4,218.7 789.3,218.9 790.2,219.3 791.1,219.5 792,219.9 792.9,220.3 793.8,220.3 794.7,220.4 795.6,219.4 796.5,219 797.4,219 798.3,219 799.2,219.1 800.1,220 801,220.9 801.9,220.9 802.8,221.4 803.7,221.2 804.6,220.9 805.5,220.2 806.4,219.8 807.3,219.1 808.2,219 809.1,219.2 810,219.5 810.9,219.6 811.8,219.3 812.7,219.5 813.6,219.6 814.5,219.9 815.4,220.1 816.3,220.6 817.2,220.4 818.1,220.9 819,220.8 819.9,221.2 820.8,222.1 821.7,222.1 822.6,221.6 823.5,221.5 824.4,221.1 825.3,220.6 826.2,220.9 827.1,220.8 828,220.2 828.9,220 829.8,219.5 830.7,219.5 831.5,219.3 832.4,220 833.3,220.3 834.2,220.6 835.1,220.7 836,220.9 836.9,220.5 837.8,220.2 838.7,220 839.6,220 840.5,220 841.4,220.3 842.3,219.9 843.2,220.4 844.1,220 845,219.8 845.9,219.5 846.8,219.8" fill="none" stroke="#000080" stroke-width="3.4" stroke-linejoin="round"/>
<path d="M681.1 225.8H847.3" stroke="#000" stroke-width="1.8"/>
<path d="M681.6 225.8v-4.5M719.1 225.8v-3M756.5 225.8v-4.5M794 225.8v-3M831.4 225.8v-4.5" stroke="#000" stroke-width="1.5"/>
<text x="681.6" y="241.4" font-size="12.5" text-anchor="middle">500</text>
<text x="756.5" y="241.4" font-size="12.5" text-anchor="middle">550</text>
<text x="831.4" y="241.4" font-size="12.5" text-anchor="middle">600</text>
<text x="679" y="260.8" font-size="21" textLength="156" lengthAdjust="spacingAndGlyphs">Wavelength (nm)</text>
<path d="M752 40.7H786.4" stroke="#000080" stroke-width="3.6"/>
<path d="M750.7 79.8H787.7" stroke="#8484c4" stroke-width="3.6"/>
<text x="752" y="66.8" font-size="15.4">0.64 mW/cm<tspan dy="-6" font-size="9.5">2</tspan></text>
<text x="753" y="105.8" font-size="15.2">12.74 mW/cm<tspan dy="-6" font-size="9.5">2</tspan></text>
<text x="764.5" y="189.7" font-size="21" fill="#000080">×<tspan font-weight="bold"> 20</tspan></text>
<circle cx="700.8" cy="417.5" r="11.2" fill="#000080"/>
<circle cx="697.7" cy="414.4" r="6" fill="url(#hl)"/>
<circle cx="714.9" cy="405.6" r="11.2" fill="#000080"/>
<circle cx="711.8" cy="402.5" r="6" fill="url(#hl)"/>
<circle cx="729.9" cy="394" r="11.2" fill="#000080"/>
<circle cx="726.8" cy="390.9" r="6" fill="url(#hl)"/>
<circle cx="744.5" cy="379.6" r="11.2" fill="#000080"/>
<circle cx="741.4" cy="376.5" r="6" fill="url(#hl)"/>
<circle cx="764.5" cy="362.6" r="11.2" fill="#000080"/>
<circle cx="761.4" cy="359.5" r="6" fill="url(#hl)"/>
<circle cx="790.7" cy="322.7" r="11.2" fill="#000080"/>
<circle cx="787.6" cy="319.6" r="6" fill="url(#hl)"/>
<circle cx="805.5" cy="301.2" r="11.2" fill="#000080"/>
<circle cx="802.4" cy="298.1" r="6" fill="url(#hl)"/>
<circle cx="848.9" cy="256.4" r="11.2" fill="#000080"/>
<circle cx="845.8" cy="253.3" r="6" fill="url(#hl)"/>
<circle cx="889.6" cy="190.1" r="11.2" fill="#000080"/>
<circle cx="886.5" cy="187" r="6" fill="url(#hl)"/>
<circle cx="903.7" cy="166.6" r="11.2" fill="#000080"/>
<circle cx="900.6" cy="163.5" r="6" fill="url(#hl)"/>
<circle cx="924.2" cy="140" r="11.2" fill="#000080"/>
<circle cx="921.1" cy="136.9" r="6" fill="url(#hl)"/>
<circle cx="959" cy="79" r="11.2" fill="#000080"/>
<circle cx="955.9" cy="75.9" r="6" fill="url(#hl)"/>
<circle cx="976.5" cy="46.6" r="11.2" fill="#000080"/>
<circle cx="973.4" cy="43.5" r="6" fill="url(#hl)"/>
<polyline points="700.8,417.5 714.9,405.6 729.9,394 744.5,379.6 764.5,362.6 790.7,322.7 805.5,301.2 848.9,256.4 889.6,190.1 903.7,166.6 924.2,140 959,79 976.5,46.6" fill="none" stroke="#000080" stroke-width="2.2" stroke-dasharray="2.6 3.6"/>
<rect x="1114" y="25.7" width="379.7" height="434.1" fill="none" stroke="#000" stroke-width="3"/>
<g clip-path="url(#cc)" stroke-width="2.6" stroke-linejoin="round">
<polygon points="1112.5,464.8 1113.5,464.8 1114.5,464.8 1115.5,464.8 1116.5,464.8 1117.5,464.8 1118.5,464.8 1119.5,464.8 1120.5,464.8 1121.5,464.8 1122.5,464.8 1123.5,464.8 1124.5,464.8 1125.5,464.8 1126.5,464.8 1127.5,464.8 1128.5,464.8 1129.5,464.8 1130.5,464.8 1131.5,464.8 1132.5,464.8 1133.5,464.8 1134.5,395.2 1135.5,314.6 1136.5,233.9 1137.5,153.3 1138.5,72.7 1139.5,52.5 1140.5,54.6 1141.5,57.2 1142.5,60.1 1143.5,61.8 1144.5,64 1145.5,68.2 1146.5,70.8 1147.5,73.4 1148.5,75.6 1149.5,78.2 1150.5,81 1151.5,84.6 1152.5,87.1 1153.5,88.5 1154.5,91.3 1155.5,94.9 1156.5,97.1 1157.5,100.1 1158.5,101.4 1159.5,103.7 1160.5,107.1 1161.5,108 1162.5,110 1163.5,111.4 1164.5,114.2 1165.5,114.7 1166.5,119 1167.5,121.1 1168.5,121.9 1169.5,123.9 1170.5,125 1171.5,126.8 1172.5,128.7 1173.5,131 1174.5,130.9 1175.5,133.5 1176.5,136 1177.5,138.2 1178.5,139.6 1179.5,141.6 1180.5,142.4 1181.5,142.1 1182.5,146 1183.5,147.5 1184.5,149.5 1185.5,151.1 1186.5,152.3 1187.5,154.2 1188.5,154.2 1189.5,157.8 1190.5,157.8 1191.5,159.8 1192.5,163.3 1193.5,162.8 1194.5,166.6 1195.5,166.9 1196.5,167 1197.5,168.6 1198.5,171.1 1199.5,171.3 1200.5,172.5 1201.5,173.4 1202.5,174.9 1203.5,176.5 1204.5,176.7 1205.5,177.6 1206.5,177.6 1207.5,179.6 1208.5,181.1 1209.5,181.4 1210.5,183.6 1211.5,185.1 1212.5,187.4 1213.5,187.4 1214.5,186.4 1215.5,188.9 1216.5,190.4 1217.5,190.9 1218.5,191.4 1219.5,193.5 1220.5,193.6 1221.5,193.7 1222.5,193.7 1223.5,196.5 1224.5,196.7 1225.5,197.8 1226.5,196.6 1227.5,200.8 1228.5,198.6 1229.5,199.3 1230.5,202.8 1231.5,203.4 1232.5,203.9 1233.5,204.4 1234.5,201.9 1235.5,201.9 1236.5,207.4 1237.5,205.8 1238.5,207.5 1239.5,205.5 1240.5,208.2 1241.5,209.4 1242.5,208.5 1243.5,210.9 1244.5,210.9 1245.5,209.6 1246.5,211.9 1247.5,214.7 1248.5,213 1249.5,215.1 1250.5,216.1 1251.5,216.7 1252.5,217.8 1253.5,217.8 1254.5,219.8 1255.5,219.8 1256.5,219.4 1257.5,220 1258.5,224.5 1259.5,224.3 1260.5,224.3 1261.5,227.6 1262.5,229.1 1263.5,226.8 1264.5,226.5 1265.5,226.5 1266.5,227.6 1267.5,227.6 1268.5,231.5 1269.5,230.7 1270.5,234.6 1271.5,230 1272.5,233.1 1273.5,235.4 1274.5,236.9 1275.5,236.9 1276.5,238.3 1277.5,238.3 1278.5,242.8 1279.5,240.2 1280.5,243.1 1281.5,240.1 1282.5,244.3 1283.5,244.3 1284.5,244.7 1285.5,244.5 1286.5,245 1287.5,247.3 1288.5,247.9 1289.5,253.1 1290.5,252.2 1291.5,252.2 1292.5,248.6 1293.5,250.3 1294.5,253.5 1295.5,251.7 1296.5,255 1297.5,254.6 1298.5,257.6 1299.5,257.9 1300.5,257.9 1301.5,257.6 1302.5,258.6 1303.5,258.6 1304.5,262 1305.5,263.1 1306.5,259.7 1307.5,262.2 1308.5,265.7 1309.5,266.9 1310.5,262.3 1311.5,264.6 1312.5,263.3 1313.5,263.4 1314.5,265.4 1315.5,269.7 1316.5,267.4 1317.5,265.7 1318.5,270.4 1319.5,272.1 1320.5,270.7 1321.5,269.8 1322.5,270.9 1323.5,270.3 1324.5,273.9 1325.5,271.4 1326.5,271.9 1327.5,274.7 1328.5,273.2 1329.5,273 1330.5,267 1331.5,276.4 1332.5,274.6 1333.5,275.2 1334.5,279.3 1335.5,276.4 1336.5,276.1 1337.5,275.2 1338.5,276.2 1339.5,276.2 1340.5,281 1341.5,280.6 1342.5,281.9 1343.5,279.3 1344.5,283.1 1345.5,282.3 1346.5,281 1347.5,282.9 1348.5,287.7 1349.5,287.4 1350.5,286.3 1351.5,286.9 1352.5,286.9 1353.5,289.6 1354.5,285.2 1355.5,285.2 1356.5,289.5 1357.5,292.7 1358.5,291.3 1359.5,290.7 1360.5,286.8 1361.5,291.6 1362.5,288.6 1363.5,288.6 1364.5,297.8 1365.5,295.2 1366.5,295.2 1367.5,293 1368.5,297.1 1369.5,301 1370.5,292.5 1371.5,292.5 1372.5,299.4 1373.5,296.4 1374.5,296.4 1375.5,299.1 1376.5,304.7 1377.5,302.9 1378.5,302.9 1379.5,304.4 1380.5,304.6 1381.5,303.9 1382.5,302.2 1383.5,305.6 1384.5,308.4 1385.5,305.2 1386.5,310.8 1387.5,305.5 1388.5,309.5 1389.5,311.7 1390.5,311.1 1391.5,311.6 1392.5,308.7 1393.5,307.3 1394.5,310.5 1395.5,312.5 1396.5,314.1 1397.5,313.4 1398.5,315.3 1399.5,314.4 1400.5,312.6 1401.5,316.1 1402.5,317.1 1403.5,312 1404.5,311 1405.5,311 1406.5,317.2 1407.5,312.6 1408.5,315.8 1409.5,315.1 1410.5,317.1 1411.5,312 1412.5,314.5 1413.5,314.5 1414.5,317.1 1415.5,317.1 1416.5,319.7 1417.5,322.6 1418.5,323.8 1419.5,323 1420.5,318.1 1421.5,323 1422.5,320.4 1423.5,317.3 1424.5,317.3 1425.5,325 1426.5,321.4 1427.5,326.1 1428.5,328.6 1429.5,325 1430.5,321.7 1431.5,323 1432.5,329.7 1433.5,327.5 1434.5,327.5 1435.5,322.2 1436.5,326.1 1437.5,331.8 1438.5,330.7 1439.5,327.6 1440.5,329.3 1441.5,329.3 1442.5,334.1 1443.5,329.6 1444.5,331.3 1445.5,328.9 1446.5,336.3 1447.5,337.2 1448.5,337.5 1449.5,333.6 1450.5,346.1 1451.5,333.5 1452.5,333.5 1453.5,337.8 1454.5,338.7 1455.5,335.6 1456.5,338.1 1457.5,333.3 1458.5,342.1 1459.5,334.3 1460.5,342 1461.5,342 1462.5,340.8 1463.5,341.1 1464.5,341.2 1465.5,349 1466.5,339.6 1467.5,336.7 1468.5,344.4 1469.5,335 1470.5,344.3 1471.5,347.6 1472.5,347.6 1473.5,344.3 1474.5,344.3 1475.5,350.3 1476.5,354 1477.5,349.8 1478.5,349.8 1479.5,348 1480.5,352.4 1481.5,345.2 1482.5,351.3 1483.5,355.2 1484.5,353.3 1485.5,349.5 1486.5,358.9 1487.5,352.7 1488.5,355.7 1489.5,355.7 1490.5,352.7 1491.5,359.2 1492.5,349.7 1493.5,346.4 1494.5,350.7 1495.5,355.5 1496.5,358.3 1496.5,365.7 1495.5,365.7 1494.5,364.6 1493.5,369.5 1492.5,366.9 1491.5,374.4 1490.5,374.4 1489.5,367.4 1488.5,361.1 1487.5,369.4 1486.5,365.6 1485.5,365.6 1484.5,370.3 1483.5,370.3 1482.5,363.1 1481.5,374.8 1480.5,374.8 1479.5,363 1478.5,359.4 1477.5,366.2 1476.5,370.4 1475.5,362.4 1474.5,360.9 1473.5,353.1 1472.5,358.9 1471.5,352.8 1470.5,356.2 1469.5,362.6 1468.5,361.7 1467.5,361.7 1466.5,358.2 1465.5,360.1 1464.5,360.1 1463.5,355.4 1462.5,358.1 1461.5,358.1 1460.5,362 1459.5,362 1458.5,350.1 1457.5,347.8 1456.5,347 1455.5,350.5 1454.5,351.9 1453.5,351.1 1452.5,344.9 1451.5,346.9 1450.5,355.5 1449.5,351.9 1448.5,341.1 1447.5,354.5 1446.5,341 1445.5,346.2 1444.5,341 1443.5,343.9 1442.5,338.7 1441.5,336.8 1440.5,346.7 1439.5,340.6 1438.5,347.8 1437.5,347.8 1436.5,339.8 1435.5,341.9 1434.5,333.7 1433.5,335.6 1432.5,337.6 1431.5,332.2 1430.5,332.5 1429.5,336.9 1428.5,339.8 1427.5,330.2 1426.5,334.8 1425.5,336.6 1424.5,334.8 1423.5,329.9 1422.5,329.8 1421.5,331.9 1420.5,331.9 1419.5,331.7 1418.5,328.7 1417.5,331.6 1416.5,327.8 1415.5,332 1414.5,326.1 1413.5,326.6 1412.5,337.1 1411.5,331.4 1410.5,326 1409.5,329.4 1408.5,329.4 1407.5,327.2 1406.5,329.9 1405.5,328.4 1404.5,327.9 1403.5,322.6 1402.5,320.6 1401.5,323.2 1400.5,326.1 1399.5,317.6 1398.5,322.4 1397.5,320.2 1396.5,319 1395.5,319.6 1394.5,319.6 1393.5,319 1392.5,319 1391.5,316.7 1390.5,316.7 1389.5,321.3 1388.5,316.8 1387.5,316.7 1386.5,316.8 1385.5,314.5 1384.5,316.8 1383.5,312.4 1382.5,312.4 1381.5,315.6 1380.5,315 1379.5,316.9 1378.5,312.1 1377.5,311.4 1376.5,318.4 1375.5,310.2 1374.5,304.9 1373.5,306.7 1372.5,305.1 1371.5,303.3 1370.5,305.6 1369.5,308.2 1368.5,306 1367.5,309.3 1366.5,309.3 1365.5,299.3 1364.5,307.2 1363.5,298.1 1362.5,300 1361.5,298.8 1360.5,299.4 1359.5,297.6 1358.5,298.4 1357.5,297.1 1356.5,297.1 1355.5,295.3 1354.5,292.7 1353.5,298.4 1352.5,290.6 1351.5,294.7 1350.5,295.7 1349.5,293.9 1348.5,291.1 1347.5,290.1 1346.5,291.4 1345.5,291 1344.5,291 1343.5,289.9 1342.5,290.2 1341.5,290.7 1340.5,287.6 1339.5,290.9 1338.5,284.4 1337.5,284.7 1336.5,282.2 1335.5,285.5 1334.5,283.3 1333.5,284 1332.5,281.2 1331.5,281.2 1330.5,279.7 1329.5,277.3 1328.5,278.5 1327.5,283.8 1326.5,281.2 1325.5,279.2 1324.5,279.7 1323.5,279.7 1322.5,278.1 1321.5,274.2 1320.5,274.6 1319.5,274.7 1318.5,272.7 1317.5,274.9 1316.5,275.5 1315.5,278.1 1314.5,274.6 1313.5,270.8 1312.5,271.7 1311.5,272.1 1310.5,267.6 1309.5,272.9 1308.5,271.1 1307.5,270.2 1306.5,267.5 1305.5,266.4 1304.5,267.1 1303.5,264 1302.5,265.1 1301.5,265 1300.5,263.5 1299.5,264.7 1298.5,262 1297.5,258.3 1296.5,260.2 1295.5,259 1294.5,258.4 1293.5,258.4 1292.5,260.1 1291.5,260.1 1290.5,262.4 1289.5,256.1 1288.5,254.9 1287.5,257 1286.5,257 1285.5,250.9 1284.5,250 1283.5,249.8 1282.5,251 1281.5,245.3 1280.5,249.4 1279.5,248.8 1278.5,245.9 1277.5,244.1 1276.5,244.6 1275.5,243.5 1274.5,239.1 1273.5,240 1272.5,241.8 1271.5,237.5 1270.5,237.4 1269.5,235.7 1268.5,234.3 1267.5,236.4 1266.5,235.3 1265.5,231.6 1264.5,233.6 1263.5,232.3 1262.5,235.2 1261.5,235.2 1260.5,229.2 1259.5,226.8 1258.5,229.2 1257.5,224.5 1256.5,227.6 1255.5,223.5 1254.5,223.1 1253.5,221.2 1252.5,223.2 1251.5,221.8 1250.5,221.1 1249.5,219.7 1248.5,218.8 1247.5,218.8 1246.5,219.1 1245.5,215.8 1244.5,216.8 1243.5,215.2 1242.5,214.4 1241.5,213.8 1240.5,212.4 1239.5,212.4 1238.5,213 1237.5,209.1 1236.5,209.8 1235.5,207.5 1234.5,206.3 1233.5,206.9 1232.5,207.5 1231.5,206 1230.5,204.2 1229.5,203.9 1228.5,202 1227.5,202.7 1226.5,201.2 1225.5,200.5 1224.5,199.8 1223.5,200.2 1222.5,198.5 1221.5,197.3 1220.5,196.6 1219.5,194.7 1218.5,194.4 1217.5,194.4 1216.5,195.3 1215.5,192.8 1214.5,192.6 1213.5,191.1 1212.5,190.3 1211.5,187.4 1210.5,187.2 1209.5,186.1 1208.5,184 1207.5,184 1206.5,183.7 1205.5,181.8 1204.5,179.6 1203.5,178.6 1202.5,178.6 1201.5,177.8 1200.5,175.2 1199.5,174.4 1198.5,174.5 1197.5,174.5 1196.5,171.4 1195.5,168.6 1194.5,168.4 1193.5,167 1192.5,166.6 1191.5,163.5 1190.5,161.7 1189.5,159.7 1188.5,158.7 1187.5,156.6 1186.5,154.6 1185.5,154.2 1184.5,151.6 1183.5,150 1182.5,150 1181.5,148.1 1180.5,145 1179.5,143.7 1178.5,142.8 1177.5,139.7 1176.5,138.2 1175.5,136 1174.5,135.4 1173.5,134.1 1172.5,131.9 1171.5,130.2 1170.5,127.1 1169.5,126.4 1168.5,123.9 1167.5,121.9 1166.5,121.3 1165.5,119 1164.5,117.2 1163.5,115 1162.5,113.5 1161.5,111.9 1160.5,108.2 1159.5,108.1 1158.5,104 1157.5,101.6 1156.5,100.1 1155.5,97.1 1154.5,94.9 1153.5,91.3 1152.5,89.5 1151.5,87.4 1150.5,84.6 1149.5,81 1148.5,78.2 1147.5,76.7 1146.5,73.4 1145.5,70.8 1144.5,68.2 1143.5,64.7 1142.5,61.8 1141.5,60.1 1140.5,57.2 1139.5,72.7 1138.5,153.3 1137.5,233.9 1136.5,314.6 1135.5,395.2 1134.5,464.8 1133.5,464.8 1132.5,464.8 1131.5,464.8 1130.5,464.8 1129.5,464.8 1128.5,464.8 1127.5,464.8 1126.5,464.8 1125.5,464.8 1124.5,464.8 1123.5,464.8 1122.5,464.8 1121.5,464.8 1120.5,464.8 1119.5,464.8 1118.5,464.8 1117.5,464.8 1116.5,464.8 1115.5,464.8 1114.5,464.8 1113.5,464.8 1112.5,464.8" fill="#e8e4dc" stroke="#e8e4dc"/>
<polygon points="1112.5,464.8 1113.5,464.8 1114.5,464.8 1115.5,464.8 1116.5,464.8 1117.5,464.8 1118.5,464.8 1119.5,464.8 1120.5,464.8 1121.5,464.8 1122.5,464.8 1123.5,464.8 1124.5,464.8 1125.5,464.8 1126.5,464.8 1127.5,464.8 1128.5,464.8 1129.5,464.8 1130.5,464.8 1131.5,464.8 1132.5,464.8 1133.5,464.8 1134.5,395.2 1135.5,314.6 1136.5,233.9 1137.5,153.3 1138.5,72.7 1139.5,52.5 1140.5,54.3 1141.5,57.1 1142.5,58.7 1143.5,61.4 1144.5,63.5 1145.5,67.2 1146.5,68.7 1147.5,71.2 1148.5,76 1149.5,79 1150.5,81.9 1151.5,85.9 1152.5,88.5 1153.5,93.3 1154.5,95.2 1155.5,98.9 1156.5,103 1157.5,108.5 1158.5,111.2 1159.5,116 1160.5,120.1 1161.5,124.9 1162.5,125.6 1163.5,131.1 1164.5,133.3 1165.5,136.8 1166.5,139.5 1167.5,141.9 1168.5,142.8 1169.5,147.1 1170.5,148.5 1171.5,148.5 1172.5,153.4 1173.5,156.9 1174.5,158.2 1175.5,161.1 1176.5,162.4 1177.5,163.6 1178.5,168.4 1179.5,171 1180.5,174 1181.5,172.8 1182.5,174.3 1183.5,175.2 1184.5,177.8 1185.5,180.9 1186.5,178.4 1187.5,183.2 1188.5,182.6 1189.5,183.8 1190.5,185.2 1191.5,187.1 1192.5,189 1193.5,186.5 1194.5,189.8 1195.5,189.8 1196.5,192.3 1197.5,193.7 1198.5,192.4 1199.5,194.8 1200.5,195.3 1201.5,196.3 1202.5,197.8 1203.5,201.5 1204.5,203.5 1205.5,203.5 1206.5,208.6 1207.5,209.3 1208.5,211.7 1209.5,213.3 1210.5,212.8 1211.5,215.2 1212.5,218.4 1213.5,218.3 1214.5,218.4 1215.5,223.6 1216.5,224.2 1217.5,226.2 1218.5,224.9 1219.5,227.9 1220.5,229.9 1221.5,224.7 1222.5,229.9 1223.5,230.4 1224.5,228.8 1225.5,237.7 1226.5,234.4 1227.5,239.6 1228.5,238 1229.5,239.1 1230.5,240.4 1231.5,236.4 1232.5,236.4 1233.5,242.8 1234.5,243.9 1235.5,244.7 1236.5,246.7 1237.5,247.6 1238.5,249.1 1239.5,250.6 1240.5,248.6 1241.5,251 1242.5,252.4 1243.5,251.1 1244.5,256.4 1245.5,254.9 1246.5,258.9 1247.5,256.2 1248.5,257.3 1249.5,259.8 1250.5,262.8 1251.5,263.8 1252.5,260 1253.5,265.5 1254.5,269 1255.5,265.2 1256.5,265.3 1257.5,265.3 1258.5,266.5 1259.5,273.2 1260.5,272 1261.5,270.4 1262.5,273.4 1263.5,271.6 1264.5,271.9 1265.5,270.2 1266.5,274.5 1267.5,274.5 1268.5,279 1269.5,276.1 1270.5,273.7 1271.5,280.3 1272.5,278.5 1273.5,284.4 1274.5,283.4 1275.5,281.8 1276.5,283.7 1277.5,285.5 1278.5,288 1279.5,286.8 1280.5,283.5 1281.5,283.7 1282.5,286.5 1283.5,287.7 1284.5,286.7 1285.5,288.4 1286.5,285.3 1287.5,291.3 1288.5,292.3 1289.5,290.9 1290.5,290.3 1291.5,295.1 1292.5,292.9 1293.5,292.9 1294.5,297.2 1295.5,289.8 1296.5,289.8 1297.5,300 1298.5,297.1 1299.5,297.1 1300.5,298.7 1301.5,297.6 1302.5,297 1303.5,297 1304.5,302.4 1305.5,300.2 1306.5,298 1307.5,298 1308.5,302.5 1309.5,302.6 1310.5,304.5 1311.5,305.3 1312.5,304.3 1313.5,304.3 1314.5,308.8 1315.5,305.3 1316.5,305.3 1317.5,307.7 1318.5,309.4 1319.5,312 1320.5,310.3 1321.5,311.8 1322.5,303.6 1323.5,310.1 1324.5,310.6 1325.5,311.5 1326.5,312.5 1327.5,316.4 1328.5,314.5 1329.5,313.7 1330.5,318.8 1331.5,316 1332.5,317.1 1333.5,319.4 1334.5,312.6 1335.5,312.6 1336.5,316.4 1337.5,323.9 1338.5,319.6 1339.5,324.9 1340.5,326.2 1341.5,321.1 1342.5,321.1 1343.5,317 1344.5,322.9 1345.5,323.9 1346.5,328 1347.5,332.9 1348.5,330.2 1349.5,322 1350.5,326.3 1351.5,330.2 1352.5,328.3 1353.5,325.3 1354.5,329.4 1355.5,329.4 1356.5,330.3 1357.5,334.5 1358.5,332 1359.5,326 1360.5,334.6 1361.5,335.9 1362.5,338.4 1363.5,335.2 1364.5,335.2 1365.5,339.4 1366.5,341.9 1367.5,338.1 1368.5,338.1 1369.5,349.3 1370.5,354 1371.5,347.5 1372.5,348.6 1373.5,349.2 1374.5,347.1 1375.5,352 1376.5,348.7 1377.5,353.5 1378.5,351.7 1379.5,347.2 1380.5,359.3 1381.5,359.3 1382.5,360.2 1383.5,355 1384.5,355 1385.5,361.6 1386.5,361 1387.5,361.1 1388.5,354.2 1389.5,358.3 1390.5,358.3 1391.5,359 1392.5,364.5 1393.5,361.3 1394.5,361.3 1395.5,365.2 1396.5,365.4 1397.5,369.2 1398.5,366.5 1399.5,371 1400.5,367.7 1401.5,368.8 1402.5,361 1403.5,366.8 1404.5,369.8 1405.5,374.2 1406.5,371.1 1407.5,370.9 1408.5,370.9 1409.5,366.8 1410.5,366.8 1411.5,377.6 1412.5,374.2 1413.5,374.2 1414.5,374.5 1415.5,372 1416.5,372 1417.5,375.5 1418.5,367.1 1419.5,367.1 1420.5,378.4 1421.5,373.3 1422.5,374.6 1423.5,374.6 1424.5,376.1 1425.5,382.4 1426.5,377.1 1427.5,377.1 1428.5,380.8 1429.5,382.2 1430.5,371.8 1431.5,377.5 1432.5,378.2 1433.5,374.9 1434.5,374.9 1435.5,380 1436.5,380 1437.5,380.8 1438.5,380.3 1439.5,380.3 1440.5,384.4 1441.5,383.7 1442.5,383.7 1443.5,382.5 1444.5,384.4 1445.5,383.2 1446.5,387.7 1447.5,378.9 1448.5,382.1 1449.5,382.1 1450.5,392.9 1451.5,385.6 1452.5,396.9 1453.5,391.7 1454.5,396 1455.5,385.4 1456.5,385.8 1457.5,390.6 1458.5,391.5 1459.5,388.8 1460.5,388.8 1461.5,398.8 1462.5,394.2 1463.5,403.2 1464.5,392.7 1465.5,395.7 1466.5,406.6 1467.5,398.9 1468.5,399.5 1469.5,392.4 1470.5,402.9 1471.5,398 1472.5,398 1473.5,398.1 1474.5,393.2 1475.5,402.6 1476.5,393.8 1477.5,410 1478.5,396.4 1479.5,401.4 1480.5,402.4 1481.5,402.4 1482.5,400.1 1483.5,400.1 1484.5,403 1485.5,409.1 1486.5,409.1 1487.5,411.7 1488.5,404 1489.5,410.9 1490.5,414.7 1491.5,415.5 1492.5,410.6 1493.5,404.5 1494.5,404.5 1495.5,410.8 1496.5,413.7 1496.5,415.5 1495.5,430.9 1494.5,420.8 1493.5,436.1 1492.5,430.9 1491.5,433.7 1490.5,429.9 1489.5,432 1488.5,432 1487.5,425.7 1486.5,428.3 1485.5,419.2 1484.5,432.3 1483.5,432.3 1482.5,416 1481.5,438.4 1480.5,429.2 1479.5,418.1 1478.5,414.3 1477.5,426 1476.5,417.1 1475.5,434.7 1474.5,422.3 1473.5,429.5 1472.5,434.4 1471.5,412 1470.5,423.9 1469.5,441.4 1468.5,420 1467.5,409.9 1466.5,414.3 1465.5,413.6 1464.5,420.2 1463.5,414.9 1462.5,415.7 1461.5,418.4 1460.5,418.4 1459.5,404.8 1458.5,423.5 1457.5,413.1 1456.5,403.9 1455.5,412.8 1454.5,412.8 1453.5,408 1452.5,409.4 1451.5,402.9 1450.5,409.2 1449.5,409.2 1448.5,420.8 1447.5,412.1 1446.5,412.2 1445.5,412.2 1444.5,400.5 1443.5,405.7 1442.5,404 1441.5,397.2 1440.5,388.7 1439.5,404.5 1438.5,386.1 1437.5,402.8 1436.5,402.8 1435.5,398 1434.5,398 1433.5,392.5 1432.5,409.2 1431.5,390.7 1430.5,396.7 1429.5,391.3 1428.5,398.8 1427.5,394.4 1426.5,395.7 1425.5,397.4 1424.5,385.2 1423.5,391.9 1422.5,387 1421.5,392.1 1420.5,388.7 1419.5,381.9 1418.5,381.1 1417.5,389 1416.5,391.5 1415.5,394.1 1414.5,395.9 1413.5,395.9 1412.5,389.8 1411.5,394.7 1410.5,394.7 1409.5,394.2 1408.5,377.1 1407.5,392.2 1406.5,378.9 1405.5,385.5 1404.5,379.6 1403.5,377.3 1402.5,384.6 1401.5,384.6 1400.5,384 1399.5,384 1398.5,375.7 1397.5,382.2 1396.5,384.5 1395.5,391.6 1394.5,371.5 1393.5,379.6 1392.5,379.6 1391.5,376.9 1390.5,376.9 1389.5,378.2 1388.5,378.2 1387.5,364.8 1386.5,374.1 1385.5,374.1 1384.5,369.6 1383.5,366.8 1382.5,370.5 1381.5,371 1380.5,373.1 1379.5,361.4 1378.5,361 1377.5,361 1376.5,359.5 1375.5,368.6 1374.5,361.2 1373.5,367.5 1372.5,367.5 1371.5,358.6 1370.5,360.2 1369.5,360.2 1368.5,352.9 1367.5,352.8 1366.5,361.4 1365.5,361.4 1364.5,350.4 1363.5,347.4 1362.5,349 1361.5,349.5 1360.5,344.4 1359.5,345 1358.5,340.5 1357.5,347.5 1356.5,345.7 1355.5,341.8 1354.5,345.3 1353.5,344.1 1352.5,344.1 1351.5,346.4 1350.5,335.6 1349.5,349.4 1348.5,336.6 1347.5,335.1 1346.5,333.4 1345.5,334.3 1344.5,335.3 1343.5,335.3 1342.5,329.1 1341.5,328.1 1340.5,336.7 1339.5,334.2 1338.5,328 1337.5,332.2 1336.5,327.5 1335.5,329.1 1334.5,330 1333.5,330 1332.5,329.6 1331.5,329.6 1330.5,323.6 1329.5,323.6 1328.5,324.3 1327.5,326.5 1326.5,318.6 1325.5,323.5 1324.5,323.5 1323.5,319.7 1322.5,319.1 1321.5,323.1 1320.5,314.5 1319.5,314.8 1318.5,314.7 1317.5,320.7 1316.5,314.1 1315.5,315.1 1314.5,319.4 1313.5,319.4 1312.5,313.8 1311.5,317.7 1310.5,306 1309.5,313.5 1308.5,311.8 1307.5,307 1306.5,315.4 1305.5,315.4 1304.5,306 1303.5,306.5 1302.5,306.2 1301.5,303.2 1300.5,310.9 1299.5,305.2 1298.5,310.6 1297.5,305.4 1296.5,307.9 1295.5,297.7 1294.5,301.2 1293.5,298.2 1292.5,299.5 1291.5,306.9 1290.5,304.6 1289.5,297.8 1288.5,300.1 1287.5,293.6 1286.5,296.2 1285.5,297.5 1284.5,297.5 1283.5,298.2 1282.5,298.2 1281.5,292.9 1280.5,293.7 1279.5,292 1278.5,290.7 1277.5,290.3 1276.5,288.6 1275.5,288.6 1274.5,289 1273.5,289.2 1272.5,289.2 1271.5,287.2 1270.5,283.3 1269.5,288.1 1268.5,285.7 1267.5,285.9 1266.5,283.8 1265.5,282.1 1264.5,283.4 1263.5,279.8 1262.5,280.8 1261.5,278.4 1260.5,275.8 1259.5,275.1 1258.5,277.2 1257.5,270.6 1256.5,270.4 1255.5,273.6 1254.5,273.6 1253.5,269.3 1252.5,270.1 1251.5,267.3 1250.5,269.9 1249.5,264.4 1248.5,261.9 1247.5,264.7 1246.5,261.3 1245.5,261.7 1244.5,261.2 1243.5,258.7 1242.5,257.5 1241.5,255.8 1240.5,253.7 1239.5,254 1238.5,257.2 1237.5,252.2 1236.5,249.7 1235.5,250.5 1234.5,245.7 1233.5,247.2 1232.5,245.4 1231.5,245.8 1230.5,243.7 1229.5,241.6 1228.5,242.2 1227.5,242.6 1226.5,242.2 1225.5,240.4 1224.5,240.4 1223.5,236.4 1222.5,234.2 1221.5,233 1220.5,233 1219.5,232.9 1218.5,231.4 1217.5,229 1216.5,230.9 1215.5,228.4 1214.5,224.8 1213.5,224.3 1212.5,223.2 1211.5,218.4 1210.5,218.2 1209.5,217.2 1208.5,215.2 1207.5,213.3 1206.5,213.3 1205.5,212 1204.5,205.5 1203.5,204.6 1202.5,202.2 1201.5,202.2 1200.5,197.2 1199.5,199.3 1198.5,196.2 1197.5,196.3 1196.5,196.2 1195.5,193.5 1194.5,193.4 1193.5,193.1 1192.5,192.5 1191.5,189.5 1190.5,188.9 1189.5,187.6 1188.5,185.7 1187.5,187.3 1186.5,183.3 1185.5,183.6 1184.5,183.6 1183.5,180.3 1182.5,177.9 1181.5,174.5 1180.5,174.8 1179.5,174 1178.5,171.8 1177.5,168.8 1176.5,167.2 1175.5,163.4 1174.5,163.4 1173.5,159.1 1172.5,158.1 1171.5,154.2 1170.5,151.9 1169.5,151.8 1168.5,149.5 1167.5,146.3 1166.5,141.9 1165.5,139.5 1164.5,139 1163.5,134.8 1162.5,132.9 1161.5,126.4 1160.5,124.9 1159.5,120.1 1158.5,116.6 1157.5,111.2 1156.5,109.3 1155.5,103 1154.5,98.9 1153.5,96.6 1152.5,93.3 1151.5,88.5 1150.5,85.9 1149.5,82.1 1148.5,79.7 1147.5,76 1146.5,71.9 1145.5,68.7 1144.5,67.2 1143.5,63.5 1142.5,61.4 1141.5,58.9 1140.5,57.2 1139.5,72.7 1138.5,153.3 1137.5,233.9 1136.5,314.6 1135.5,395.2 1134.5,464.8 1133.5,464.8 1132.5,464.8 1131.5,464.8 1130.5,464.8 1129.5,464.8 1128.5,464.8 1127.5,464.8 1126.5,464.8 1125.5,464.8 1124.5,464.8 1123.5,464.8 1122.5,464.8 1121.5,464.8 1120.5,464.8 1119.5,464.8 1118.5,464.8 1117.5,464.8 1116.5,464.8 1115.5,464.8 1114.5,464.8 1113.5,464.8 1112.5,464.8" fill="#89a6c3" stroke="#89a6c3"/>
<polygon points="1112.5,464.8 1113.5,464.8 1114.5,464.8 1115.5,464.8 1116.5,464.8 1117.5,464.8 1118.5,464.8 1119.5,464.8 1120.5,464.8 1121.5,464.8 1122.5,464.8 1123.5,464.8 1124.5,464.8 1125.5,464.8 1126.5,464.8 1127.5,464.8 1128.5,464.8 1129.5,464.8 1130.5,464.8 1131.5,464.8 1132.5,464.8 1133.5,464.8 1134.5,395.2 1135.5,314.6 1136.5,233.9 1137.5,153.3 1138.5,72.7 1139.5,52.5 1140.5,55.9 1141.5,60.6 1142.5,64.9 1143.5,69.2 1144.5,72.8 1145.5,77.8 1146.5,83.9 1147.5,89.1 1148.5,94.6 1149.5,99.5 1150.5,103.5 1151.5,109.4 1152.5,115.5 1153.5,119.2 1154.5,124.2 1155.5,129.8 1156.5,132.3 1157.5,137.4 1158.5,139.5 1159.5,144.4 1160.5,147 1161.5,152.1 1162.5,153.9 1163.5,155.4 1164.5,159.9 1165.5,161.5 1166.5,165.1 1167.5,167.4 1168.5,170.1 1169.5,170.6 1170.5,174.6 1171.5,177.5 1172.5,178.3 1173.5,179.6 1174.5,181.1 1175.5,181.1 1176.5,183.3 1177.5,186.6 1178.5,190.1 1179.5,190.3 1180.5,192 1181.5,193.5 1182.5,194.3 1183.5,197.3 1184.5,198.7 1185.5,199.2 1186.5,201.6 1187.5,202.5 1188.5,208.5 1189.5,209.6 1190.5,210.5 1191.5,210.6 1192.5,214.1 1193.5,217 1194.5,220.9 1195.5,216.3 1196.5,220.6 1197.5,222.4 1198.5,223.7 1199.5,224.8 1200.5,226.3 1201.5,229.2 1202.5,227.6 1203.5,232.2 1204.5,232.7 1205.5,233.7 1206.5,237.3 1207.5,237 1208.5,237 1209.5,240.7 1210.5,240.8 1211.5,243.7 1212.5,244.1 1213.5,244.1 1214.5,245.4 1215.5,246.2 1216.5,248.1 1217.5,247.5 1218.5,251 1219.5,252.4 1220.5,252.4 1221.5,254 1222.5,257.3 1223.5,257.1 1224.5,258.3 1225.5,258.8 1226.5,259.5 1227.5,260.3 1228.5,260.5 1229.5,262.5 1230.5,259.8 1231.5,259.8 1232.5,266.5 1233.5,267.6 1234.5,267.3 1235.5,269.4 1236.5,270.2 1237.5,267.9 1238.5,270.2 1239.5,270.5 1240.5,271.3 1241.5,276.2 1242.5,272.5 1243.5,277.3 1244.5,278.7 1245.5,277.1 1246.5,280.9 1247.5,282.4 1248.5,279 1249.5,280.7 1250.5,280.7 1251.5,284.5 1252.5,284.4 1253.5,285.6 1254.5,284.6 1255.5,288.1 1256.5,290.4 1257.5,290.6 1258.5,286.5 1259.5,286.5 1260.5,292.9 1261.5,293.2 1262.5,296 1263.5,296.6 1264.5,296.5 1265.5,298.6 1266.5,298.6 1267.5,298.9 1268.5,296.9 1269.5,301.4 1270.5,304.7 1271.5,305.2 1272.5,304.2 1273.5,304.8 1274.5,304.9 1275.5,308.3 1276.5,311.6 1277.5,314.8 1278.5,308.7 1279.5,308.7 1280.5,318.3 1281.5,311 1282.5,315.2 1283.5,308.9 1284.5,310.2 1285.5,313.3 1286.5,317.8 1287.5,319.1 1288.5,315.9 1289.5,320.8 1290.5,319.1 1291.5,324.9 1292.5,324.1 1293.5,319.6 1294.5,318.8 1295.5,322.6 1296.5,325.6 1297.5,328.5 1298.5,326.6 1299.5,328 1300.5,328.7 1301.5,326.5 1302.5,334 1303.5,327.7 1304.5,332.3 1305.5,328.9 1306.5,329.3 1307.5,328.8 1308.5,328.8 1309.5,336.1 1310.5,337 1311.5,334.2 1312.5,338.7 1313.5,341 1314.5,342 1315.5,339.8 1316.5,338.3 1317.5,337.7 1318.5,340.6 1319.5,341.3 1320.5,337.7 1321.5,336.8 1322.5,340.5 1323.5,341.7 1324.5,346 1325.5,350.9 1326.5,343.5 1327.5,347.1 1328.5,348.4 1329.5,350 1330.5,352.4 1331.5,346.7 1332.5,348.6 1333.5,350.5 1334.5,351.7 1335.5,352.3 1336.5,350.4 1337.5,350.1 1338.5,352.1 1339.5,353.8 1340.5,350.5 1341.5,354.8 1342.5,352.1 1343.5,352.1 1344.5,350.7 1345.5,357.2 1346.5,353.4 1347.5,353.4 1348.5,360.9 1349.5,357.3 1350.5,351 1351.5,358.3 1352.5,361.2 1353.5,362.5 1354.5,368.5 1355.5,358.7 1356.5,358.4 1357.5,358.9 1358.5,362.2 1359.5,366.7 1360.5,359 1361.5,365.7 1362.5,366.6 1363.5,355.1 1364.5,355.1 1365.5,368.3 1366.5,369.5 1367.5,367.3 1368.5,374.4 1369.5,368.3 1370.5,370 1371.5,370 1372.5,373.8 1373.5,375.9 1374.5,373.6 1375.5,371.1 1376.5,376.9 1377.5,379.1 1378.5,373.2 1379.5,377.2 1380.5,374.6 1381.5,377.7 1382.5,378.9 1383.5,375.8 1384.5,378.2 1385.5,385 1386.5,379.2 1387.5,380.5 1388.5,380.1 1389.5,382.3 1390.5,382.3 1391.5,381.7 1392.5,388.4 1393.5,388.7 1394.5,379.4 1395.5,384 1396.5,385.9 1397.5,385.9 1398.5,392 1399.5,395.6 1400.5,387.5 1401.5,387.5 1402.5,387.8 1403.5,395.5 1404.5,385.8 1405.5,391.7 1406.5,389.6 1407.5,395 1408.5,393.3 1409.5,387.8 1410.5,395.5 1411.5,397.9 1412.5,397.9 1413.5,399.4 1414.5,403.7 1415.5,399.1 1416.5,393 1417.5,394.3 1418.5,398.9 1419.5,402.4 1420.5,399.2 1421.5,404.5 1422.5,402.4 1423.5,402.4 1424.5,401.7 1425.5,408 1426.5,406.8 1427.5,394.9 1428.5,395.2 1429.5,408.5 1430.5,401.4 1431.5,406.9 1432.5,410.1 1433.5,405.8 1434.5,405.2 1435.5,407.9 1436.5,411.5 1437.5,403.2 1438.5,411 1439.5,410.4 1440.5,409.6 1441.5,415.6 1442.5,404.8 1443.5,410.8 1444.5,415.1 1445.5,413.5 1446.5,410.4 1447.5,402.9 1448.5,402.9 1449.5,411.6 1450.5,418.3 1451.5,419 1452.5,420.4 1453.5,417.5 1454.5,426.1 1455.5,423.9 1456.5,420.9 1457.5,420 1458.5,420 1459.5,425.2 1460.5,428.1 1461.5,418.9 1462.5,418 1463.5,421.5 1464.5,410.4 1465.5,424.7 1466.5,419.5 1467.5,427.7 1468.5,431.2 1469.5,429.8 1470.5,425.1 1471.5,419.1 1472.5,430.6 1473.5,428 1474.5,426.4 1475.5,428 1476.5,420.4 1477.5,428.5 1478.5,427.3 1479.5,423.3 1480.5,423.3 1481.5,433.9 1482.5,426.4 1483.5,431.9 1484.5,426.5 1485.5,433.8 1486.5,422.9 1487.5,423.6 1488.5,424.9 1489.5,429.6 1490.5,420.8 1491.5,435 1492.5,428.8 1493.5,428.5 1494.5,431.7 1495.5,425.1 1496.5,439.1 1496.5,443 1495.5,449.8 1494.5,464.8 1493.5,447.9 1492.5,450 1491.5,447.3 1490.5,440.7 1489.5,443.9 1488.5,450.4 1487.5,451.4 1486.5,460.8 1485.5,463.5 1484.5,451.9 1483.5,451.5 1482.5,451.3 1481.5,451.3 1480.5,456.8 1479.5,441.2 1478.5,461.5 1477.5,459.4 1476.5,451.8 1475.5,454.5 1474.5,445.2 1473.5,445 1472.5,436.8 1471.5,437.5 1470.5,441.8 1469.5,451.8 1468.5,451.8 1467.5,448 1466.5,464.3 1465.5,433.5 1464.5,435.2 1463.5,443.8 1462.5,443.8 1461.5,441.3 1460.5,437.8 1459.5,438.2 1458.5,445 1457.5,441.1 1456.5,454.3 1455.5,439.7 1454.5,435.5 1453.5,441.1 1452.5,441.1 1451.5,430.8 1450.5,435 1449.5,437.9 1448.5,435.2 1447.5,424.6 1446.5,431.6 1445.5,430.9 1444.5,433.7 1443.5,432.1 1442.5,422.3 1441.5,437.3 1440.5,429.1 1439.5,426.5 1438.5,437.2 1437.5,437.2 1436.5,427.2 1435.5,427.2 1434.5,425.9 1433.5,436.4 1432.5,421.7 1431.5,436.2 1430.5,420.6 1429.5,418.7 1428.5,417.1 1427.5,427.4 1426.5,427.4 1425.5,433.9 1424.5,433.9 1423.5,426.4 1422.5,417.7 1421.5,417.7 1420.5,425.6 1419.5,411.9 1418.5,405.8 1417.5,411.4 1416.5,408.6 1415.5,413.2 1414.5,420.5 1413.5,410.1 1412.5,415.1 1411.5,407 1410.5,414.3 1409.5,414.3 1408.5,409.9 1407.5,409.9 1406.5,412.8 1405.5,412.8 1404.5,413.7 1403.5,410.5 1402.5,397.9 1401.5,418.3 1400.5,405.8 1399.5,409.5 1398.5,409.5 1397.5,405.8 1396.5,403.8 1395.5,403.8 1394.5,402.4 1393.5,402.4 1392.5,409.6 1391.5,403.6 1390.5,389.4 1389.5,395.2 1388.5,394.6 1387.5,387.3 1386.5,394.6 1385.5,404.7 1384.5,398 1383.5,397.2 1382.5,397.2 1381.5,391.4 1380.5,393.6 1379.5,394.6 1378.5,395 1377.5,395 1376.5,382.6 1375.5,379.5 1374.5,385.8 1373.5,396.3 1372.5,386.1 1371.5,386.1 1370.5,386.4 1369.5,380 1368.5,383.8 1367.5,392.9 1366.5,392.9 1365.5,397 1364.5,379.3 1363.5,388.1 1362.5,382.9 1361.5,376.2 1360.5,377.4 1359.5,374.8 1358.5,375.3 1357.5,375.3 1356.5,373.4 1355.5,376.6 1354.5,376.6 1353.5,373.3 1352.5,373.3 1351.5,370.6 1350.5,376.4 1349.5,364.9 1348.5,371.4 1347.5,371.4 1346.5,384.9 1345.5,372.8 1344.5,366.7 1343.5,368.7 1342.5,367.8 1341.5,370.2 1340.5,367 1339.5,359.8 1338.5,370.1 1337.5,370.1 1336.5,362.4 1335.5,360.8 1334.5,365 1333.5,364.2 1332.5,369 1331.5,362.8 1330.5,358.9 1329.5,362 1328.5,360 1327.5,357.9 1326.5,354.1 1325.5,362 1324.5,362 1323.5,358.6 1322.5,358.6 1321.5,357.3 1320.5,346 1319.5,353.2 1318.5,352 1317.5,349.2 1316.5,348.4 1315.5,345.8 1314.5,360.8 1313.5,353.1 1312.5,344.5 1311.5,349.8 1310.5,349.8 1309.5,348.7 1308.5,344.2 1307.5,344.2 1306.5,340.8 1305.5,345.9 1304.5,340.4 1303.5,337.4 1302.5,342.3 1301.5,339.2 1300.5,338.3 1299.5,334 1298.5,334 1297.5,337 1296.5,337 1295.5,335.4 1294.5,342.8 1293.5,342.8 1292.5,334.7 1291.5,334.5 1290.5,334.5 1289.5,335 1288.5,329.3 1287.5,328.9 1286.5,328.9 1285.5,328 1284.5,321.7 1283.5,319.4 1282.5,322.1 1281.5,322 1280.5,326.7 1279.5,318.6 1278.5,317.7 1277.5,319.9 1276.5,319.9 1275.5,317.5 1274.5,314.6 1273.5,312.9 1272.5,312.5 1271.5,312.5 1270.5,317.7 1269.5,310.1 1268.5,304 1267.5,311.9 1266.5,309.2 1265.5,305.9 1264.5,304.7 1263.5,303.8 1262.5,299.4 1261.5,302.3 1260.5,300.5 1259.5,304.4 1258.5,296.4 1257.5,296.4 1256.5,296.1 1255.5,304.3 1254.5,299.4 1253.5,293.3 1252.5,294.8 1251.5,290.8 1250.5,288.3 1249.5,291 1248.5,288.2 1247.5,288.2 1246.5,285.9 1245.5,284.1 1244.5,282.6 1243.5,283.6 1242.5,280 1241.5,278.9 1240.5,277.8 1239.5,275.4 1238.5,278.7 1237.5,271.8 1236.5,272.9 1235.5,275.5 1234.5,275.4 1233.5,274 1232.5,274 1231.5,275 1230.5,268.1 1229.5,268.1 1228.5,265.1 1227.5,264.8 1226.5,264.8 1225.5,263.4 1224.5,264.7 1223.5,264.7 1222.5,261.1 1221.5,261.1 1220.5,256.1 1219.5,256.4 1218.5,258.7 1217.5,258.7 1216.5,254 1215.5,248.7 1214.5,251.5 1213.5,251.9 1212.5,249.6 1211.5,250 1210.5,250 1209.5,243.8 1208.5,243.4 1207.5,242.4 1206.5,242.3 1205.5,241.3 1204.5,242.8 1203.5,235.2 1202.5,235.6 1201.5,233.3 1200.5,230.4 1199.5,231 1198.5,228.8 1197.5,232.6 1196.5,225.8 1195.5,222.8 1194.5,222.8 1193.5,221.7 1192.5,218.1 1191.5,217.5 1190.5,213.5 1189.5,214.6 1188.5,212.4 1187.5,212.3 1186.5,207 1185.5,206.7 1184.5,203.2 1183.5,203.2 1182.5,198.4 1181.5,195.8 1180.5,193.6 1179.5,192 1178.5,192.3 1177.5,191 1176.5,188.1 1175.5,186.5 1174.5,184.9 1173.5,182.6 1172.5,182 1171.5,180.6 1170.5,179.3 1169.5,176.2 1168.5,173.6 1167.5,170.5 1166.5,167.4 1165.5,166.1 1164.5,164 1163.5,159.9 1162.5,155.9 1161.5,155.2 1160.5,152.1 1159.5,148.1 1158.5,144.4 1157.5,139.9 1156.5,137.5 1155.5,132.3 1154.5,129.8 1153.5,124.2 1152.5,119.2 1151.5,115.5 1150.5,109.4 1149.5,103.5 1148.5,99.5 1147.5,94.7 1146.5,89.1 1145.5,83.9 1144.5,77.8 1143.5,72.8 1142.5,69.2 1141.5,64.9 1140.5,60.6 1139.5,72.7 1138.5,153.3 1137.5,233.9 1136.5,314.6 1135.5,395.2 1134.5,464.8 1133.5,464.8 1132.5,464.8 1131.5,464.8 1130.5,464.8 1129.5,464.8 1128.5,464.8 1127.5,464.8 1126.5,464.8 1125.5,464.8 1124.5,464.8 1123.5,464.8 1122.5,464.8 1121.5,464.8 1120.5,464.8 1119.5,464.8 1118.5,464.8 1117.5,464.8 1116.5,464.8 1115.5,464.8 1114.5,464.8 1113.5,464.8 1112.5,464.8" fill="#2b4a69" stroke="#2b4a69"/>
</g>
<path d="M1115.5 52.5h7.5M1115.5 203.7h7.5M1115.5 158.2h4M1115.5 131.6h4M1115.5 112.7h4M1115.5 98h4M1115.5 86h4M1115.5 75.9h4M1115.5 67.2h4M1115.5 59.4h4M1115.5 354.9h7.5M1115.5 309.4h4M1115.5 282.8h4M1115.5 263.9h4M1115.5 249.2h4M1115.5 237.2h4M1115.5 227.1h4M1115.5 218.4h4M1115.5 210.6h4M1115.5 434h4M1115.5 415.1h4M1115.5 400.4h4M1115.5 388.4h4M1115.5 378.3h4M1115.5 369.6h4M1115.5 361.8h4M1139.2 458.3v-7.5M1189.9 458.3v-4M1240.6 458.3v-7.5M1291.2 458.3v-4M1341.9 458.3v-7.5M1392.6 458.3v-4M1443.3 458.3v-7.5" stroke="#000" stroke-width="2.6" fill="none"/>
<text x="1103.7" y="60.8" font-size="21" text-anchor="end">10<tspan dy="-9" font-size="13.5">0</tspan></text>
<text x="1103.7" y="212" font-size="21" text-anchor="end">10<tspan dy="-9" font-size="13.5">-1</tspan></text>
<text x="1103.7" y="363.2" font-size="21" text-anchor="end">10<tspan dy="-9" font-size="13.5">-2</tspan></text>
<text x="1139.2" y="485.7" font-size="21" text-anchor="middle">0</text>
<text x="1240.6" y="485.7" font-size="21" text-anchor="middle">20</text>
<text x="1341.9" y="485.7" font-size="21" text-anchor="middle">40</text>
<text x="1443.3" y="485.7" font-size="21" text-anchor="middle">60</text>
<text x="1025" y="27" font-size="38.5">(c)</text>
<text x="1228.4" y="525.7" font-size="36.2">Time (ns)</text>
<text transform="translate(1051.5,392.2) rotate(-90)" font-size="34.8">PL intensity (norm.)</text>
<text x="1162.4" y="70" font-size="37" font-weight="bold">Typical</text>
<text x="1162.4" y="112.5" font-size="36.5" font-weight="bold">TRPL</text>
<text x="1289.4" y="126.8" font-size="28.7">Pulse intensity</text>
<path d="M1305.2 156.4H1354.2" stroke="#e8e4dc" stroke-width="3"/>
<path d="M1305.2 186.5H1354.2" stroke="#89a6c3" stroke-width="3"/>
<path d="M1305.2 216.6H1354.2" stroke="#2b4a69" stroke-width="3"/>
<text x="1362.1" y="164.2" font-size="22">1.7 nJ/cm<tspan dy="-9" font-size="13.5">2</tspan></text>
<text x="1362.1" y="194.4" font-size="22">17 nJ/cm<tspan dy="-9" font-size="13.5">2</tspan></text>
<text x="1362.1" y="223.7" font-size="22">0.85 μJ/cm<tspan dy="-9" font-size="13.5">2</tspan></text>
<rect x="1601.8" y="25" width="377.7" height="432" fill="none" stroke="#000" stroke-width="3"/>
<g clip-path="url(#cd)" stroke-width="2.6" stroke-linejoin="round">
<polygon points="1600.5,462 1601.5,462 1602.5,462 1603.5,462 1604.5,462 1605.5,462 1606.5,462 1607.5,462 1608.5,462 1609.5,462 1610.5,462 1611.5,462 1612.5,462 1613.5,462 1614.5,462 1615.5,462 1616.5,462 1617.5,462 1618.5,462 1619.5,462 1620.5,462 1621.5,462 1622.5,462 1623.5,462 1624.5,397.4 1625.5,247.1 1626.5,96.8 1627.5,52.6 1628.5,56 1629.5,65.7 1630.5,73.2 1631.5,80.7 1632.5,88.7 1633.5,97.5 1634.5,102.1 1635.5,107.1 1636.5,109.7 1637.5,114.6 1638.5,115 1639.5,120.7 1640.5,121.7 1641.5,123.6 1642.5,128.3 1643.5,128.7 1644.5,128.7 1645.5,130 1646.5,136.5 1647.5,136.3 1648.5,136.8 1649.5,139 1650.5,140 1651.5,140 1652.5,141.9 1653.5,145.4 1654.5,141.7 1655.5,147.9 1656.5,147 1657.5,147.9 1658.5,150.2 1659.5,148.1 1660.5,151.7 1661.5,153.8 1662.5,156.2 1663.5,155.7 1664.5,157.8 1665.5,156.2 1666.5,159.6 1667.5,158.3 1668.5,160.3 1669.5,159.9 1670.5,159.9 1671.5,162.2 1672.5,164 1673.5,164.9 1674.5,161.1 1675.5,165.6 1676.5,166.8 1677.5,169.2 1678.5,169.7 1679.5,166.1 1680.5,170.8 1681.5,167.9 1682.5,169.1 1683.5,168.8 1684.5,170 1685.5,170 1686.5,173.7 1687.5,170.1 1688.5,174.8 1689.5,176.1 1690.5,176.7 1691.5,177.8 1692.5,176.1 1693.5,173.4 1694.5,173.4 1695.5,176.1 1696.5,175.3 1697.5,177.1 1698.5,177.8 1699.5,180.3 1700.5,179.7 1701.5,180 1702.5,180 1703.5,180.9 1704.5,177.7 1705.5,182.6 1706.5,181.5 1707.5,183.9 1708.5,184.1 1709.5,184.1 1710.5,183.4 1711.5,185.4 1712.5,184.4 1713.5,183.7 1714.5,184.2 1715.5,187.3 1716.5,185 1717.5,187.1 1718.5,184.5 1719.5,187.2 1720.5,191.9 1721.5,184.5 1722.5,189.8 1723.5,192.3 1724.5,193 1725.5,189.3 1726.5,187.2 1727.5,190.7 1728.5,190.5 1729.5,194.2 1730.5,196.2 1731.5,193.8 1732.5,192.4 1733.5,192.4 1734.5,192.4 1735.5,200.3 1736.5,197.9 1737.5,193.5 1738.5,195.9 1739.5,197.3 1740.5,192.1 1741.5,201.1 1742.5,196.4 1743.5,196.6 1744.5,197.1 1745.5,198.8 1746.5,202 1747.5,200.6 1748.5,199 1749.5,199.6 1750.5,198.7 1751.5,202.3 1752.5,202.3 1753.5,202.1 1754.5,202.1 1755.5,202 1756.5,201.6 1757.5,202 1758.5,201.6 1759.5,206 1760.5,203.6 1761.5,205.2 1762.5,205.3 1763.5,207.2 1764.5,202.8 1765.5,207.8 1766.5,203.5 1767.5,205.2 1768.5,209.1 1769.5,205.6 1770.5,202.8 1771.5,208.7 1772.5,208.7 1773.5,210.3 1774.5,212.4 1775.5,209.3 1776.5,212 1777.5,209.8 1778.5,211.8 1779.5,215.8 1780.5,214.5 1781.5,210.7 1782.5,208.5 1783.5,212.3 1784.5,210.8 1785.5,214.4 1786.5,214.8 1787.5,215.8 1788.5,211.6 1789.5,214.1 1790.5,213.4 1791.5,218.7 1792.5,215.7 1793.5,213.4 1794.5,215.1 1795.5,213 1796.5,220.6 1797.5,216 1798.5,214.7 1799.5,218.5 1800.5,221 1801.5,220.5 1802.5,221.3 1803.5,216.7 1804.5,216.7 1805.5,223.1 1806.5,224.8 1807.5,216.4 1808.5,226.4 1809.5,225.1 1810.5,221.6 1811.5,218.6 1812.5,218.6 1813.5,224.7 1814.5,224.4 1815.5,224.4 1816.5,225.8 1817.5,223.9 1818.5,226.4 1819.5,225.2 1820.5,229.7 1821.5,224.9 1822.5,224.5 1823.5,224.5 1824.5,230.2 1825.5,226.1 1826.5,229 1827.5,229 1828.5,229.5 1829.5,222 1830.5,232 1831.5,233.6 1832.5,234.3 1833.5,234.5 1834.5,234.1 1835.5,232.8 1836.5,234.7 1837.5,230 1838.5,233.9 1839.5,234.6 1840.5,237.3 1841.5,238.3 1842.5,237.6 1843.5,230.9 1844.5,239.5 1845.5,237.8 1846.5,238.6 1847.5,238.6 1848.5,241 1849.5,237.9 1850.5,238.4 1851.5,239.5 1852.5,233.7 1853.5,237.9 1854.5,237.9 1855.5,238.6 1856.5,239.8 1857.5,239.1 1858.5,240.2 1859.5,243.7 1860.5,243.7 1861.5,247.7 1862.5,247.3 1863.5,245 1864.5,242.4 1865.5,242.4 1866.5,249.1 1867.5,248.8 1868.5,252.4 1869.5,249.5 1870.5,250.5 1871.5,252.9 1872.5,251 1873.5,247 1874.5,247 1875.5,255.5 1876.5,254.8 1877.5,250.7 1878.5,247.9 1879.5,256 1880.5,247.4 1881.5,251.2 1882.5,252.2 1883.5,251.5 1884.5,252.5 1885.5,252.7 1886.5,256.9 1887.5,252 1888.5,259.5 1889.5,251.7 1890.5,255.6 1891.5,253.5 1892.5,257.2 1893.5,258.9 1894.5,262.2 1895.5,257.1 1896.5,260.3 1897.5,257 1898.5,254.3 1899.5,256.2 1900.5,257.6 1901.5,254 1902.5,262 1903.5,259.7 1904.5,259.3 1905.5,258.9 1906.5,258.8 1907.5,263.9 1908.5,268.7 1909.5,268.1 1910.5,264.1 1911.5,266.1 1912.5,265.5 1913.5,263.1 1914.5,265.5 1915.5,266.4 1916.5,265.2 1917.5,263.3 1918.5,261.2 1919.5,261.2 1920.5,263.9 1921.5,266.4 1922.5,267 1923.5,269.5 1924.5,268.6 1925.5,274.4 1926.5,271.4 1927.5,265.6 1928.5,265.6 1929.5,274.5 1930.5,268.8 1931.5,267.9 1932.5,277 1933.5,274.5 1934.5,275.4 1935.5,271.1 1936.5,267.7 1937.5,281.1 1938.5,275.4 1939.5,276 1940.5,273.1 1941.5,273.1 1942.5,272.4 1943.5,273.7 1944.5,273.9 1945.5,271.9 1946.5,277.3 1947.5,282.6 1948.5,279.4 1949.5,276.8 1950.5,278 1951.5,278 1952.5,280.1 1953.5,276.7 1954.5,282.8 1955.5,283 1956.5,283.9 1957.5,283 1958.5,281.4 1959.5,287.1 1960.5,285.5 1961.5,282 1962.5,283.4 1963.5,282.7 1964.5,286.8 1965.5,288.5 1966.5,288.6 1967.5,282.4 1968.5,276.3 1969.5,287.9 1970.5,294.8 1971.5,299.2 1972.5,291.3 1973.5,284.9 1974.5,284.9 1975.5,288.6 1976.5,287.4 1977.5,288.9 1978.5,293.2 1979.5,292.6 1980.5,292.6 1981.5,285.3 1981.5,305.3 1980.5,330.5 1979.5,307.9 1978.5,332.1 1977.5,308.5 1976.5,317.1 1975.5,304.7 1974.5,319 1973.5,306.9 1972.5,312 1971.5,338.1 1970.5,308.1 1969.5,299.9 1968.5,299.9 1967.5,330.6 1966.5,299.3 1965.5,299.5 1964.5,323.6 1963.5,316.5 1962.5,302.1 1961.5,315.9 1960.5,299.7 1959.5,308.4 1958.5,309.9 1957.5,295.9 1956.5,299.6 1955.5,296.4 1954.5,310.5 1953.5,305.1 1952.5,294.4 1951.5,309.6 1950.5,296.4 1949.5,320.3 1948.5,313.1 1947.5,290.2 1946.5,306.3 1945.5,306.3 1944.5,301.8 1943.5,301.8 1942.5,290.4 1941.5,297 1940.5,291.7 1939.5,291.7 1938.5,305.3 1937.5,307.1 1936.5,292.5 1935.5,296.8 1934.5,301.8 1933.5,288.8 1932.5,293.3 1931.5,293.3 1930.5,300 1929.5,288.8 1928.5,290.3 1927.5,286.8 1926.5,293.3 1925.5,293.3 1924.5,281.6 1923.5,304 1922.5,304 1921.5,282 1920.5,303.4 1919.5,286.3 1918.5,289.5 1917.5,300.1 1916.5,288.5 1915.5,282 1914.5,277.7 1913.5,272.3 1912.5,286.9 1911.5,286.9 1910.5,275.3 1909.5,294.5 1908.5,294.5 1907.5,281.2 1906.5,288.6 1905.5,281.6 1904.5,293.6 1903.5,285 1902.5,280.3 1901.5,274.8 1900.5,277.4 1899.5,277.4 1898.5,269.2 1897.5,267.1 1896.5,286.9 1895.5,279.4 1894.5,270.7 1893.5,269 1892.5,278.9 1891.5,281.7 1890.5,281.7 1889.5,265.2 1888.5,279.8 1887.5,270.2 1886.5,267.1 1885.5,272.1 1884.5,266.5 1883.5,270.9 1882.5,281.4 1881.5,260 1880.5,262.9 1879.5,277.7 1878.5,269.1 1877.5,267.4 1876.5,269.4 1875.5,289.1 1874.5,263.8 1873.5,264.3 1872.5,267 1871.5,281.7 1870.5,263.9 1869.5,264.5 1868.5,264.5 1867.5,256.6 1866.5,257.8 1865.5,256.6 1864.5,273.5 1863.5,264.1 1862.5,262.3 1861.5,262.3 1860.5,269.5 1859.5,262.4 1858.5,254.5 1857.5,265.5 1856.5,271.9 1855.5,258.9 1854.5,255.3 1853.5,261.1 1852.5,260.2 1851.5,251.7 1850.5,258.1 1849.5,252.2 1848.5,252.2 1847.5,255.1 1846.5,258.6 1845.5,249.8 1844.5,256.4 1843.5,266.8 1842.5,266.8 1841.5,257.9 1840.5,250.9 1839.5,263.9 1838.5,245.7 1837.5,252.4 1836.5,246.8 1835.5,246.4 1834.5,249.4 1833.5,256.9 1832.5,243.6 1831.5,260.2 1830.5,250.1 1829.5,245.8 1828.5,255.9 1827.5,234.1 1826.5,241.7 1825.5,240.9 1824.5,244 1823.5,244 1822.5,281.6 1821.5,250.4 1820.5,253.8 1819.5,246.7 1818.5,239.9 1817.5,236.8 1816.5,251.4 1815.5,237.3 1814.5,242.6 1813.5,237.9 1812.5,240.7 1811.5,241.8 1810.5,237.8 1809.5,241.1 1808.5,250.7 1807.5,242.1 1806.5,251.1 1805.5,228.8 1804.5,232.8 1803.5,225.4 1802.5,237 1801.5,244.2 1800.5,244.2 1799.5,244.2 1798.5,234.9 1797.5,230.2 1796.5,233.1 1795.5,240.1 1794.5,243.6 1793.5,227.7 1792.5,227.7 1791.5,231.7 1790.5,234.3 1789.5,227.6 1788.5,235 1787.5,229.2 1786.5,228 1785.5,227 1784.5,224 1783.5,229.8 1782.5,229.8 1781.5,225.7 1780.5,234.2 1779.5,229.4 1778.5,219.5 1777.5,223.4 1776.5,230.9 1775.5,230.9 1774.5,217.8 1773.5,226.4 1772.5,219.9 1771.5,216.7 1770.5,219.6 1769.5,231.3 1768.5,220.4 1767.5,214 1766.5,214.2 1765.5,226 1764.5,217.1 1763.5,215.5 1762.5,224.7 1761.5,216.3 1760.5,220.9 1759.5,220.9 1758.5,219.2 1757.5,217 1756.5,216.7 1755.5,217.8 1754.5,228.3 1753.5,213.2 1752.5,208.4 1751.5,232.1 1750.5,218.3 1749.5,215.8 1748.5,215.8 1747.5,212.4 1746.5,209.9 1745.5,215.9 1744.5,212.5 1743.5,209.1 1742.5,208.1 1741.5,224.6 1740.5,207.8 1739.5,207.3 1738.5,203.5 1737.5,207.5 1736.5,213.6 1735.5,213.8 1734.5,204.5 1733.5,204.9 1732.5,208.7 1731.5,204.1 1730.5,206.5 1729.5,205.3 1728.5,200.9 1727.5,213.1 1726.5,202.9 1725.5,212.5 1724.5,212.5 1723.5,199 1722.5,203.4 1721.5,200.7 1720.5,198.8 1719.5,199.5 1718.5,194.5 1717.5,206.4 1716.5,202.4 1715.5,194.4 1714.5,200.4 1713.5,205.3 1712.5,198.3 1711.5,192.8 1710.5,207.3 1709.5,196.2 1708.5,192.5 1707.5,193.4 1706.5,189.3 1705.5,189.1 1704.5,186.6 1703.5,190.5 1702.5,185 1701.5,190.6 1700.5,188.6 1699.5,189.7 1698.5,189.7 1697.5,194.7 1696.5,185.2 1695.5,183.4 1694.5,182.8 1693.5,187.4 1692.5,187.1 1691.5,192.9 1690.5,192.9 1689.5,182.7 1688.5,185 1687.5,185.1 1686.5,180.5 1685.5,182.2 1684.5,182.5 1683.5,182.5 1682.5,178.6 1681.5,186.8 1680.5,176.3 1679.5,185.7 1678.5,185.7 1677.5,177.6 1676.5,182.1 1675.5,186.7 1674.5,174.7 1673.5,171 1672.5,176 1671.5,171.5 1670.5,164.9 1669.5,170.2 1668.5,170.2 1667.5,167.2 1666.5,166.6 1665.5,163.8 1664.5,166.1 1663.5,166.6 1662.5,162.6 1661.5,161.4 1660.5,167.1 1659.5,155.7 1658.5,158.5 1657.5,155.4 1656.5,155.7 1655.5,154.7 1654.5,154.1 1653.5,152 1652.5,148.4 1651.5,148 1650.5,143.9 1649.5,142.1 1648.5,148.7 1647.5,143.9 1646.5,139.2 1645.5,140.7 1644.5,133.3 1643.5,135.1 1642.5,136.9 1641.5,136.9 1640.5,129.2 1639.5,126.3 1638.5,125.5 1637.5,128.4 1636.5,117.9 1635.5,111.1 1634.5,111.7 1633.5,102.1 1632.5,97.6 1631.5,88.7 1630.5,80.7 1629.5,73.2 1628.5,65.8 1627.5,96.8 1626.5,247.1 1625.5,397.4 1624.5,462 1623.5,462 1622.5,462 1621.5,462 1620.5,462 1619.5,462 1618.5,462 1617.5,462 1616.5,462 1615.5,462 1614.5,462 1613.5,462 1612.5,462 1611.5,462 1610.5,462 1609.5,462 1608.5,462 1607.5,462 1606.5,462 1605.5,462 1604.5,462 1603.5,462 1602.5,462 1601.5,462 1600.5,462" fill="#0818c4" stroke="#0818c4"/>
<polygon points="1600.5,462 1601.5,462 1602.5,462 1603.5,462 1604.5,462 1605.5,462 1606.5,462 1607.5,462 1608.5,462 1609.5,462 1610.5,462 1611.5,462 1612.5,462 1613.5,462 1614.5,462 1615.5,462 1616.5,462 1617.5,462 1618.5,462 1619.5,462 1620.5,462 1621.5,462 1622.5,462 1623.5,462 1624.5,397.4 1625.5,247.1 1626.5,96.8 1627.5,52.5 1628.5,55.7 1629.5,63.7 1630.5,71 1631.5,78.1 1632.5,86 1633.5,90.5 1634.5,96 1635.5,99.2 1636.5,104.2 1637.5,104.2 1638.5,104.8 1639.5,109.9 1640.5,110.4 1641.5,114.9 1642.5,115.7 1643.5,115.7 1644.5,116.8 1645.5,116.8 1646.5,121.3 1647.5,123.4 1648.5,125.7 1649.5,126.1 1650.5,129.5 1651.5,132 1652.5,131.9 1653.5,133.4 1654.5,134.5 1655.5,135.3 1656.5,140 1657.5,138.5 1658.5,141.5 1659.5,142 1660.5,143.3 1661.5,143.5 1662.5,143.1 1663.5,149 1664.5,145.4 1665.5,145.4 1666.5,149.8 1667.5,150.6 1668.5,148.7 1669.5,150.7 1670.5,155.6 1671.5,155 1672.5,155.9 1673.5,155.7 1674.5,156.5 1675.5,155 1676.5,157 1677.5,157.7 1678.5,156.4 1679.5,157.6 1680.5,157.6 1681.5,158.2 1682.5,160.5 1683.5,161.4 1684.5,160.7 1685.5,161.6 1686.5,162.5 1687.5,162.9 1688.5,163.9 1689.5,162.1 1690.5,164.2 1691.5,166.3 1692.5,164.2 1693.5,164.8 1694.5,165.3 1695.5,166.5 1696.5,168.4 1697.5,170.2 1698.5,168.2 1699.5,166.7 1700.5,170.1 1701.5,172.2 1702.5,172.1 1703.5,169.6 1704.5,168.5 1705.5,174 1706.5,173.8 1707.5,171 1708.5,171.2 1709.5,173.4 1710.5,172.9 1711.5,171.2 1712.5,171.3 1713.5,174.8 1714.5,173 1715.5,177.5 1716.5,172.8 1717.5,175.9 1718.5,175.7 1719.5,175.1 1720.5,175.1 1721.5,172.8 1722.5,179.4 1723.5,174.7 1724.5,172.3 1725.5,177.5 1726.5,174.1 1727.5,174.5 1728.5,174.5 1729.5,171.9 1730.5,175.3 1731.5,176.6 1732.5,176.6 1733.5,177.2 1734.5,177.9 1735.5,183.3 1736.5,178.7 1737.5,180 1738.5,183.2 1739.5,182.1 1740.5,182.1 1741.5,179.7 1742.5,181.6 1743.5,184.6 1744.5,182.4 1745.5,181.2 1746.5,182.5 1747.5,182.2 1748.5,182.2 1749.5,181.3 1750.5,187.5 1751.5,186.4 1752.5,183 1753.5,186.1 1754.5,186.2 1755.5,185.9 1756.5,188.6 1757.5,189.2 1758.5,185.5 1759.5,186.9 1760.5,188.5 1761.5,189.8 1762.5,182.7 1763.5,188.5 1764.5,185.5 1765.5,190.5 1766.5,188.7 1767.5,191 1768.5,191.6 1769.5,193.9 1770.5,189.1 1771.5,193.9 1772.5,193.9 1773.5,188.7 1774.5,195.4 1775.5,187.6 1776.5,196.9 1777.5,194.4 1778.5,194.8 1779.5,194.9 1780.5,193.4 1781.5,193.4 1782.5,194.2 1783.5,196.4 1784.5,196.5 1785.5,195.1 1786.5,194.8 1787.5,196.7 1788.5,196.7 1789.5,197.9 1790.5,195.1 1791.5,200 1792.5,198.5 1793.5,199 1794.5,199.3 1795.5,200.7 1796.5,199.7 1797.5,202.6 1798.5,202 1799.5,201.8 1800.5,204 1801.5,204.6 1802.5,200.5 1803.5,202.5 1804.5,202.1 1805.5,202.1 1806.5,204.1 1807.5,203.7 1808.5,204.7 1809.5,205.3 1810.5,206.6 1811.5,204.7 1812.5,207.5 1813.5,208.1 1814.5,207.5 1815.5,203 1816.5,203.1 1817.5,209.5 1818.5,208.3 1819.5,206.9 1820.5,210.5 1821.5,207.9 1822.5,215 1823.5,212.4 1824.5,211.1 1825.5,207.9 1826.5,207.9 1827.5,212.5 1828.5,209.6 1829.5,213.6 1830.5,211.4 1831.5,214.6 1832.5,210.8 1833.5,212.5 1834.5,219.8 1835.5,213.7 1836.5,218.8 1837.5,212.8 1838.5,212.8 1839.5,213.3 1840.5,214.9 1841.5,216.9 1842.5,217.3 1843.5,217.9 1844.5,217.5 1845.5,215.5 1846.5,219.6 1847.5,224.3 1848.5,222.1 1849.5,220.8 1850.5,219.5 1851.5,221.2 1852.5,225.3 1853.5,222.5 1854.5,222.5 1855.5,221.1 1856.5,224.8 1857.5,225.1 1858.5,226.7 1859.5,227.5 1860.5,219.5 1861.5,224.9 1862.5,224.6 1863.5,223 1864.5,226 1865.5,225.4 1866.5,225.4 1867.5,224.5 1868.5,226 1869.5,228.6 1870.5,228.2 1871.5,228.7 1872.5,228.3 1873.5,228.3 1874.5,224.2 1875.5,227.8 1876.5,234.1 1877.5,230.2 1878.5,228.7 1879.5,242.7 1880.5,235.7 1881.5,237 1882.5,229.7 1883.5,233.8 1884.5,234 1885.5,239.9 1886.5,235.2 1887.5,235 1888.5,232.4 1889.5,239.6 1890.5,232.8 1891.5,238.4 1892.5,235.5 1893.5,239.8 1894.5,241.1 1895.5,237.7 1896.5,239.6 1897.5,236.7 1898.5,240.3 1899.5,241.5 1900.5,240.4 1901.5,240.2 1902.5,240.2 1903.5,242.2 1904.5,242.4 1905.5,238.6 1906.5,244.1 1907.5,236.8 1908.5,236.8 1909.5,238.7 1910.5,242.3 1911.5,242.1 1912.5,246.2 1913.5,246.1 1914.5,248.1 1915.5,249.4 1916.5,251 1917.5,249.9 1918.5,243.6 1919.5,248.6 1920.5,251.5 1921.5,251.6 1922.5,251.6 1923.5,255.1 1924.5,248.9 1925.5,248.9 1926.5,248.7 1927.5,249.9 1928.5,255.7 1929.5,253.6 1930.5,253.4 1931.5,247.2 1932.5,245.3 1933.5,256.8 1934.5,250.7 1935.5,252 1936.5,255.7 1937.5,253.9 1938.5,258.5 1939.5,256.5 1940.5,256.4 1941.5,253.2 1942.5,253.2 1943.5,257.4 1944.5,251.7 1945.5,259.2 1946.5,261.4 1947.5,259.4 1948.5,260.2 1949.5,262.4 1950.5,255.9 1951.5,262.1 1952.5,255.9 1953.5,263.9 1954.5,258.6 1955.5,258.6 1956.5,258.7 1957.5,258.7 1958.5,263.3 1959.5,260.5 1960.5,266.3 1961.5,262 1962.5,264 1963.5,266.4 1964.5,270.6 1965.5,265.6 1966.5,264.4 1967.5,264.7 1968.5,269.2 1969.5,267.1 1970.5,264.1 1971.5,267.9 1972.5,264.1 1973.5,272.6 1974.5,268.9 1975.5,268.2 1976.5,275.4 1977.5,263.1 1978.5,275.1 1979.5,269.6 1980.5,275.9 1981.5,279.4 1981.5,291.1 1980.5,291.3 1979.5,279.6 1978.5,283.8 1977.5,277.1 1976.5,277.2 1975.5,312 1974.5,304.4 1973.5,285.8 1972.5,299.3 1971.5,299.3 1970.5,281.5 1969.5,293.9 1968.5,293.9 1967.5,275.1 1966.5,276.6 1965.5,295.9 1964.5,289.6 1963.5,288.7 1962.5,288.7 1961.5,279.8 1960.5,296.2 1959.5,274.2 1958.5,293.3 1957.5,271.8 1956.5,289.7 1955.5,274.2 1954.5,279.7 1953.5,276.4 1952.5,269.3 1951.5,278.3 1950.5,278.6 1949.5,277.1 1948.5,283 1947.5,274.3 1946.5,276.2 1945.5,279 1944.5,279 1943.5,271.2 1942.5,273.6 1941.5,274.7 1940.5,266 1939.5,275.8 1938.5,272.9 1937.5,264.1 1936.5,275.1 1935.5,270.5 1934.5,282.9 1933.5,273.4 1932.5,266.4 1931.5,286 1930.5,267.8 1929.5,263.4 1928.5,264.9 1927.5,266.4 1926.5,262.6 1925.5,275.9 1924.5,266.3 1923.5,267.8 1922.5,256 1921.5,275.8 1920.5,263.3 1919.5,271.1 1918.5,272 1917.5,262.9 1916.5,259.4 1915.5,261.9 1914.5,269.6 1913.5,268.8 1912.5,257.4 1911.5,268.6 1910.5,267.2 1909.5,267.2 1908.5,271.8 1907.5,257.8 1906.5,259 1905.5,267.3 1904.5,269.6 1903.5,254.4 1902.5,247 1901.5,269.9 1900.5,252 1899.5,264.8 1898.5,269.7 1897.5,260.1 1896.5,265.5 1895.5,254.7 1894.5,251.7 1893.5,260.5 1892.5,260 1891.5,246.1 1890.5,259.7 1889.5,245.8 1888.5,245.8 1887.5,253.8 1886.5,249.3 1885.5,250.5 1884.5,249.1 1883.5,243 1882.5,250.4 1881.5,253.9 1880.5,242.7 1879.5,253.2 1878.5,253.2 1877.5,252.1 1876.5,252.1 1875.5,250.4 1874.5,234.6 1873.5,245.3 1872.5,234.8 1871.5,242.1 1870.5,247 1869.5,253 1868.5,231.8 1867.5,238.4 1866.5,234.6 1865.5,241.8 1864.5,239.1 1863.5,234 1862.5,243.6 1861.5,240.2 1860.5,240.1 1859.5,244.3 1858.5,239.7 1857.5,231.3 1856.5,234 1855.5,236.9 1854.5,236.9 1853.5,232.4 1852.5,237.1 1851.5,229.3 1850.5,227.6 1849.5,231.8 1848.5,228.1 1847.5,234.1 1846.5,235.6 1845.5,227.9 1844.5,233 1843.5,225.5 1842.5,244.5 1841.5,233.1 1840.5,221.7 1839.5,224.8 1838.5,222.8 1837.5,229.3 1836.5,229.3 1835.5,230.6 1834.5,230.6 1833.5,227.9 1832.5,227.9 1831.5,228.8 1830.5,224.2 1829.5,224.2 1828.5,220.4 1827.5,227.8 1826.5,227.8 1825.5,221 1824.5,222.7 1823.5,222.7 1822.5,219.5 1821.5,227.5 1820.5,216.8 1819.5,226.5 1818.5,218.2 1817.5,218.9 1816.5,217.8 1815.5,212.6 1814.5,220.3 1813.5,220.3 1812.5,222.5 1811.5,223.7 1810.5,219.7 1809.5,213.1 1808.5,210.4 1807.5,214.5 1806.5,212 1805.5,214.8 1804.5,208.8 1803.5,220.4 1802.5,208.7 1801.5,218.3 1800.5,218.3 1799.5,210 1798.5,223 1797.5,211.1 1796.5,207.7 1795.5,209 1794.5,207.8 1793.5,214.5 1792.5,202.8 1791.5,208.5 1790.5,208.5 1789.5,212.2 1788.5,203 1787.5,205.3 1786.5,219 1785.5,209.7 1784.5,213 1783.5,205.1 1782.5,202.4 1781.5,205.8 1780.5,208.9 1779.5,210.8 1778.5,205.1 1777.5,207.1 1776.5,203.4 1775.5,211.5 1774.5,211.5 1773.5,205.7 1772.5,206 1771.5,198.2 1770.5,207 1769.5,204.5 1768.5,205.9 1767.5,200.2 1766.5,200.6 1765.5,196.3 1764.5,194.6 1763.5,196.6 1762.5,198.4 1761.5,197.8 1760.5,194 1759.5,200.3 1758.5,193.3 1757.5,198.6 1756.5,206.9 1755.5,194.9 1754.5,194.1 1753.5,201 1752.5,192.6 1751.5,194.3 1750.5,194.3 1749.5,189.8 1748.5,193.3 1747.5,192.3 1746.5,192 1745.5,193.5 1744.5,193.5 1743.5,191.3 1742.5,193.1 1741.5,191.9 1740.5,188.1 1739.5,195.5 1738.5,193.8 1737.5,191.6 1736.5,187.3 1735.5,187.5 1734.5,194 1733.5,189.3 1732.5,182 1731.5,190.1 1730.5,183.3 1729.5,191.8 1728.5,187.3 1727.5,188 1726.5,181.5 1725.5,191.3 1724.5,179.2 1723.5,187.3 1722.5,184.7 1721.5,182.5 1720.5,184.7 1719.5,182.6 1718.5,183.4 1717.5,190.1 1716.5,184.8 1715.5,180.2 1714.5,194.7 1713.5,189.7 1712.5,179.3 1711.5,181.6 1710.5,184.5 1709.5,185.6 1708.5,180.9 1707.5,174.9 1706.5,184.6 1705.5,184.7 1704.5,182.3 1703.5,178.4 1702.5,178.4 1701.5,188.4 1700.5,177.9 1699.5,179.9 1698.5,179.2 1697.5,175.5 1696.5,175.5 1695.5,178 1694.5,169.7 1693.5,174.1 1692.5,174.1 1691.5,174.2 1690.5,173.5 1689.5,166.9 1688.5,170.1 1687.5,174 1686.5,173.7 1685.5,171.4 1684.5,167 1683.5,166.3 1682.5,165.1 1681.5,169.8 1680.5,167.3 1679.5,166 1678.5,164.2 1677.5,164.2 1676.5,165.5 1675.5,159 1674.5,170.5 1673.5,160.1 1672.5,158.6 1671.5,162.4 1670.5,162.4 1669.5,160.1 1668.5,158.5 1667.5,155.2 1666.5,156.6 1665.5,149.8 1664.5,160.8 1663.5,154.4 1662.5,149 1661.5,150.2 1660.5,151.6 1659.5,148 1658.5,151.8 1657.5,151.8 1656.5,145.3 1655.5,143.8 1654.5,144.2 1653.5,137.5 1652.5,133.4 1651.5,137.6 1650.5,137.6 1649.5,134.7 1648.5,130.4 1647.5,129.8 1646.5,133.1 1645.5,124 1644.5,124 1643.5,121.1 1642.5,120.6 1641.5,122.7 1640.5,118.7 1639.5,115.2 1638.5,112.9 1637.5,111.7 1636.5,107.2 1635.5,110.1 1634.5,102.9 1633.5,97.5 1632.5,91.3 1631.5,86 1630.5,78.1 1629.5,72.5 1628.5,63.7 1627.5,96.8 1626.5,247.1 1625.5,397.4 1624.5,462 1623.5,462 1622.5,462 1621.5,462 1620.5,462 1619.5,462 1618.5,462 1617.5,462 1616.5,462 1615.5,462 1614.5,462 1613.5,462 1612.5,462 1611.5,462 1610.5,462 1609.5,462 1608.5,462 1607.5,462 1606.5,462 1605.5,462 1604.5,462 1603.5,462 1602.5,462 1601.5,462 1600.5,462" fill="#1f3ff2" stroke="#1f3ff2"/>
<polygon points="1600.5,462 1601.5,462 1602.5,462 1603.5,462 1604.5,462 1605.5,462 1606.5,462 1607.5,462 1608.5,462 1609.5,462 1610.5,462 1611.5,462 1612.5,462 1613.5,462 1614.5,462 1615.5,462 1616.5,462 1617.5,462 1618.5,462 1619.5,462 1620.5,462 1621.5,462 1622.5,462 1623.5,462 1624.5,397.4 1625.5,247.1 1626.5,96.8 1627.5,52.4 1628.5,55 1629.5,60.7 1630.5,69.2 1631.5,74.2 1632.5,80.3 1633.5,86.2 1634.5,88.7 1635.5,88.7 1636.5,96.9 1637.5,97.4 1638.5,97.9 1639.5,101.3 1640.5,103.8 1641.5,106.9 1642.5,106.6 1643.5,106.9 1644.5,109.5 1645.5,112.7 1646.5,114.6 1647.5,115.5 1648.5,114.7 1649.5,114.3 1650.5,114.8 1651.5,119.4 1652.5,120.4 1653.5,118.8 1654.5,121.5 1655.5,122.1 1656.5,122.3 1657.5,121.4 1658.5,121.9 1659.5,126.7 1660.5,126 1661.5,124.3 1662.5,128.4 1663.5,131.4 1664.5,124.5 1665.5,131.3 1666.5,131 1667.5,130.5 1668.5,132.7 1669.5,134.3 1670.5,133.9 1671.5,133.3 1672.5,133.7 1673.5,135.1 1674.5,131.7 1675.5,137.5 1676.5,139.1 1677.5,141.7 1678.5,131.3 1679.5,138.4 1680.5,137.5 1681.5,136.9 1682.5,139.5 1683.5,140.4 1684.5,143.6 1685.5,144 1686.5,143.2 1687.5,143.2 1688.5,145.7 1689.5,149.4 1690.5,146.6 1691.5,144.4 1692.5,143 1693.5,146.1 1694.5,147.5 1695.5,147.2 1696.5,147.9 1697.5,153.8 1698.5,145.7 1699.5,153.9 1700.5,152.9 1701.5,154.1 1702.5,152.7 1703.5,152.7 1704.5,159.1 1705.5,149.4 1706.5,151.7 1707.5,159.7 1708.5,151.8 1709.5,160 1710.5,159.7 1711.5,156.2 1712.5,157.9 1713.5,157.7 1714.5,159.3 1715.5,159.7 1716.5,161.9 1717.5,161.9 1718.5,165.8 1719.5,162.3 1720.5,161.9 1721.5,166 1722.5,164.3 1723.5,166.2 1724.5,167.1 1725.5,169.4 1726.5,164.9 1727.5,167.2 1728.5,169.4 1729.5,169.1 1730.5,167.9 1731.5,166.3 1732.5,165.5 1733.5,169 1734.5,169 1735.5,170.5 1736.5,170.9 1737.5,170.9 1738.5,170.9 1739.5,170.9 1740.5,169.6 1741.5,171.2 1742.5,174.9 1743.5,167.3 1744.5,174.8 1745.5,173.8 1746.5,175.8 1747.5,173.7 1748.5,172.9 1749.5,175.1 1750.5,175.7 1751.5,177.6 1752.5,176.5 1753.5,176.5 1754.5,173.1 1755.5,176.1 1756.5,176.1 1757.5,172.5 1758.5,179.6 1759.5,178.7 1760.5,180.5 1761.5,181.3 1762.5,175.1 1763.5,180.6 1764.5,180 1765.5,181.5 1766.5,181.5 1767.5,183.1 1768.5,189.3 1769.5,185.3 1770.5,183.1 1771.5,183.3 1772.5,186.6 1773.5,185.6 1774.5,185.5 1775.5,184.5 1776.5,186 1777.5,185.3 1778.5,187.2 1779.5,187.2 1780.5,188.3 1781.5,188.3 1782.5,188.1 1783.5,190.2 1784.5,188.3 1785.5,194 1786.5,188.8 1787.5,196.2 1788.5,183.7 1789.5,195.9 1790.5,196.9 1791.5,186.2 1792.5,186.2 1793.5,190.6 1794.5,195.3 1795.5,188.8 1796.5,188.1 1797.5,188.1 1798.5,195.8 1799.5,192.6 1800.5,194.1 1801.5,192.6 1802.5,192.6 1803.5,187 1804.5,195.1 1805.5,196.6 1806.5,194.7 1807.5,197 1808.5,186.9 1809.5,194.5 1810.5,194.2 1811.5,196.6 1812.5,193 1813.5,197.2 1814.5,196.5 1815.5,201.2 1816.5,200.5 1817.5,202.9 1818.5,201.9 1819.5,195.5 1820.5,202.2 1821.5,200.9 1822.5,201.8 1823.5,199.7 1824.5,199.7 1825.5,195.7 1826.5,206.3 1827.5,206.3 1828.5,206.6 1829.5,209.3 1830.5,202.4 1831.5,204.7 1832.5,212.5 1833.5,197.3 1834.5,207.1 1835.5,203.8 1836.5,205.9 1837.5,200.2 1838.5,200.2 1839.5,208 1840.5,207.2 1841.5,204.5 1842.5,217.1 1843.5,205.3 1844.5,204.9 1845.5,205.6 1846.5,208.6 1847.5,206.6 1848.5,209.9 1849.5,214.5 1850.5,205.5 1851.5,206.4 1852.5,215.8 1853.5,211.2 1854.5,209.9 1855.5,209.9 1856.5,209 1857.5,209 1858.5,218.6 1859.5,215.4 1860.5,215.7 1861.5,215.4 1862.5,219.3 1863.5,213.9 1864.5,219.9 1865.5,217.1 1866.5,216 1867.5,210.7 1868.5,208.3 1869.5,208.3 1870.5,214.5 1871.5,213.7 1872.5,213.7 1873.5,217.8 1874.5,214.9 1875.5,219.3 1876.5,217.8 1877.5,215.9 1878.5,215.4 1879.5,215.1 1880.5,217.1 1881.5,217.1 1882.5,217.1 1883.5,223.5 1884.5,216.7 1885.5,224.8 1886.5,225.4 1887.5,218.4 1888.5,223.3 1889.5,217.8 1890.5,217.8 1891.5,216.4 1892.5,219.6 1893.5,225.9 1894.5,224.2 1895.5,208.6 1896.5,217.9 1897.5,222.9 1898.5,222.9 1899.5,220.8 1900.5,225.5 1901.5,217.3 1902.5,232.3 1903.5,227.7 1904.5,218.2 1905.5,229.1 1906.5,216.5 1907.5,220 1908.5,237 1909.5,228.6 1910.5,223.8 1911.5,229.2 1912.5,235.9 1913.5,221.4 1914.5,225 1915.5,224.2 1916.5,227.6 1917.5,224.9 1918.5,234.9 1919.5,230.5 1920.5,227.5 1921.5,227.5 1922.5,231.6 1923.5,227.2 1924.5,229 1925.5,229 1926.5,223.4 1927.5,236.1 1928.5,233.3 1929.5,233.3 1930.5,231.5 1931.5,238.9 1932.5,236.6 1933.5,229.3 1934.5,244.3 1935.5,237.1 1936.5,241.9 1937.5,241.9 1938.5,236.5 1939.5,241.4 1940.5,232.5 1941.5,232.5 1942.5,235.4 1943.5,238.5 1944.5,241.2 1945.5,243.1 1946.5,243.1 1947.5,236 1948.5,236 1949.5,238.6 1950.5,229.3 1951.5,239.5 1952.5,239.5 1953.5,240 1954.5,233.9 1955.5,240.2 1956.5,237.3 1957.5,236.1 1958.5,236.5 1959.5,242.6 1960.5,242.6 1961.5,232.1 1962.5,249.5 1963.5,243 1964.5,244.1 1965.5,232.6 1966.5,241.2 1967.5,241.2 1968.5,240.4 1969.5,247.4 1970.5,250.7 1971.5,251.6 1972.5,246.1 1973.5,243.9 1974.5,249.2 1975.5,247.3 1976.5,247.7 1977.5,244.6 1978.5,243.3 1979.5,243.3 1980.5,249.2 1981.5,253.9 1981.5,266.2 1980.5,266.2 1979.5,278.2 1978.5,274.7 1977.5,271.6 1976.5,289.6 1975.5,275.2 1974.5,277.5 1973.5,277.5 1972.5,263.5 1971.5,267.7 1970.5,271.3 1969.5,266.7 1968.5,265.3 1967.5,265 1966.5,257.4 1965.5,262.9 1964.5,265.6 1963.5,265.6 1962.5,264.4 1961.5,256.7 1960.5,275.2 1959.5,267.7 1958.5,263.9 1957.5,262.3 1956.5,263.4 1955.5,265.3 1954.5,249 1953.5,253.6 1952.5,253.6 1951.5,257.7 1950.5,273.2 1949.5,273.2 1948.5,258.3 1947.5,247 1946.5,250.1 1945.5,257.2 1944.5,258.5 1943.5,252.4 1942.5,257.1 1941.5,253.8 1940.5,266.2 1939.5,268.6 1938.5,268.6 1937.5,258.6 1936.5,254.1 1935.5,255.4 1934.5,252.3 1933.5,252.1 1932.5,252.1 1931.5,251.8 1930.5,255.5 1929.5,254.3 1928.5,257.1 1927.5,246.1 1926.5,251.6 1925.5,267.5 1924.5,248.1 1923.5,247.4 1922.5,264.6 1921.5,264.6 1920.5,249.9 1919.5,253.3 1918.5,254.1 1917.5,256.1 1916.5,246.5 1915.5,238.9 1914.5,241 1913.5,240.6 1912.5,262.1 1911.5,250.4 1910.5,245.6 1909.5,239.2 1908.5,250.2 1907.5,246.9 1906.5,245.2 1905.5,245.3 1904.5,239.2 1903.5,242.1 1902.5,248.7 1901.5,239.2 1900.5,261.6 1899.5,256.7 1898.5,256.7 1897.5,238.5 1896.5,235.7 1895.5,233.3 1894.5,244.7 1893.5,249 1892.5,250.6 1891.5,250.6 1890.5,247.4 1889.5,238.7 1888.5,233.3 1887.5,238.2 1886.5,245.8 1885.5,241 1884.5,235.1 1883.5,235.7 1882.5,251.3 1881.5,240.6 1880.5,237.6 1879.5,221.8 1878.5,232.1 1877.5,235.8 1876.5,229.2 1875.5,238.9 1874.5,230.2 1873.5,232.3 1872.5,230.8 1871.5,230.2 1870.5,238.3 1869.5,238.2 1868.5,233.1 1867.5,227 1866.5,227 1865.5,242.4 1864.5,229 1863.5,222.1 1862.5,232.8 1861.5,225.7 1860.5,231 1859.5,223.7 1858.5,226.3 1857.5,227 1856.5,228.6 1855.5,224.1 1854.5,228.5 1853.5,222.2 1852.5,227.7 1851.5,227.3 1850.5,227 1849.5,233.9 1848.5,228.8 1847.5,228.7 1846.5,228.7 1845.5,233.1 1844.5,226.9 1843.5,226.9 1842.5,227.3 1841.5,227.7 1840.5,219.5 1839.5,224.8 1838.5,219.4 1837.5,212.1 1836.5,225 1835.5,225 1834.5,218.3 1833.5,221.8 1832.5,221.8 1831.5,225.4 1830.5,225.4 1829.5,220.4 1828.5,216.3 1827.5,218.9 1826.5,230.4 1825.5,217.8 1824.5,216.1 1823.5,215.2 1822.5,222.7 1821.5,220.1 1820.5,220.7 1819.5,216.3 1818.5,216.3 1817.5,215 1816.5,223.6 1815.5,221.7 1814.5,221.7 1813.5,214.3 1812.5,215.1 1811.5,206.8 1810.5,209.6 1809.5,204.1 1808.5,209 1807.5,209.6 1806.5,213.1 1805.5,218.1 1804.5,212.3 1803.5,201.9 1802.5,205.6 1801.5,220.4 1800.5,202.3 1799.5,209.4 1798.5,206.2 1797.5,213 1796.5,210.8 1795.5,210.8 1794.5,206.8 1793.5,203.9 1792.5,203.1 1791.5,208.6 1790.5,209.5 1789.5,208.8 1788.5,199.3 1787.5,203.9 1786.5,203.9 1785.5,207 1784.5,197.3 1783.5,200.6 1782.5,198.6 1781.5,199.9 1780.5,197.8 1779.5,198.7 1778.5,197.9 1777.5,191.2 1776.5,206.5 1775.5,195.5 1774.5,195.5 1773.5,201.7 1772.5,199.4 1771.5,199.7 1770.5,192.4 1769.5,203.9 1768.5,203.9 1767.5,199.9 1766.5,200.3 1765.5,197.4 1764.5,194.1 1763.5,194.1 1762.5,195.1 1761.5,197 1760.5,197 1759.5,191.8 1758.5,192.6 1757.5,192.9 1756.5,191.7 1755.5,192.6 1754.5,184.1 1753.5,189.3 1752.5,184.2 1751.5,190.2 1750.5,190.8 1749.5,187 1748.5,187.3 1747.5,182.7 1746.5,185.9 1745.5,187.4 1744.5,181.5 1743.5,192.6 1742.5,188.8 1741.5,180.4 1740.5,181.1 1739.5,185.4 1738.5,182.6 1737.5,178.3 1736.5,184.9 1735.5,180.3 1734.5,183.6 1733.5,177.2 1732.5,176.1 1731.5,180.9 1730.5,178.4 1729.5,178.4 1728.5,183.7 1727.5,178.2 1726.5,183.9 1725.5,177.3 1724.5,171.9 1723.5,174.3 1722.5,174.8 1721.5,177.3 1720.5,170.9 1719.5,174.7 1718.5,172.8 1717.5,170.4 1716.5,183.2 1715.5,183.2 1714.5,171.5 1713.5,167.3 1712.5,165.4 1711.5,163.7 1710.5,163.3 1709.5,168.3 1708.5,175.5 1707.5,167.3 1706.5,166.3 1705.5,160.7 1704.5,164.7 1703.5,161.7 1702.5,161.8 1701.5,164.5 1700.5,164.5 1699.5,168.9 1698.5,157.2 1697.5,162.9 1696.5,159.8 1695.5,154.5 1694.5,158.1 1693.5,156.5 1692.5,156.1 1691.5,154.9 1690.5,154.9 1689.5,157.9 1688.5,153 1687.5,149.2 1686.5,150.2 1685.5,155.6 1684.5,150.8 1683.5,150.8 1682.5,150.2 1681.5,152.3 1680.5,147.1 1679.5,149.7 1678.5,149.4 1677.5,146.7 1676.5,146.7 1675.5,146.3 1674.5,144.4 1673.5,145.5 1672.5,144.4 1671.5,141.8 1670.5,141.2 1669.5,143.2 1668.5,146.7 1667.5,146.7 1666.5,144.6 1665.5,141.7 1664.5,135.8 1663.5,136.4 1662.5,136.4 1661.5,134.1 1660.5,135.7 1659.5,133.8 1658.5,135.7 1657.5,130.9 1656.5,131.2 1655.5,129 1654.5,127.9 1653.5,128.3 1652.5,124.3 1651.5,127.5 1650.5,127.5 1649.5,124.2 1648.5,121.7 1647.5,120.9 1646.5,123.4 1645.5,118.8 1644.5,118.8 1643.5,117.6 1642.5,114.7 1641.5,114.1 1640.5,112.8 1639.5,105.4 1638.5,106.5 1637.5,102.7 1636.5,102.2 1635.5,98.2 1634.5,94.6 1633.5,92.4 1632.5,87.6 1631.5,80.3 1630.5,76.5 1629.5,69.2 1628.5,60.7 1627.5,96.8 1626.5,247.1 1625.5,397.4 1624.5,462 1623.5,462 1622.5,462 1621.5,462 1620.5,462 1619.5,462 1618.5,462 1617.5,462 1616.5,462 1615.5,462 1614.5,462 1613.5,462 1612.5,462 1611.5,462 1610.5,462 1609.5,462 1608.5,462 1607.5,462 1606.5,462 1605.5,462 1604.5,462 1603.5,462 1602.5,462 1601.5,462 1600.5,462" fill="#7f8cf2" stroke="#7f8cf2"/>
<polygon points="1600.5,339.7 1601.5,339.7 1602.5,288.2 1603.5,315.1 1604.5,402.3 1605.5,341.8 1606.5,355.4 1607.5,298.5 1608.5,306 1609.5,287.5 1610.5,268.8 1611.5,315.8 1612.5,284.9 1613.5,305.4 1614.5,295.2 1615.5,291.1 1616.5,282.2 1617.5,335.8 1618.5,294.4 1619.5,298.9 1620.5,336.2 1621.5,262.8 1622.5,314.7 1623.5,312.1 1624.5,233.2 1625.5,154.3 1626.5,75.4 1627.5,52.1 1628.5,53.6 1629.5,55.5 1630.5,59.1 1631.5,66 1632.5,65.1 1633.5,68 1634.5,73 1635.5,76.2 1636.5,74.8 1637.5,80.9 1638.5,80.1 1639.5,83.1 1640.5,83 1641.5,82.7 1642.5,84.7 1643.5,89.4 1644.5,94.4 1645.5,93.9 1646.5,94.9 1647.5,88.7 1648.5,94.7 1649.5,95 1650.5,95 1651.5,95.3 1652.5,97 1653.5,99.5 1654.5,98.9 1655.5,96.5 1656.5,101.9 1657.5,101 1658.5,99.7 1659.5,100.1 1660.5,101.8 1661.5,101.8 1662.5,102.1 1663.5,107 1664.5,108.2 1665.5,105.1 1666.5,103.5 1667.5,113.7 1668.5,107.6 1669.5,105.7 1670.5,109 1671.5,116.7 1672.5,117.1 1673.5,108.8 1674.5,115.6 1675.5,116.6 1676.5,108.5 1677.5,116.2 1678.5,116.2 1679.5,119.5 1680.5,118.6 1681.5,119.2 1682.5,121.1 1683.5,118.1 1684.5,112.1 1685.5,122 1686.5,121.7 1687.5,129.7 1688.5,124.3 1689.5,121.3 1690.5,121.3 1691.5,127.7 1692.5,126 1693.5,126 1694.5,126 1695.5,130.3 1696.5,122.7 1697.5,123 1698.5,123 1699.5,127.2 1700.5,127.2 1701.5,128.2 1702.5,132 1703.5,138.7 1704.5,126.3 1705.5,135.5 1706.5,135.5 1707.5,139 1708.5,140.5 1709.5,140.5 1710.5,141.6 1711.5,140.7 1712.5,138.7 1713.5,138.8 1714.5,135.4 1715.5,136.6 1716.5,135.6 1717.5,132.7 1718.5,142.5 1719.5,138.6 1720.5,138.4 1721.5,142.5 1722.5,144.8 1723.5,140.9 1724.5,142.2 1725.5,135.9 1726.5,134.8 1727.5,138.6 1728.5,138.6 1729.5,142 1730.5,142.5 1731.5,142.5 1732.5,146 1733.5,142.6 1734.5,135.6 1735.5,140.7 1736.5,147.7 1737.5,148.4 1738.5,144.9 1739.5,148.5 1740.5,135.7 1741.5,139.2 1742.5,140.6 1743.5,150 1744.5,150.4 1745.5,146.9 1746.5,141.5 1747.5,156.8 1748.5,154.7 1749.5,158.7 1750.5,142.8 1751.5,147 1752.5,158.3 1753.5,141.6 1754.5,152.2 1755.5,147.5 1756.5,148.2 1757.5,149.4 1758.5,156.6 1759.5,148.8 1760.5,158.5 1761.5,156.5 1762.5,152.5 1763.5,159.3 1764.5,150 1765.5,163.4 1766.5,156 1767.5,144 1768.5,157.9 1769.5,164.3 1770.5,158.7 1771.5,160.5 1772.5,153.9 1773.5,146.6 1774.5,156.6 1775.5,156.1 1776.5,150.4 1777.5,150.4 1778.5,161.8 1779.5,165.9 1780.5,161.1 1781.5,150.2 1782.5,152.4 1783.5,156.4 1784.5,163.8 1785.5,162.6 1786.5,161.7 1787.5,160.6 1788.5,160.3 1789.5,161.2 1790.5,165.6 1791.5,162.7 1792.5,153.6 1793.5,153.6 1794.5,158.3 1795.5,164.6 1796.5,164.6 1797.5,171.1 1798.5,165.3 1799.5,165.3 1800.5,166.1 1801.5,166.1 1802.5,158.1 1803.5,167.2 1804.5,173.4 1805.5,173.4 1806.5,162.8 1807.5,162.8 1808.5,161.9 1809.5,170.3 1810.5,162.4 1811.5,157.3 1812.5,157.3 1813.5,169.6 1814.5,172.6 1815.5,162.8 1816.5,169.1 1817.5,166.6 1818.5,170 1819.5,170 1820.5,173.7 1821.5,159.2 1822.5,159.2 1823.5,174.9 1824.5,172.4 1825.5,177.7 1826.5,170.1 1827.5,172.3 1828.5,172.3 1829.5,173.4 1830.5,161.7 1831.5,161.7 1832.5,184.2 1833.5,163.1 1834.5,174.7 1835.5,180 1836.5,180.6 1837.5,170.2 1838.5,186.8 1839.5,180.2 1840.5,175.1 1841.5,173.2 1842.5,185.4 1843.5,177.6 1844.5,170.9 1845.5,170.9 1846.5,175.2 1847.5,175.9 1848.5,175.4 1849.5,180 1850.5,175 1851.5,178.9 1852.5,178 1853.5,170.5 1854.5,182.5 1855.5,182.9 1856.5,164.5 1857.5,178.4 1858.5,177.5 1859.5,176.5 1860.5,176.1 1861.5,175.1 1862.5,176.5 1863.5,184.3 1864.5,181.8 1865.5,177.8 1866.5,175.6 1867.5,168.2 1868.5,168.2 1869.5,180.6 1870.5,185.4 1871.5,195 1872.5,175.2 1873.5,175.2 1874.5,178.2 1875.5,190.3 1876.5,189.9 1877.5,188.9 1878.5,171.2 1879.5,184.1 1880.5,169.9 1881.5,178.8 1882.5,197.9 1883.5,178.4 1884.5,184.6 1885.5,181.7 1886.5,181.7 1887.5,175.3 1888.5,190.9 1889.5,193.3 1890.5,195.5 1891.5,182.3 1892.5,184.6 1893.5,174.1 1894.5,196.4 1895.5,177.2 1896.5,187.2 1897.5,196.2 1898.5,193.8 1899.5,175.3 1900.5,193.2 1901.5,194.7 1902.5,183.9 1903.5,175.7 1904.5,185.2 1905.5,189.6 1906.5,182.6 1907.5,182.6 1908.5,174.4 1909.5,174.4 1910.5,188.6 1911.5,187.9 1912.5,195.5 1913.5,188.5 1914.5,188.7 1915.5,192.3 1916.5,185.2 1917.5,198.7 1918.5,198.2 1919.5,184 1920.5,184 1921.5,208.3 1922.5,208.4 1923.5,193.6 1924.5,193.6 1925.5,196.9 1926.5,206.7 1927.5,191 1928.5,191 1929.5,197.3 1930.5,186.7 1931.5,186.7 1932.5,188.1 1933.5,204.5 1934.5,201.4 1935.5,207.6 1936.5,209.3 1937.5,194.7 1938.5,203.4 1939.5,207.5 1940.5,207.5 1941.5,206.6 1942.5,199 1943.5,199 1944.5,199.2 1945.5,197.1 1946.5,205.1 1947.5,206.9 1948.5,204.3 1949.5,204.3 1950.5,189.4 1951.5,194.9 1952.5,201.1 1953.5,203.6 1954.5,189.5 1955.5,194.4 1956.5,203.5 1957.5,202 1958.5,203.5 1959.5,203.5 1960.5,203.6 1961.5,207.2 1962.5,207.2 1963.5,194.5 1964.5,199.3 1965.5,190.6 1966.5,190.6 1967.5,201.9 1968.5,209.9 1969.5,209.7 1970.5,212.9 1971.5,198 1972.5,203.1 1973.5,202.3 1974.5,196.2 1975.5,193.1 1976.5,191.9 1977.5,191.9 1978.5,195.6 1979.5,210 1980.5,199.2 1981.5,200 1981.5,227 1980.5,243 1979.5,269.5 1978.5,236.3 1977.5,235.8 1976.5,241.5 1975.5,222.2 1974.5,226.6 1973.5,218.1 1972.5,237.2 1971.5,234.7 1970.5,243 1969.5,239.9 1968.5,259.8 1967.5,228.2 1966.5,238.8 1965.5,230.4 1964.5,230.4 1963.5,246.2 1962.5,246.2 1961.5,266.8 1960.5,262.3 1959.5,262.3 1958.5,246.3 1957.5,229.6 1956.5,236.2 1955.5,238.3 1954.5,227.7 1953.5,242.3 1952.5,249.2 1951.5,249.2 1950.5,231.7 1949.5,251.5 1948.5,266.5 1947.5,261 1946.5,238.6 1945.5,230.8 1944.5,216.9 1943.5,227.7 1942.5,254.8 1941.5,238.5 1940.5,239.3 1939.5,256.5 1938.5,245.8 1937.5,231.2 1936.5,226.9 1935.5,234.8 1934.5,254.9 1933.5,237.7 1932.5,209.7 1931.5,220.8 1930.5,228.9 1929.5,224.8 1928.5,226.4 1927.5,225.4 1926.5,228.8 1925.5,254.4 1924.5,221.1 1923.5,230.4 1922.5,239.1 1921.5,246.4 1920.5,222.9 1919.5,215.9 1918.5,238.2 1917.5,226.5 1916.5,226.5 1915.5,221.4 1914.5,224.2 1913.5,225.2 1912.5,259.8 1911.5,220.8 1910.5,225.2 1909.5,238.4 1908.5,234.5 1907.5,210.7 1906.5,228.5 1905.5,218.1 1904.5,223.4 1903.5,223.4 1902.5,222.7 1901.5,218.7 1900.5,218.7 1899.5,216.5 1898.5,216.5 1897.5,218.3 1896.5,234.4 1895.5,212.6 1894.5,225.2 1893.5,254.7 1892.5,225.1 1891.5,222.8 1890.5,222.8 1889.5,228 1888.5,204.9 1887.5,218.3 1886.5,218.3 1885.5,219.3 1884.5,210.3 1883.5,213.1 1882.5,235.6 1881.5,211.3 1880.5,242.2 1879.5,214.8 1878.5,233.7 1877.5,232.2 1876.5,224.8 1875.5,216.9 1874.5,215.8 1873.5,218.3 1872.5,224.4 1871.5,224.4 1870.5,214 1869.5,212.6 1868.5,208.6 1867.5,218.6 1866.5,214.7 1865.5,237.4 1864.5,217 1863.5,218.4 1862.5,218.4 1861.5,195.7 1860.5,213 1859.5,213.6 1858.5,199.8 1857.5,199.8 1856.5,200.8 1855.5,203.4 1854.5,203.4 1853.5,207.6 1852.5,203.4 1851.5,228.8 1850.5,202 1849.5,210.7 1848.5,182.4 1847.5,197.6 1846.5,209.7 1845.5,208.9 1844.5,198.8 1843.5,199.2 1842.5,212 1841.5,205.8 1840.5,193.3 1839.5,213 1838.5,213 1837.5,217.9 1836.5,211.2 1835.5,198.6 1834.5,207.6 1833.5,195.7 1832.5,198.2 1831.5,192.2 1830.5,193.5 1829.5,211.6 1828.5,216.1 1827.5,192.5 1826.5,196.7 1825.5,186.8 1824.5,197.6 1823.5,197.6 1822.5,188.7 1821.5,200.5 1820.5,192.5 1819.5,210.2 1818.5,184 1817.5,214.3 1816.5,194.3 1815.5,194.3 1814.5,210.1 1813.5,189.1 1812.5,192.5 1811.5,195.9 1810.5,204.3 1809.5,189.7 1808.5,181.6 1807.5,194.4 1806.5,203.8 1805.5,194.6 1804.5,205.9 1803.5,183.9 1802.5,180.9 1801.5,185.3 1800.5,186 1799.5,179.3 1798.5,193.6 1797.5,193.6 1796.5,203 1795.5,175.1 1794.5,197.6 1793.5,182.4 1792.5,171 1791.5,178.9 1790.5,179.3 1789.5,176.7 1788.5,186.6 1787.5,187.2 1786.5,178.9 1785.5,196.6 1784.5,177.6 1783.5,184.8 1782.5,172.1 1781.5,181 1780.5,180.9 1779.5,181.3 1778.5,178.2 1777.5,178.2 1776.5,179.6 1775.5,186.9 1774.5,172.3 1773.5,172.9 1772.5,178.6 1771.5,178.6 1770.5,185.3 1769.5,189.2 1768.5,176.9 1767.5,175 1766.5,171.6 1765.5,182.3 1764.5,177.8 1763.5,178.6 1762.5,162.6 1761.5,184 1760.5,178 1759.5,177.1 1758.5,184 1757.5,177.3 1756.5,181.4 1755.5,166.8 1754.5,170.8 1753.5,162.9 1752.5,169.9 1751.5,165.1 1750.5,175.3 1749.5,175.3 1748.5,178.3 1747.5,175.5 1746.5,175.5 1745.5,181.1 1744.5,173.1 1743.5,176.5 1742.5,160 1741.5,158.4 1740.5,164.1 1739.5,169.9 1738.5,163.3 1737.5,161.8 1736.5,168.8 1735.5,161.6 1734.5,151.8 1733.5,157.6 1732.5,160 1731.5,159.3 1730.5,164.7 1729.5,164.7 1728.5,158.4 1727.5,150.7 1726.5,153.6 1725.5,146.4 1724.5,176 1723.5,169.3 1722.5,169.3 1721.5,161.8 1720.5,149.3 1719.5,152.7 1718.5,156.7 1717.5,148.2 1716.5,168.7 1715.5,168.7 1714.5,157.1 1713.5,148.8 1712.5,157.5 1711.5,152.5 1710.5,150.1 1709.5,159.9 1708.5,152.4 1707.5,148.2 1706.5,148.2 1705.5,148.4 1704.5,145.5 1703.5,147.9 1702.5,154.3 1701.5,150 1700.5,162.4 1699.5,147.9 1698.5,148.7 1697.5,137.6 1696.5,150.1 1695.5,140.4 1694.5,145.8 1693.5,147.9 1692.5,146.7 1691.5,140.5 1690.5,137.2 1689.5,138.1 1688.5,142.2 1687.5,137.5 1686.5,138 1685.5,141 1684.5,135.7 1683.5,141.2 1682.5,141.2 1681.5,130.9 1680.5,138.1 1679.5,135 1678.5,126.9 1677.5,131.2 1676.5,130.6 1675.5,133.7 1674.5,134.8 1673.5,132.4 1672.5,121.1 1671.5,124.4 1670.5,126.7 1669.5,121.2 1668.5,124.1 1667.5,124.1 1666.5,121.2 1665.5,118.5 1664.5,123.5 1663.5,114.7 1662.5,118.9 1661.5,114.9 1660.5,111.3 1659.5,120.4 1658.5,120.4 1657.5,113.8 1656.5,123.9 1655.5,113.7 1654.5,112.8 1653.5,110.7 1652.5,108.5 1651.5,123.4 1650.5,123.4 1649.5,102.8 1648.5,108.5 1647.5,107.3 1646.5,103.4 1645.5,105.8 1644.5,104.3 1643.5,106.4 1642.5,102 1641.5,97.3 1640.5,97.3 1639.5,94.6 1638.5,94.6 1637.5,85.9 1636.5,86.2 1635.5,86.2 1634.5,82.2 1633.5,78.6 1632.5,74.9 1631.5,68.8 1630.5,66.2 1629.5,63.6 1628.5,58.1 1627.5,75.4 1626.5,154.3 1625.5,233.2 1624.5,312.1 1623.5,462 1622.5,396.8 1621.5,462 1620.5,462 1619.5,462 1618.5,462 1617.5,462 1616.5,459 1615.5,462 1614.5,462 1613.5,462 1612.5,462 1611.5,462 1610.5,462 1609.5,462 1608.5,462 1607.5,462 1606.5,462 1605.5,462 1604.5,462 1603.5,462 1602.5,462 1601.5,462 1600.5,367.2" fill="#b3bbf8" stroke="#b3bbf8"/>
</g>
<path d="M1603.3 51.7h7.5M1603.3 202h7.5M1603.3 156.8h4M1603.3 130.3h4M1603.3 111.5h4M1603.3 96.9h4M1603.3 85h4M1603.3 75h4M1603.3 66.3h4M1603.3 58.6h4M1603.3 352.3h7.5M1603.3 307.1h4M1603.3 280.6h4M1603.3 261.8h4M1603.3 247.2h4M1603.3 235.3h4M1603.3 225.3h4M1603.3 216.6h4M1603.3 208.9h4M1603.3 430.9h4M1603.3 412.1h4M1603.3 397.5h4M1603.3 385.6h4M1603.3 375.6h4M1603.3 366.9h4M1603.3 359.2h4M1627.3 455.5v-7.5M1677.5 455.5v-4M1727.8 455.5v-7.5M1778 455.5v-4M1828.3 455.5v-7.5M1878.5 455.5v-4M1928.8 455.5v-7.5" stroke="#000" stroke-width="2.6" fill="none"/>
<text x="1591.7" y="60" font-size="21" text-anchor="end">10<tspan dy="-9" font-size="13.5">0</tspan></text>
<text x="1591.7" y="210.3" font-size="21" text-anchor="end">10<tspan dy="-9" font-size="13.5">-1</tspan></text>
<text x="1591.7" y="360.6" font-size="21" text-anchor="end">10<tspan dy="-9" font-size="13.5">-2</tspan></text>
<text x="1627.3" y="482.7" font-size="21" text-anchor="middle">0</text>
<text x="1727.8" y="482.7" font-size="21" text-anchor="middle">20</text>
<text x="1828.3" y="482.7" font-size="21" text-anchor="middle">40</text>
<text x="1928.8" y="482.7" font-size="21" text-anchor="middle">60</text>
<text x="1509" y="27" font-size="38.5">(d)</text>
<text x="1715.3" y="516.8" font-size="36.2">Time (ns)</text>
<text transform="translate(1540,390.4) rotate(-90)" font-size="34.8">PL intensity (norm.)</text>
<text x="1654" y="69.5" font-size="36.6" font-weight="bold">In-situ TRPL</text>
<text x="1798.5" y="120.5" font-size="24.5">12.74 mW/cm<tspan dy="-9.6" font-size="14.8">2</tspan></text>
<text x="1667.4" y="298.7" font-size="25">0.64 mW/cm<tspan dy="-9.8" font-size="15">2</tspan></text>
<text x="1627" y="343.8" font-size="28.3">CW light intensity</text>
<path d="M1739.5 258.2L1809.2 144.6" stroke="#000" stroke-width="1.6"/>
<polygon points="1815,135.2 1812.5,148.9 1809.8,143.7 1803.9,143.7" fill="#000"/></svg>
</body></html>
